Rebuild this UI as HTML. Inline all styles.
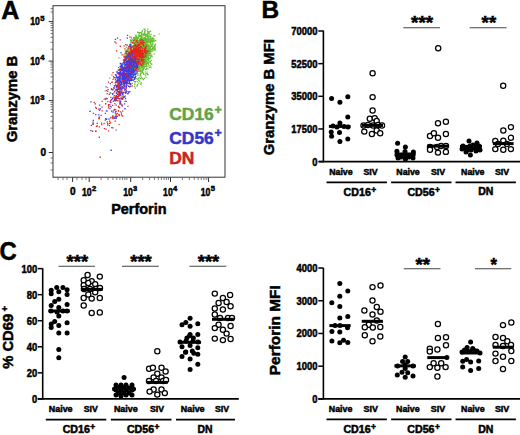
<!DOCTYPE html>
<html><head><meta charset="utf-8"><style>
html,body{margin:0;padding:0;background:#fff;}
svg{display:block;}
text{font-family:"Liberation Sans", sans-serif;font-weight:bold;stroke-width:0.5;}
</style></head><body>
<svg width="520" height="435" viewBox="0 0 520 435">
<defs><filter id="bl" x="-10%" y="-10%" width="120%" height="120%"><feGaussianBlur stdDeviation="0.4"/></filter></defs><rect width="520" height="435" fill="#fff"/>
<text x="1.2" y="18.7" font-size="25" fill="#000" stroke="#000" stroke-width="0.7">A</text><rect x="53" y="5.7" width="172" height="171.5" fill="none" stroke="#333" stroke-width="1"/><g filter="url(#bl)"><path fill="#68be36" d="M147.0 54.2h1.3v1.3h-1.3zM141.3 37.9h1.3v1.3h-1.3zM134.7 52.5h1.3v1.3h-1.3zM141.1 45.4h1.3v1.3h-1.3zM131.6 39.1h1.3v1.3h-1.3zM145.1 35.7h1.3v1.3h-1.3zM141.1 44.1h1.3v1.3h-1.3zM140.0 55.8h1.3v1.3h-1.3zM141.4 42.6h1.3v1.3h-1.3zM142.3 54.2h1.3v1.3h-1.3zM126.6 55.5h1.3v1.3h-1.3zM136.8 45.5h1.3v1.3h-1.3zM126.1 67.3h1.3v1.3h-1.3zM130.1 52.4h1.3v1.3h-1.3zM132.8 65.4h1.3v1.3h-1.3zM141.5 41.8h1.3v1.3h-1.3zM138.0 59.1h1.3v1.3h-1.3zM140.3 43.4h1.3v1.3h-1.3zM147.3 48.4h1.3v1.3h-1.3zM133.4 50.9h1.3v1.3h-1.3zM141.9 48.3h1.3v1.3h-1.3zM136.3 37.2h1.3v1.3h-1.3zM131.4 55.2h1.3v1.3h-1.3zM132.3 68.0h1.3v1.3h-1.3zM137.0 44.0h1.3v1.3h-1.3zM149.6 39.8h1.3v1.3h-1.3zM144.0 46.0h1.3v1.3h-1.3zM135.4 38.4h1.3v1.3h-1.3zM145.1 46.7h1.3v1.3h-1.3zM133.4 68.8h1.3v1.3h-1.3zM142.4 55.4h1.3v1.3h-1.3zM137.0 55.2h1.3v1.3h-1.3zM135.4 45.5h1.3v1.3h-1.3zM141.0 45.0h1.3v1.3h-1.3zM138.1 44.9h1.3v1.3h-1.3zM147.1 42.1h1.3v1.3h-1.3zM141.9 54.3h1.3v1.3h-1.3zM154.7 43.5h1.3v1.3h-1.3zM137.4 68.4h1.3v1.3h-1.3zM140.4 46.3h1.3v1.3h-1.3zM141.9 63.9h1.3v1.3h-1.3zM136.9 64.6h1.3v1.3h-1.3zM135.4 34.4h1.3v1.3h-1.3zM130.2 50.5h1.3v1.3h-1.3zM148.8 52.5h1.3v1.3h-1.3zM140.6 58.3h1.3v1.3h-1.3zM148.2 36.9h1.3v1.3h-1.3zM137.5 58.9h1.3v1.3h-1.3zM137.8 50.6h1.3v1.3h-1.3zM138.1 59.0h1.3v1.3h-1.3zM139.8 47.8h1.3v1.3h-1.3zM130.7 49.8h1.3v1.3h-1.3zM143.9 58.8h1.3v1.3h-1.3zM129.9 49.1h1.3v1.3h-1.3zM147.8 39.6h1.3v1.3h-1.3zM148.4 30.9h1.3v1.3h-1.3zM128.7 51.7h1.3v1.3h-1.3zM131.8 57.2h1.3v1.3h-1.3zM136.8 43.2h1.3v1.3h-1.3zM135.8 52.7h1.3v1.3h-1.3zM146.1 52.0h1.3v1.3h-1.3zM144.4 53.1h1.3v1.3h-1.3zM139.1 55.9h1.3v1.3h-1.3zM139.0 41.9h1.3v1.3h-1.3zM144.6 46.8h1.3v1.3h-1.3zM149.3 40.4h1.3v1.3h-1.3zM142.7 41.0h1.3v1.3h-1.3zM131.8 55.8h1.3v1.3h-1.3zM130.4 52.8h1.3v1.3h-1.3zM136.1 56.0h1.3v1.3h-1.3zM138.1 47.7h1.3v1.3h-1.3zM130.4 69.3h1.3v1.3h-1.3zM146.2 51.6h1.3v1.3h-1.3zM137.8 43.8h1.3v1.3h-1.3zM147.5 63.1h1.3v1.3h-1.3zM152.8 48.4h1.3v1.3h-1.3zM143.4 28.5h1.3v1.3h-1.3zM143.3 48.5h1.3v1.3h-1.3zM144.5 47.0h1.3v1.3h-1.3zM140.9 49.5h1.3v1.3h-1.3zM131.6 65.0h1.3v1.3h-1.3zM136.5 58.5h1.3v1.3h-1.3zM140.6 57.1h1.3v1.3h-1.3zM144.3 43.9h1.3v1.3h-1.3zM140.9 48.2h1.3v1.3h-1.3zM136.1 54.9h1.3v1.3h-1.3zM139.1 56.7h1.3v1.3h-1.3zM142.4 52.4h1.3v1.3h-1.3zM138.4 66.0h1.3v1.3h-1.3zM131.5 56.4h1.3v1.3h-1.3zM134.9 51.5h1.3v1.3h-1.3zM136.9 46.7h1.3v1.3h-1.3zM129.6 59.1h1.3v1.3h-1.3zM144.9 38.5h1.3v1.3h-1.3zM134.1 62.2h1.3v1.3h-1.3zM135.2 66.8h1.3v1.3h-1.3zM133.0 42.1h1.3v1.3h-1.3zM146.0 50.7h1.3v1.3h-1.3zM142.5 47.2h1.3v1.3h-1.3zM144.0 42.3h1.3v1.3h-1.3zM139.7 47.4h1.3v1.3h-1.3zM136.3 42.5h1.3v1.3h-1.3zM139.5 42.1h1.3v1.3h-1.3zM136.4 62.4h1.3v1.3h-1.3zM151.8 37.2h1.3v1.3h-1.3zM140.8 57.7h1.3v1.3h-1.3zM136.3 55.0h1.3v1.3h-1.3zM133.9 46.5h1.3v1.3h-1.3zM127.5 53.9h1.3v1.3h-1.3zM127.1 63.1h1.3v1.3h-1.3zM152.1 47.3h1.3v1.3h-1.3zM145.2 54.0h1.3v1.3h-1.3zM126.9 48.6h1.3v1.3h-1.3zM142.2 50.7h1.3v1.3h-1.3zM138.9 55.9h1.3v1.3h-1.3zM136.5 43.3h1.3v1.3h-1.3zM131.4 64.6h1.3v1.3h-1.3zM136.1 52.1h1.3v1.3h-1.3zM153.1 46.0h1.3v1.3h-1.3zM141.2 56.8h1.3v1.3h-1.3zM147.1 43.8h1.3v1.3h-1.3zM141.2 40.0h1.3v1.3h-1.3zM153.8 49.1h1.3v1.3h-1.3zM138.9 41.7h1.3v1.3h-1.3zM148.9 48.4h1.3v1.3h-1.3zM137.3 46.0h1.3v1.3h-1.3zM138.4 33.0h1.3v1.3h-1.3zM141.1 46.1h1.3v1.3h-1.3zM140.9 65.6h1.3v1.3h-1.3zM133.8 44.7h1.3v1.3h-1.3zM139.1 44.1h1.3v1.3h-1.3zM126.9 67.5h1.3v1.3h-1.3zM143.8 50.1h1.3v1.3h-1.3zM140.0 49.5h1.3v1.3h-1.3zM139.8 46.0h1.3v1.3h-1.3zM144.9 40.1h1.3v1.3h-1.3zM143.4 49.6h1.3v1.3h-1.3zM130.4 59.3h1.3v1.3h-1.3zM147.5 37.2h1.3v1.3h-1.3zM139.8 54.6h1.3v1.3h-1.3zM138.5 56.3h1.3v1.3h-1.3zM137.7 58.1h1.3v1.3h-1.3zM139.9 69.5h1.3v1.3h-1.3zM127.7 51.9h1.3v1.3h-1.3zM135.9 52.2h1.3v1.3h-1.3zM133.1 46.6h1.3v1.3h-1.3zM135.5 64.1h1.3v1.3h-1.3zM138.8 54.5h1.3v1.3h-1.3zM124.6 65.4h1.3v1.3h-1.3zM140.7 46.5h1.3v1.3h-1.3zM141.9 33.5h1.3v1.3h-1.3zM130.5 56.0h1.3v1.3h-1.3zM138.6 51.2h1.3v1.3h-1.3zM143.4 43.2h1.3v1.3h-1.3zM137.0 58.8h1.3v1.3h-1.3zM138.8 61.0h1.3v1.3h-1.3zM149.4 57.6h1.3v1.3h-1.3zM148.1 44.3h1.3v1.3h-1.3zM139.6 49.1h1.3v1.3h-1.3zM147.9 51.1h1.3v1.3h-1.3zM139.3 45.0h1.3v1.3h-1.3zM145.6 39.3h1.3v1.3h-1.3zM134.1 49.7h1.3v1.3h-1.3zM132.9 54.8h1.3v1.3h-1.3zM140.2 45.0h1.3v1.3h-1.3zM146.0 42.1h1.3v1.3h-1.3zM141.1 54.6h1.3v1.3h-1.3zM138.4 34.3h1.3v1.3h-1.3zM132.9 73.5h1.3v1.3h-1.3zM144.7 53.2h1.3v1.3h-1.3zM139.7 52.8h1.3v1.3h-1.3zM135.2 66.5h1.3v1.3h-1.3zM139.1 56.2h1.3v1.3h-1.3zM140.3 46.3h1.3v1.3h-1.3zM140.3 47.9h1.3v1.3h-1.3zM145.1 45.0h1.3v1.3h-1.3zM133.3 54.7h1.3v1.3h-1.3zM145.9 34.0h1.3v1.3h-1.3zM145.5 42.5h1.3v1.3h-1.3zM132.3 54.5h1.3v1.3h-1.3zM141.0 50.5h1.3v1.3h-1.3zM134.3 41.9h1.3v1.3h-1.3zM135.9 56.5h1.3v1.3h-1.3zM137.8 45.4h1.3v1.3h-1.3zM138.0 45.6h1.3v1.3h-1.3zM149.6 51.5h1.3v1.3h-1.3zM143.0 48.7h1.3v1.3h-1.3zM136.3 45.5h1.3v1.3h-1.3zM140.1 45.3h1.3v1.3h-1.3zM135.3 58.7h1.3v1.3h-1.3zM142.4 55.1h1.3v1.3h-1.3zM135.8 50.1h1.3v1.3h-1.3zM150.9 39.6h1.3v1.3h-1.3zM147.9 40.4h1.3v1.3h-1.3zM136.1 51.0h1.3v1.3h-1.3zM143.3 56.1h1.3v1.3h-1.3zM130.9 46.1h1.3v1.3h-1.3zM130.7 47.7h1.3v1.3h-1.3zM132.8 46.3h1.3v1.3h-1.3zM134.3 63.4h1.3v1.3h-1.3zM129.1 47.5h1.3v1.3h-1.3zM154.6 49.4h1.3v1.3h-1.3zM133.2 56.3h1.3v1.3h-1.3zM129.9 49.0h1.3v1.3h-1.3zM147.4 39.8h1.3v1.3h-1.3zM134.2 57.5h1.3v1.3h-1.3zM130.5 64.7h1.3v1.3h-1.3zM133.1 37.6h1.3v1.3h-1.3zM138.0 55.6h1.3v1.3h-1.3zM151.2 44.4h1.3v1.3h-1.3zM132.8 53.5h1.3v1.3h-1.3zM138.8 45.7h1.3v1.3h-1.3zM143.9 56.7h1.3v1.3h-1.3zM147.7 35.5h1.3v1.3h-1.3zM141.5 54.3h1.3v1.3h-1.3zM130.8 69.1h1.3v1.3h-1.3zM142.9 44.5h1.3v1.3h-1.3zM151.4 48.3h1.3v1.3h-1.3zM139.8 59.7h1.3v1.3h-1.3zM133.2 40.1h1.3v1.3h-1.3zM150.8 45.5h1.3v1.3h-1.3zM139.6 48.6h1.3v1.3h-1.3zM133.5 39.5h1.3v1.3h-1.3zM145.5 52.8h1.3v1.3h-1.3zM139.4 65.5h1.3v1.3h-1.3zM125.2 49.7h1.3v1.3h-1.3zM133.0 49.5h1.3v1.3h-1.3zM133.6 44.9h1.3v1.3h-1.3zM139.2 39.0h1.3v1.3h-1.3zM137.1 46.1h1.3v1.3h-1.3zM144.5 57.2h1.3v1.3h-1.3zM137.6 47.9h1.3v1.3h-1.3zM140.3 66.0h1.3v1.3h-1.3zM140.3 43.1h1.3v1.3h-1.3zM134.1 46.0h1.3v1.3h-1.3zM129.9 58.6h1.3v1.3h-1.3zM142.2 48.4h1.3v1.3h-1.3zM140.1 60.0h1.3v1.3h-1.3zM143.3 43.9h1.3v1.3h-1.3zM141.8 40.3h1.3v1.3h-1.3zM141.2 53.3h1.3v1.3h-1.3zM143.4 53.4h1.3v1.3h-1.3zM141.9 66.7h1.3v1.3h-1.3zM134.7 58.1h1.3v1.3h-1.3zM136.6 65.8h1.3v1.3h-1.3zM150.6 41.5h1.3v1.3h-1.3zM133.6 39.0h1.3v1.3h-1.3zM133.0 57.3h1.3v1.3h-1.3zM141.5 62.8h1.3v1.3h-1.3zM139.6 49.2h1.3v1.3h-1.3zM135.6 43.9h1.3v1.3h-1.3zM130.0 57.5h1.3v1.3h-1.3zM143.1 47.1h1.3v1.3h-1.3zM147.7 48.2h1.3v1.3h-1.3zM130.0 62.6h1.3v1.3h-1.3zM131.9 46.1h1.3v1.3h-1.3zM142.6 58.7h1.3v1.3h-1.3zM149.9 43.2h1.3v1.3h-1.3zM138.0 50.0h1.3v1.3h-1.3zM141.5 39.7h1.3v1.3h-1.3zM148.1 51.2h1.3v1.3h-1.3zM133.9 53.0h1.3v1.3h-1.3zM142.4 52.6h1.3v1.3h-1.3zM142.0 46.8h1.3v1.3h-1.3zM132.2 41.6h1.3v1.3h-1.3zM136.3 59.7h1.3v1.3h-1.3zM127.3 56.5h1.3v1.3h-1.3zM128.6 60.2h1.3v1.3h-1.3zM132.4 50.1h1.3v1.3h-1.3zM149.8 53.1h1.3v1.3h-1.3zM145.7 55.7h1.3v1.3h-1.3zM133.8 45.4h1.3v1.3h-1.3zM132.3 50.9h1.3v1.3h-1.3zM135.6 40.7h1.3v1.3h-1.3zM148.0 39.8h1.3v1.3h-1.3zM134.9 72.4h1.3v1.3h-1.3zM141.1 34.1h1.3v1.3h-1.3zM132.9 36.9h1.3v1.3h-1.3zM130.5 44.3h1.3v1.3h-1.3zM130.8 41.8h1.3v1.3h-1.3zM143.2 43.3h1.3v1.3h-1.3zM141.2 55.7h1.3v1.3h-1.3zM138.9 32.1h1.3v1.3h-1.3zM143.4 46.5h1.3v1.3h-1.3zM142.2 68.8h1.3v1.3h-1.3zM141.8 29.9h1.3v1.3h-1.3zM146.7 34.5h1.3v1.3h-1.3zM147.0 56.4h1.3v1.3h-1.3zM141.8 49.6h1.3v1.3h-1.3zM152.9 39.7h1.3v1.3h-1.3zM134.8 38.8h1.3v1.3h-1.3zM138.8 69.0h1.3v1.3h-1.3zM135.9 60.3h1.3v1.3h-1.3zM133.4 60.8h1.3v1.3h-1.3zM142.9 67.4h1.3v1.3h-1.3zM133.9 60.5h1.3v1.3h-1.3zM145.1 55.9h1.3v1.3h-1.3zM132.7 64.5h1.3v1.3h-1.3zM141.2 54.4h1.3v1.3h-1.3zM138.3 45.3h1.3v1.3h-1.3zM137.9 47.7h1.3v1.3h-1.3zM140.4 46.2h1.3v1.3h-1.3zM136.0 57.2h1.3v1.3h-1.3zM153.6 53.3h1.3v1.3h-1.3zM138.7 56.5h1.3v1.3h-1.3zM124.7 64.7h1.3v1.3h-1.3zM147.6 50.3h1.3v1.3h-1.3zM132.3 45.9h1.3v1.3h-1.3zM134.9 36.3h1.3v1.3h-1.3zM152.2 43.8h1.3v1.3h-1.3zM129.4 55.5h1.3v1.3h-1.3zM136.3 40.1h1.3v1.3h-1.3zM135.8 39.7h1.3v1.3h-1.3zM143.0 43.5h1.3v1.3h-1.3zM132.0 52.9h1.3v1.3h-1.3zM129.1 43.9h1.3v1.3h-1.3zM135.5 52.6h1.3v1.3h-1.3zM134.7 41.3h1.3v1.3h-1.3zM144.5 33.8h1.3v1.3h-1.3zM142.1 65.5h1.3v1.3h-1.3zM145.0 34.6h1.3v1.3h-1.3zM135.3 59.6h1.3v1.3h-1.3zM134.3 56.8h1.3v1.3h-1.3zM147.9 37.1h1.3v1.3h-1.3zM141.6 50.5h1.3v1.3h-1.3zM143.6 53.7h1.3v1.3h-1.3zM140.6 41.6h1.3v1.3h-1.3zM139.7 46.5h1.3v1.3h-1.3zM147.8 31.4h1.3v1.3h-1.3zM138.2 63.3h1.3v1.3h-1.3zM132.3 58.4h1.3v1.3h-1.3zM139.7 47.5h1.3v1.3h-1.3zM132.6 56.9h1.3v1.3h-1.3zM143.2 59.7h1.3v1.3h-1.3zM132.6 56.4h1.3v1.3h-1.3zM144.5 30.0h1.3v1.3h-1.3zM152.9 40.1h1.3v1.3h-1.3zM130.2 48.8h1.3v1.3h-1.3zM144.8 48.4h1.3v1.3h-1.3zM143.5 41.9h1.3v1.3h-1.3zM152.1 43.0h1.3v1.3h-1.3zM142.7 64.8h1.3v1.3h-1.3zM136.5 47.9h1.3v1.3h-1.3zM148.4 58.9h1.3v1.3h-1.3zM132.9 37.0h1.3v1.3h-1.3zM138.6 49.8h1.3v1.3h-1.3zM135.3 51.4h1.3v1.3h-1.3zM137.7 67.2h1.3v1.3h-1.3zM132.9 59.1h1.3v1.3h-1.3zM132.2 54.9h1.3v1.3h-1.3zM144.4 44.9h1.3v1.3h-1.3zM130.7 55.0h1.3v1.3h-1.3zM142.6 58.0h1.3v1.3h-1.3zM140.9 50.4h1.3v1.3h-1.3zM136.1 53.5h1.3v1.3h-1.3zM129.3 44.2h1.3v1.3h-1.3zM141.4 33.5h1.3v1.3h-1.3zM144.3 59.9h1.3v1.3h-1.3zM140.2 49.0h1.3v1.3h-1.3zM127.5 52.6h1.3v1.3h-1.3zM146.7 52.3h1.3v1.3h-1.3zM143.0 63.1h1.3v1.3h-1.3zM130.0 59.9h1.3v1.3h-1.3zM141.2 46.1h1.3v1.3h-1.3zM137.7 42.5h1.3v1.3h-1.3zM123.8 56.1h1.3v1.3h-1.3zM127.7 59.8h1.3v1.3h-1.3zM134.7 65.5h1.3v1.3h-1.3zM124.7 52.3h1.3v1.3h-1.3zM140.8 66.2h1.3v1.3h-1.3zM137.4 36.9h1.3v1.3h-1.3zM126.9 62.6h1.3v1.3h-1.3zM142.0 39.4h1.3v1.3h-1.3zM135.4 58.7h1.3v1.3h-1.3zM136.1 35.9h1.3v1.3h-1.3zM129.4 51.1h1.3v1.3h-1.3zM142.3 41.5h1.3v1.3h-1.3zM129.7 39.3h1.3v1.3h-1.3zM132.5 44.9h1.3v1.3h-1.3zM129.3 61.9h1.3v1.3h-1.3zM140.8 55.8h1.3v1.3h-1.3zM143.5 45.0h1.3v1.3h-1.3zM138.9 61.8h1.3v1.3h-1.3zM145.3 55.2h1.3v1.3h-1.3zM149.3 61.1h1.3v1.3h-1.3zM139.9 46.0h1.3v1.3h-1.3zM145.7 43.8h1.3v1.3h-1.3zM138.0 45.3h1.3v1.3h-1.3zM140.5 50.8h1.3v1.3h-1.3zM129.8 54.3h1.3v1.3h-1.3zM145.2 52.1h1.3v1.3h-1.3zM144.6 46.1h1.3v1.3h-1.3zM146.1 51.2h1.3v1.3h-1.3zM147.7 32.4h1.3v1.3h-1.3zM146.1 51.1h1.3v1.3h-1.3zM148.0 35.6h1.3v1.3h-1.3zM141.1 47.8h1.3v1.3h-1.3zM140.3 65.4h1.3v1.3h-1.3zM128.0 49.0h1.3v1.3h-1.3zM128.4 48.0h1.3v1.3h-1.3zM134.8 60.7h1.3v1.3h-1.3zM141.3 62.6h1.3v1.3h-1.3zM134.3 65.7h1.3v1.3h-1.3zM149.9 49.3h1.3v1.3h-1.3zM144.4 42.7h1.3v1.3h-1.3zM139.1 50.0h1.3v1.3h-1.3zM140.2 38.3h1.3v1.3h-1.3zM140.8 45.7h1.3v1.3h-1.3zM138.6 48.0h1.3v1.3h-1.3zM144.4 28.8h1.3v1.3h-1.3zM141.8 49.2h1.3v1.3h-1.3zM144.3 46.2h1.3v1.3h-1.3zM146.6 49.4h1.3v1.3h-1.3zM132.7 65.4h1.3v1.3h-1.3zM135.2 63.3h1.3v1.3h-1.3zM128.5 59.8h1.3v1.3h-1.3zM146.9 55.1h1.3v1.3h-1.3zM143.3 46.1h1.3v1.3h-1.3zM139.7 35.0h1.3v1.3h-1.3zM127.8 69.9h1.3v1.3h-1.3zM145.1 56.7h1.3v1.3h-1.3zM144.8 43.8h1.3v1.3h-1.3zM137.9 55.8h1.3v1.3h-1.3zM136.0 65.2h1.3v1.3h-1.3zM140.6 52.8h1.3v1.3h-1.3zM134.6 44.7h1.3v1.3h-1.3zM138.9 35.7h1.3v1.3h-1.3zM133.8 38.3h1.3v1.3h-1.3zM136.0 45.2h1.3v1.3h-1.3zM135.6 48.8h1.3v1.3h-1.3zM143.0 51.8h1.3v1.3h-1.3zM134.2 58.7h1.3v1.3h-1.3zM131.8 54.9h1.3v1.3h-1.3zM148.3 45.2h1.3v1.3h-1.3zM136.9 41.4h1.3v1.3h-1.3zM138.4 49.7h1.3v1.3h-1.3zM138.1 66.8h1.3v1.3h-1.3zM136.7 48.8h1.3v1.3h-1.3zM149.6 39.3h1.3v1.3h-1.3zM149.7 45.8h1.3v1.3h-1.3zM134.9 40.8h1.3v1.3h-1.3zM143.3 57.2h1.3v1.3h-1.3zM136.1 58.4h1.3v1.3h-1.3zM149.1 50.8h1.3v1.3h-1.3zM149.9 40.7h1.3v1.3h-1.3zM143.6 55.0h1.3v1.3h-1.3zM140.5 45.4h1.3v1.3h-1.3zM147.8 39.1h1.3v1.3h-1.3zM143.2 61.4h1.3v1.3h-1.3zM141.5 54.9h1.3v1.3h-1.3zM132.5 65.5h1.3v1.3h-1.3zM129.5 57.5h1.3v1.3h-1.3zM139.8 53.0h1.3v1.3h-1.3zM143.1 40.0h1.3v1.3h-1.3zM133.5 42.5h1.3v1.3h-1.3zM137.6 48.0h1.3v1.3h-1.3zM142.3 46.6h1.3v1.3h-1.3zM139.0 62.6h1.3v1.3h-1.3zM143.2 47.9h1.3v1.3h-1.3zM134.5 56.1h1.3v1.3h-1.3zM138.5 57.6h1.3v1.3h-1.3zM131.5 49.6h1.3v1.3h-1.3zM136.1 59.8h1.3v1.3h-1.3zM138.9 50.1h1.3v1.3h-1.3zM147.2 28.5h1.3v1.3h-1.3zM133.8 47.3h1.3v1.3h-1.3zM140.5 55.8h1.3v1.3h-1.3zM140.5 45.1h1.3v1.3h-1.3zM141.0 47.3h1.3v1.3h-1.3zM128.8 47.1h1.3v1.3h-1.3zM141.4 66.7h1.3v1.3h-1.3zM143.5 43.0h1.3v1.3h-1.3zM141.5 43.4h1.3v1.3h-1.3zM134.8 64.8h1.3v1.3h-1.3zM144.8 37.1h1.3v1.3h-1.3zM140.4 39.6h1.3v1.3h-1.3zM142.0 66.0h1.3v1.3h-1.3zM154.5 39.9h1.3v1.3h-1.3zM130.5 52.2h1.3v1.3h-1.3zM132.7 61.6h1.3v1.3h-1.3zM144.4 46.7h1.3v1.3h-1.3zM134.0 65.3h1.3v1.3h-1.3zM139.6 51.1h1.3v1.3h-1.3zM137.7 50.7h1.3v1.3h-1.3zM142.3 45.6h1.3v1.3h-1.3zM136.0 47.1h1.3v1.3h-1.3zM140.0 46.9h1.3v1.3h-1.3zM132.8 72.5h1.3v1.3h-1.3zM143.2 55.9h1.3v1.3h-1.3zM137.8 52.3h1.3v1.3h-1.3zM139.8 48.9h1.3v1.3h-1.3zM126.8 50.7h1.3v1.3h-1.3zM141.3 55.9h1.3v1.3h-1.3zM143.9 48.8h1.3v1.3h-1.3zM149.6 46.9h1.3v1.3h-1.3zM136.0 61.3h1.3v1.3h-1.3zM134.3 53.1h1.3v1.3h-1.3zM148.6 52.0h1.3v1.3h-1.3zM131.9 56.0h1.3v1.3h-1.3zM145.2 45.4h1.3v1.3h-1.3zM153.3 34.9h1.3v1.3h-1.3zM138.1 48.0h1.3v1.3h-1.3zM138.9 48.5h1.3v1.3h-1.3zM133.2 64.1h1.3v1.3h-1.3zM136.9 52.1h1.3v1.3h-1.3zM146.9 59.4h1.3v1.3h-1.3zM147.4 46.7h1.3v1.3h-1.3zM130.5 54.2h1.3v1.3h-1.3zM139.2 54.3h1.3v1.3h-1.3zM136.4 53.8h1.3v1.3h-1.3zM144.8 42.5h1.3v1.3h-1.3zM132.3 59.3h1.3v1.3h-1.3zM137.2 57.8h1.3v1.3h-1.3zM133.0 61.7h1.3v1.3h-1.3zM142.1 44.4h1.3v1.3h-1.3zM131.5 58.2h1.3v1.3h-1.3zM142.3 51.0h1.3v1.3h-1.3zM141.7 42.6h1.3v1.3h-1.3zM141.6 67.3h1.3v1.3h-1.3zM142.6 49.2h1.3v1.3h-1.3zM134.3 45.4h1.3v1.3h-1.3zM139.1 54.7h1.3v1.3h-1.3zM143.8 41.2h1.3v1.3h-1.3zM148.0 50.9h1.3v1.3h-1.3zM152.8 40.8h1.3v1.3h-1.3zM135.1 38.4h1.3v1.3h-1.3zM146.1 44.4h1.3v1.3h-1.3zM140.1 57.5h1.3v1.3h-1.3zM138.1 45.8h1.3v1.3h-1.3zM137.0 51.5h1.3v1.3h-1.3zM137.5 47.7h1.3v1.3h-1.3zM130.3 40.9h1.3v1.3h-1.3zM128.1 49.4h1.3v1.3h-1.3zM139.9 57.0h1.3v1.3h-1.3zM138.5 50.5h1.3v1.3h-1.3zM148.3 54.4h1.3v1.3h-1.3zM139.4 63.9h1.3v1.3h-1.3zM129.8 64.3h1.3v1.3h-1.3zM134.8 47.2h1.3v1.3h-1.3zM144.1 50.9h1.3v1.3h-1.3zM133.5 62.3h1.3v1.3h-1.3zM126.2 49.6h1.3v1.3h-1.3zM133.6 50.8h1.3v1.3h-1.3zM139.7 35.9h1.3v1.3h-1.3zM143.2 33.3h1.3v1.3h-1.3zM150.4 33.8h1.3v1.3h-1.3zM145.6 48.7h1.3v1.3h-1.3zM150.9 45.9h1.3v1.3h-1.3zM144.4 33.5h1.3v1.3h-1.3zM141.7 56.7h1.3v1.3h-1.3zM141.3 47.7h1.3v1.3h-1.3zM133.8 52.7h1.3v1.3h-1.3zM140.0 54.7h1.3v1.3h-1.3zM135.7 69.8h1.3v1.3h-1.3zM131.9 64.6h1.3v1.3h-1.3zM134.2 56.1h1.3v1.3h-1.3zM127.9 58.1h1.3v1.3h-1.3zM131.7 50.5h1.3v1.3h-1.3zM133.0 55.9h1.3v1.3h-1.3zM139.6 54.3h1.3v1.3h-1.3zM132.5 65.5h1.3v1.3h-1.3zM133.6 62.6h1.3v1.3h-1.3zM143.3 48.8h1.3v1.3h-1.3zM136.7 45.1h1.3v1.3h-1.3zM140.1 41.5h1.3v1.3h-1.3zM144.5 49.5h1.3v1.3h-1.3zM130.2 50.7h1.3v1.3h-1.3zM135.1 42.3h1.3v1.3h-1.3zM128.8 56.8h1.3v1.3h-1.3zM141.6 42.6h1.3v1.3h-1.3zM136.9 56.7h1.3v1.3h-1.3zM146.2 48.5h1.3v1.3h-1.3zM132.8 47.9h1.3v1.3h-1.3zM145.7 45.4h1.3v1.3h-1.3zM131.1 62.9h1.3v1.3h-1.3zM140.0 48.5h1.3v1.3h-1.3zM145.7 48.1h1.3v1.3h-1.3zM140.5 45.6h1.3v1.3h-1.3zM136.7 65.6h1.3v1.3h-1.3zM138.5 51.3h1.3v1.3h-1.3zM153.3 40.9h1.3v1.3h-1.3zM144.4 49.6h1.3v1.3h-1.3zM139.0 59.9h1.3v1.3h-1.3zM134.5 58.6h1.3v1.3h-1.3zM135.6 51.1h1.3v1.3h-1.3zM125.1 69.2h1.3v1.3h-1.3zM139.9 47.7h1.3v1.3h-1.3zM139.6 56.0h1.3v1.3h-1.3zM146.7 46.7h1.3v1.3h-1.3zM135.5 58.9h1.3v1.3h-1.3zM132.4 52.1h1.3v1.3h-1.3zM131.9 65.2h1.3v1.3h-1.3zM137.1 51.5h1.3v1.3h-1.3zM147.9 59.7h1.3v1.3h-1.3zM133.9 59.7h1.3v1.3h-1.3zM134.8 58.2h1.3v1.3h-1.3zM145.0 54.3h1.3v1.3h-1.3zM132.7 64.6h1.3v1.3h-1.3zM142.8 34.3h1.3v1.3h-1.3zM133.0 50.5h1.3v1.3h-1.3zM141.2 38.6h1.3v1.3h-1.3zM132.5 69.5h1.3v1.3h-1.3zM144.9 52.9h1.3v1.3h-1.3zM141.2 41.7h1.3v1.3h-1.3zM130.2 42.7h1.3v1.3h-1.3zM144.7 40.9h1.3v1.3h-1.3zM149.6 43.4h1.3v1.3h-1.3zM136.7 53.5h1.3v1.3h-1.3zM123.2 54.2h1.3v1.3h-1.3zM139.2 52.8h1.3v1.3h-1.3zM138.3 63.4h1.3v1.3h-1.3zM141.9 51.3h1.3v1.3h-1.3zM125.4 54.0h1.3v1.3h-1.3zM145.7 45.2h1.3v1.3h-1.3zM135.9 51.1h1.3v1.3h-1.3zM136.9 53.4h1.3v1.3h-1.3zM125.1 50.8h1.3v1.3h-1.3zM133.6 39.8h1.3v1.3h-1.3zM135.6 53.5h1.3v1.3h-1.3zM130.7 44.5h1.3v1.3h-1.3zM147.8 41.2h1.3v1.3h-1.3zM149.4 47.0h1.3v1.3h-1.3zM147.9 51.3h1.3v1.3h-1.3zM140.8 38.6h1.3v1.3h-1.3zM140.2 52.7h1.3v1.3h-1.3zM127.4 66.7h1.3v1.3h-1.3zM145.3 61.2h1.3v1.3h-1.3zM145.2 61.3h1.3v1.3h-1.3zM129.4 46.6h1.3v1.3h-1.3zM151.5 49.5h1.3v1.3h-1.3zM129.6 53.0h1.3v1.3h-1.3zM143.8 41.2h1.3v1.3h-1.3zM127.5 60.0h1.3v1.3h-1.3zM142.9 57.2h1.3v1.3h-1.3zM141.5 55.4h1.3v1.3h-1.3zM153.4 38.4h1.3v1.3h-1.3zM152.2 40.4h1.3v1.3h-1.3zM139.2 69.6h1.3v1.3h-1.3zM139.7 47.5h1.3v1.3h-1.3zM125.2 57.3h1.3v1.3h-1.3zM134.1 61.6h1.3v1.3h-1.3zM129.3 60.2h1.3v1.3h-1.3zM140.2 58.6h1.3v1.3h-1.3zM136.9 53.5h1.3v1.3h-1.3zM142.8 37.5h1.3v1.3h-1.3zM135.5 42.5h1.3v1.3h-1.3zM141.1 48.1h1.3v1.3h-1.3zM137.1 48.1h1.3v1.3h-1.3zM132.9 60.1h1.3v1.3h-1.3zM142.9 58.1h1.3v1.3h-1.3zM136.0 39.2h1.3v1.3h-1.3zM138.9 43.8h1.3v1.3h-1.3zM138.2 45.4h1.3v1.3h-1.3zM138.6 67.7h1.3v1.3h-1.3zM133.9 43.5h1.3v1.3h-1.3zM127.8 67.8h1.3v1.3h-1.3zM131.9 61.4h1.3v1.3h-1.3zM150.1 48.8h1.3v1.3h-1.3zM145.4 58.0h1.3v1.3h-1.3zM141.5 38.7h1.3v1.3h-1.3zM136.8 69.2h1.3v1.3h-1.3zM149.6 39.3h1.3v1.3h-1.3zM140.2 32.1h1.3v1.3h-1.3zM138.3 48.4h1.3v1.3h-1.3zM149.7 35.7h1.3v1.3h-1.3zM139.7 61.6h1.3v1.3h-1.3zM138.5 56.2h1.3v1.3h-1.3zM142.9 45.3h1.3v1.3h-1.3zM143.1 63.7h1.3v1.3h-1.3zM140.7 47.1h1.3v1.3h-1.3zM139.1 42.8h1.3v1.3h-1.3zM148.5 33.4h1.3v1.3h-1.3zM142.7 48.3h1.3v1.3h-1.3zM128.5 56.6h1.3v1.3h-1.3zM142.1 49.7h1.3v1.3h-1.3zM147.5 39.1h1.3v1.3h-1.3zM137.6 62.7h1.3v1.3h-1.3zM148.5 45.5h1.3v1.3h-1.3zM133.6 44.5h1.3v1.3h-1.3zM139.9 37.8h1.3v1.3h-1.3zM132.6 41.3h1.3v1.3h-1.3zM137.9 41.5h1.3v1.3h-1.3zM154.0 45.0h1.3v1.3h-1.3zM137.5 36.7h1.3v1.3h-1.3zM130.1 57.7h1.3v1.3h-1.3zM144.0 45.4h1.3v1.3h-1.3zM141.6 50.1h1.3v1.3h-1.3zM145.4 47.0h1.3v1.3h-1.3zM146.1 34.5h1.3v1.3h-1.3zM129.3 44.2h1.3v1.3h-1.3zM129.5 61.8h1.3v1.3h-1.3zM135.3 62.9h1.3v1.3h-1.3zM141.1 39.8h1.3v1.3h-1.3zM134.1 54.3h1.3v1.3h-1.3zM136.5 48.3h1.3v1.3h-1.3zM142.6 47.6h1.3v1.3h-1.3zM144.9 49.6h1.3v1.3h-1.3zM140.0 51.0h1.3v1.3h-1.3zM146.3 34.0h1.3v1.3h-1.3zM142.7 43.5h1.3v1.3h-1.3zM134.4 54.2h1.3v1.3h-1.3zM135.6 58.9h1.3v1.3h-1.3zM134.0 55.7h1.3v1.3h-1.3zM143.4 39.0h1.3v1.3h-1.3zM145.4 40.8h1.3v1.3h-1.3zM139.1 41.2h1.3v1.3h-1.3zM148.3 45.7h1.3v1.3h-1.3zM144.9 51.0h1.3v1.3h-1.3zM129.1 60.0h1.3v1.3h-1.3zM145.5 49.0h1.3v1.3h-1.3zM136.1 54.5h1.3v1.3h-1.3zM136.3 54.0h1.3v1.3h-1.3zM125.5 58.9h1.3v1.3h-1.3zM128.6 47.4h1.3v1.3h-1.3zM130.9 58.8h1.3v1.3h-1.3zM135.7 61.8h1.3v1.3h-1.3zM136.5 55.2h1.3v1.3h-1.3zM130.2 58.9h1.3v1.3h-1.3zM143.1 47.1h1.3v1.3h-1.3zM138.9 56.5h1.3v1.3h-1.3zM140.5 49.8h1.3v1.3h-1.3zM143.2 34.9h1.3v1.3h-1.3zM142.9 48.2h1.3v1.3h-1.3zM131.0 50.5h1.3v1.3h-1.3zM143.1 45.3h1.3v1.3h-1.3zM139.0 50.8h1.3v1.3h-1.3zM133.6 48.7h1.3v1.3h-1.3zM129.5 43.8h1.3v1.3h-1.3zM129.9 47.7h1.3v1.3h-1.3zM141.2 56.5h1.3v1.3h-1.3zM134.7 52.6h1.3v1.3h-1.3zM139.2 45.7h1.3v1.3h-1.3zM134.5 54.2h1.3v1.3h-1.3zM148.8 38.6h1.3v1.3h-1.3zM133.7 43.7h1.3v1.3h-1.3zM133.7 42.1h1.3v1.3h-1.3zM134.1 43.9h1.3v1.3h-1.3zM148.2 41.7h1.3v1.3h-1.3zM129.4 67.8h1.3v1.3h-1.3zM151.1 40.5h1.3v1.3h-1.3zM128.3 66.0h1.3v1.3h-1.3zM127.5 60.1h1.3v1.3h-1.3zM146.2 62.3h1.3v1.3h-1.3zM137.6 49.6h1.3v1.3h-1.3zM140.8 56.4h1.3v1.3h-1.3zM136.0 42.5h1.3v1.3h-1.3zM138.4 34.6h1.3v1.3h-1.3zM139.8 55.3h1.3v1.3h-1.3zM143.7 34.2h1.3v1.3h-1.3zM147.1 52.0h1.3v1.3h-1.3zM147.5 48.4h1.3v1.3h-1.3zM144.3 42.2h1.3v1.3h-1.3zM146.3 47.8h1.3v1.3h-1.3zM147.4 55.8h1.3v1.3h-1.3zM124.6 68.1h1.3v1.3h-1.3zM147.0 38.7h1.3v1.3h-1.3zM137.8 58.6h1.3v1.3h-1.3zM139.8 39.6h1.3v1.3h-1.3zM140.9 43.8h1.3v1.3h-1.3zM137.5 52.4h1.3v1.3h-1.3zM136.7 37.9h1.3v1.3h-1.3zM140.6 56.7h1.3v1.3h-1.3zM124.1 59.1h1.3v1.3h-1.3zM140.8 46.0h1.3v1.3h-1.3zM138.6 53.2h1.3v1.3h-1.3zM131.7 59.8h1.3v1.3h-1.3zM129.9 64.0h1.3v1.3h-1.3zM145.0 36.9h1.3v1.3h-1.3zM138.1 44.5h1.3v1.3h-1.3zM147.1 34.5h1.3v1.3h-1.3zM137.5 65.4h1.3v1.3h-1.3zM140.3 56.5h1.3v1.3h-1.3zM140.5 50.8h1.3v1.3h-1.3zM133.7 47.8h1.3v1.3h-1.3zM137.6 68.4h1.3v1.3h-1.3zM139.4 53.5h1.3v1.3h-1.3zM124.7 50.7h1.3v1.3h-1.3zM140.9 67.3h1.3v1.3h-1.3zM132.8 58.0h1.3v1.3h-1.3zM129.0 64.2h1.3v1.3h-1.3zM135.5 54.5h1.3v1.3h-1.3zM134.4 50.5h1.3v1.3h-1.3zM135.8 56.9h1.3v1.3h-1.3zM138.9 48.0h1.3v1.3h-1.3zM146.9 35.3h1.3v1.3h-1.3zM135.2 48.2h1.3v1.3h-1.3zM136.8 39.0h1.3v1.3h-1.3zM125.8 64.5h1.3v1.3h-1.3zM134.4 42.6h1.3v1.3h-1.3zM143.7 39.0h1.3v1.3h-1.3zM130.5 65.4h1.3v1.3h-1.3zM141.0 32.2h1.3v1.3h-1.3zM135.6 65.4h1.3v1.3h-1.3zM149.7 41.6h1.3v1.3h-1.3zM138.0 55.1h1.3v1.3h-1.3zM146.4 51.4h1.3v1.3h-1.3zM146.8 30.6h1.3v1.3h-1.3zM141.9 38.2h1.3v1.3h-1.3zM135.4 43.5h1.3v1.3h-1.3zM137.4 59.9h1.3v1.3h-1.3zM139.6 62.4h1.3v1.3h-1.3zM136.4 57.0h1.3v1.3h-1.3zM136.0 51.5h1.3v1.3h-1.3zM145.1 53.0h1.3v1.3h-1.3zM138.6 48.2h1.3v1.3h-1.3zM136.0 61.0h1.3v1.3h-1.3zM134.1 59.7h1.3v1.3h-1.3zM141.9 50.3h1.3v1.3h-1.3zM137.2 62.0h1.3v1.3h-1.3zM137.8 47.2h1.3v1.3h-1.3zM135.9 36.5h1.3v1.3h-1.3zM139.7 44.7h1.3v1.3h-1.3zM132.7 61.2h1.3v1.3h-1.3zM141.5 57.0h1.3v1.3h-1.3zM130.8 65.3h1.3v1.3h-1.3zM145.4 59.9h1.3v1.3h-1.3zM139.6 64.9h1.3v1.3h-1.3zM132.7 69.2h1.3v1.3h-1.3zM139.8 53.8h1.3v1.3h-1.3zM124.0 53.3h1.3v1.3h-1.3zM139.2 69.7h1.3v1.3h-1.3zM134.1 47.3h1.3v1.3h-1.3zM137.7 41.0h1.3v1.3h-1.3zM128.0 55.6h1.3v1.3h-1.3zM154.5 45.3h1.3v1.3h-1.3zM135.7 61.6h1.3v1.3h-1.3zM154.5 47.7h1.3v1.3h-1.3zM132.3 41.6h1.3v1.3h-1.3zM141.0 48.2h1.3v1.3h-1.3zM137.8 43.2h1.3v1.3h-1.3zM136.4 46.1h1.3v1.3h-1.3zM141.6 46.3h1.3v1.3h-1.3zM128.3 51.7h1.3v1.3h-1.3zM151.5 38.7h1.3v1.3h-1.3zM138.0 41.5h1.3v1.3h-1.3zM146.2 59.3h1.3v1.3h-1.3zM136.3 42.3h1.3v1.3h-1.3zM139.1 51.6h1.3v1.3h-1.3zM131.8 51.2h1.3v1.3h-1.3zM146.8 41.1h1.3v1.3h-1.3zM128.2 49.5h1.3v1.3h-1.3zM135.6 57.2h1.3v1.3h-1.3zM139.7 42.4h1.3v1.3h-1.3zM143.7 41.3h1.3v1.3h-1.3zM124.6 59.0h1.3v1.3h-1.3zM139.5 53.9h1.3v1.3h-1.3zM144.1 38.2h1.3v1.3h-1.3zM138.0 47.9h1.3v1.3h-1.3zM129.3 50.6h1.3v1.3h-1.3zM143.1 46.4h1.3v1.3h-1.3zM151.4 39.1h1.3v1.3h-1.3zM149.2 46.4h1.3v1.3h-1.3zM134.5 53.1h1.3v1.3h-1.3zM130.9 48.8h1.3v1.3h-1.3zM135.8 52.0h1.3v1.3h-1.3zM141.1 45.0h1.3v1.3h-1.3zM130.4 69.8h1.3v1.3h-1.3zM135.3 58.7h1.3v1.3h-1.3zM129.6 62.7h1.3v1.3h-1.3zM131.1 47.5h1.3v1.3h-1.3zM142.1 49.6h1.3v1.3h-1.3zM133.2 63.6h1.3v1.3h-1.3zM142.1 40.5h1.3v1.3h-1.3zM144.1 48.8h1.3v1.3h-1.3zM143.2 56.1h1.3v1.3h-1.3zM134.5 45.1h1.3v1.3h-1.3zM145.8 48.5h1.3v1.3h-1.3zM138.3 41.9h1.3v1.3h-1.3zM148.5 50.4h1.3v1.3h-1.3zM146.4 52.1h1.3v1.3h-1.3zM144.0 38.7h1.3v1.3h-1.3zM139.8 44.1h1.3v1.3h-1.3zM142.7 40.7h1.3v1.3h-1.3zM136.2 56.4h1.3v1.3h-1.3zM140.6 52.9h1.3v1.3h-1.3zM134.0 43.7h1.3v1.3h-1.3zM138.0 58.3h1.3v1.3h-1.3zM141.3 46.8h1.3v1.3h-1.3zM142.7 53.7h1.3v1.3h-1.3zM146.7 39.2h1.3v1.3h-1.3zM132.0 68.1h1.3v1.3h-1.3zM151.4 56.0h1.3v1.3h-1.3zM143.7 54.9h1.3v1.3h-1.3zM138.8 54.3h1.3v1.3h-1.3zM144.3 40.4h1.3v1.3h-1.3zM143.1 40.7h1.3v1.3h-1.3zM136.1 54.3h1.3v1.3h-1.3zM136.2 55.5h1.3v1.3h-1.3zM138.2 34.9h1.3v1.3h-1.3zM131.9 66.8h1.3v1.3h-1.3zM152.3 37.4h1.3v1.3h-1.3zM152.0 41.4h1.3v1.3h-1.3zM136.7 58.2h1.3v1.3h-1.3zM132.8 41.1h1.3v1.3h-1.3zM146.9 51.7h1.3v1.3h-1.3zM146.1 52.1h1.3v1.3h-1.3zM129.5 64.9h1.3v1.3h-1.3zM137.7 55.1h1.3v1.3h-1.3zM141.7 53.7h1.3v1.3h-1.3zM144.4 40.7h1.3v1.3h-1.3zM154.2 48.5h1.3v1.3h-1.3zM129.2 57.7h1.3v1.3h-1.3zM152.4 50.4h1.3v1.3h-1.3zM146.7 51.8h1.3v1.3h-1.3zM143.6 55.8h1.3v1.3h-1.3zM140.9 58.3h1.3v1.3h-1.3zM143.7 47.7h1.3v1.3h-1.3zM151.8 40.0h1.3v1.3h-1.3zM142.4 58.4h1.3v1.3h-1.3zM138.3 69.2h1.3v1.3h-1.3zM142.5 45.6h1.3v1.3h-1.3zM141.0 41.2h1.3v1.3h-1.3zM141.4 43.1h1.3v1.3h-1.3zM139.0 54.6h1.3v1.3h-1.3zM129.9 46.3h1.3v1.3h-1.3zM149.9 30.6h1.3v1.3h-1.3zM139.2 69.2h1.3v1.3h-1.3zM141.3 50.9h1.3v1.3h-1.3zM138.1 41.0h1.3v1.3h-1.3zM147.1 50.4h1.3v1.3h-1.3zM135.5 56.7h1.3v1.3h-1.3zM140.1 45.5h1.3v1.3h-1.3zM140.7 53.2h1.3v1.3h-1.3zM145.1 63.7h1.3v1.3h-1.3zM136.5 59.1h1.3v1.3h-1.3zM134.8 51.5h1.3v1.3h-1.3zM148.3 47.6h1.3v1.3h-1.3zM149.8 37.7h1.3v1.3h-1.3zM143.3 56.6h1.3v1.3h-1.3zM134.3 64.1h1.3v1.3h-1.3zM145.7 46.6h1.3v1.3h-1.3zM126.6 57.4h1.3v1.3h-1.3zM144.3 32.9h1.3v1.3h-1.3zM125.9 62.8h1.3v1.3h-1.3zM146.9 53.1h1.3v1.3h-1.3zM146.9 53.4h1.3v1.3h-1.3zM143.7 49.3h1.3v1.3h-1.3zM142.0 39.9h1.3v1.3h-1.3zM139.0 46.5h1.3v1.3h-1.3zM141.0 58.1h1.3v1.3h-1.3zM136.8 58.4h1.3v1.3h-1.3zM136.0 57.7h1.3v1.3h-1.3zM143.9 58.3h1.3v1.3h-1.3zM140.6 49.9h1.3v1.3h-1.3zM142.1 51.8h1.3v1.3h-1.3zM143.8 45.1h1.3v1.3h-1.3zM145.9 63.5h1.3v1.3h-1.3zM139.3 47.1h1.3v1.3h-1.3zM137.1 62.5h1.3v1.3h-1.3zM134.7 54.3h1.3v1.3h-1.3zM141.5 49.3h1.3v1.3h-1.3zM143.0 61.8h1.3v1.3h-1.3zM128.6 57.5h1.3v1.3h-1.3zM141.3 48.2h1.3v1.3h-1.3zM137.2 49.1h1.3v1.3h-1.3zM136.2 49.0h1.3v1.3h-1.3zM136.4 68.5h1.3v1.3h-1.3zM133.6 60.0h1.3v1.3h-1.3zM142.5 43.9h1.3v1.3h-1.3zM136.5 58.3h1.3v1.3h-1.3zM143.5 37.2h1.3v1.3h-1.3zM139.6 67.5h1.3v1.3h-1.3zM134.1 59.2h1.3v1.3h-1.3zM139.1 40.7h1.3v1.3h-1.3zM140.0 56.5h1.3v1.3h-1.3zM139.9 53.6h1.3v1.3h-1.3zM134.4 59.7h1.3v1.3h-1.3zM125.5 57.4h1.3v1.3h-1.3zM149.2 35.3h1.3v1.3h-1.3zM137.4 39.7h1.3v1.3h-1.3zM137.8 50.7h1.3v1.3h-1.3zM136.1 66.0h1.3v1.3h-1.3zM134.8 57.4h1.3v1.3h-1.3zM138.3 68.1h1.3v1.3h-1.3zM144.5 44.7h1.3v1.3h-1.3zM132.1 58.3h1.3v1.3h-1.3zM142.7 38.5h1.3v1.3h-1.3zM141.0 48.8h1.3v1.3h-1.3zM143.0 65.6h1.3v1.3h-1.3zM131.9 70.6h1.3v1.3h-1.3zM129.4 47.7h1.3v1.3h-1.3zM143.5 49.1h1.3v1.3h-1.3zM134.5 48.4h1.3v1.3h-1.3zM147.4 49.5h1.3v1.3h-1.3zM149.9 53.3h1.3v1.3h-1.3zM147.1 44.7h1.3v1.3h-1.3zM141.2 35.9h1.3v1.3h-1.3zM139.8 57.3h1.3v1.3h-1.3zM150.0 49.9h1.3v1.3h-1.3zM145.0 40.4h1.3v1.3h-1.3zM138.4 48.2h1.3v1.3h-1.3zM134.9 53.3h1.3v1.3h-1.3zM140.3 41.0h1.3v1.3h-1.3zM138.5 54.7h1.3v1.3h-1.3zM135.7 55.2h1.3v1.3h-1.3zM132.0 72.8h1.3v1.3h-1.3zM139.0 54.3h1.3v1.3h-1.3zM130.2 42.5h1.3v1.3h-1.3zM130.1 44.4h1.3v1.3h-1.3zM144.8 45.6h1.3v1.3h-1.3zM139.8 54.5h1.3v1.3h-1.3zM143.7 37.1h1.3v1.3h-1.3zM144.1 62.2h1.3v1.3h-1.3zM140.5 47.1h1.3v1.3h-1.3zM141.3 52.3h1.3v1.3h-1.3zM140.0 54.4h1.3v1.3h-1.3zM137.3 46.9h1.3v1.3h-1.3zM141.1 53.3h1.3v1.3h-1.3zM145.4 47.8h1.3v1.3h-1.3zM145.2 43.1h1.3v1.3h-1.3zM140.4 44.1h1.3v1.3h-1.3zM145.2 55.2h1.3v1.3h-1.3zM133.9 70.0h1.3v1.3h-1.3zM150.9 50.9h1.3v1.3h-1.3zM141.0 33.8h1.3v1.3h-1.3zM126.0 59.2h1.3v1.3h-1.3zM140.5 42.6h1.3v1.3h-1.3zM141.1 51.1h1.3v1.3h-1.3zM144.4 48.0h1.3v1.3h-1.3zM130.8 45.3h1.3v1.3h-1.3zM141.3 37.3h1.3v1.3h-1.3zM135.6 51.2h1.3v1.3h-1.3zM137.7 54.2h1.3v1.3h-1.3zM131.9 50.6h1.3v1.3h-1.3zM139.7 41.1h1.3v1.3h-1.3zM144.2 37.5h1.3v1.3h-1.3zM138.9 58.6h1.3v1.3h-1.3zM137.9 39.8h1.3v1.3h-1.3zM146.4 57.1h1.3v1.3h-1.3zM130.2 58.1h1.3v1.3h-1.3zM133.1 46.0h1.3v1.3h-1.3zM144.7 48.8h1.3v1.3h-1.3zM144.1 46.1h1.3v1.3h-1.3zM138.0 64.3h1.3v1.3h-1.3zM140.3 37.9h1.3v1.3h-1.3zM141.3 40.8h1.3v1.3h-1.3zM142.3 49.9h1.3v1.3h-1.3zM141.5 68.7h1.3v1.3h-1.3zM135.2 58.7h1.3v1.3h-1.3zM139.9 56.6h1.3v1.3h-1.3zM141.4 46.6h1.3v1.3h-1.3zM147.1 37.9h1.3v1.3h-1.3zM136.5 52.7h1.3v1.3h-1.3zM130.7 56.9h1.3v1.3h-1.3zM148.0 47.7h1.3v1.3h-1.3zM154.1 35.5h1.3v1.3h-1.3zM137.9 58.2h1.3v1.3h-1.3zM137.8 65.7h1.3v1.3h-1.3zM137.4 45.7h1.3v1.3h-1.3zM137.5 51.1h1.3v1.3h-1.3zM144.3 60.2h1.3v1.3h-1.3zM144.9 41.0h1.3v1.3h-1.3zM150.6 59.7h1.3v1.3h-1.3zM140.1 55.2h1.3v1.3h-1.3zM142.3 53.4h1.3v1.3h-1.3zM142.6 52.7h1.3v1.3h-1.3zM133.4 62.6h1.3v1.3h-1.3zM139.3 34.9h1.3v1.3h-1.3zM144.5 60.6h1.3v1.3h-1.3zM147.3 49.6h1.3v1.3h-1.3zM130.7 72.5h1.3v1.3h-1.3zM126.0 59.4h1.3v1.3h-1.3zM148.0 49.8h1.3v1.3h-1.3zM126.6 62.2h1.3v1.3h-1.3zM136.2 56.0h1.3v1.3h-1.3zM139.8 44.2h1.3v1.3h-1.3zM148.1 50.6h1.3v1.3h-1.3zM130.9 60.6h1.3v1.3h-1.3zM141.1 36.0h1.3v1.3h-1.3zM129.7 51.5h1.3v1.3h-1.3zM140.0 59.9h1.3v1.3h-1.3zM128.2 55.4h1.3v1.3h-1.3zM146.8 61.4h1.3v1.3h-1.3zM136.7 47.7h1.3v1.3h-1.3zM142.4 50.5h1.3v1.3h-1.3zM129.2 45.0h1.3v1.3h-1.3zM139.2 47.5h1.3v1.3h-1.3zM134.9 39.3h1.3v1.3h-1.3zM140.8 39.5h1.3v1.3h-1.3zM139.5 70.8h1.3v1.3h-1.3zM139.0 56.9h1.3v1.3h-1.3zM144.7 55.3h1.3v1.3h-1.3zM150.3 43.2h1.3v1.3h-1.3zM132.8 39.9h1.3v1.3h-1.3zM133.0 67.7h1.3v1.3h-1.3zM137.6 61.4h1.3v1.3h-1.3zM131.5 45.7h1.3v1.3h-1.3zM128.0 58.1h1.3v1.3h-1.3zM134.0 59.1h1.3v1.3h-1.3zM149.7 47.9h1.3v1.3h-1.3zM131.5 58.9h1.3v1.3h-1.3zM150.9 38.3h1.3v1.3h-1.3zM135.6 61.2h1.3v1.3h-1.3zM148.0 61.9h1.3v1.3h-1.3zM141.0 50.9h1.3v1.3h-1.3zM128.2 59.0h1.3v1.3h-1.3zM132.5 55.9h1.3v1.3h-1.3zM140.1 54.3h1.3v1.3h-1.3zM145.8 51.3h1.3v1.3h-1.3zM134.4 64.7h1.3v1.3h-1.3zM149.2 52.8h1.3v1.3h-1.3zM139.9 54.0h1.3v1.3h-1.3zM137.9 60.0h1.3v1.3h-1.3zM137.0 45.5h1.3v1.3h-1.3zM136.9 55.2h1.3v1.3h-1.3zM134.8 42.4h1.3v1.3h-1.3zM140.8 41.6h1.3v1.3h-1.3zM133.6 53.3h1.3v1.3h-1.3zM139.0 44.4h1.3v1.3h-1.3zM143.1 54.4h1.3v1.3h-1.3zM136.8 42.9h1.3v1.3h-1.3zM146.1 39.8h1.3v1.3h-1.3zM140.7 62.8h1.3v1.3h-1.3zM142.8 54.7h1.3v1.3h-1.3zM138.7 57.3h1.3v1.3h-1.3zM134.1 67.7h1.3v1.3h-1.3zM133.4 66.2h1.3v1.3h-1.3zM144.9 45.3h1.3v1.3h-1.3zM137.9 36.6h1.3v1.3h-1.3zM155.1 40.0h1.3v1.3h-1.3zM129.2 60.6h1.3v1.3h-1.3zM136.4 56.5h1.3v1.3h-1.3zM140.0 44.6h1.3v1.3h-1.3zM140.1 63.3h1.3v1.3h-1.3zM144.1 57.3h1.3v1.3h-1.3zM139.4 45.0h1.3v1.3h-1.3zM148.7 41.8h1.3v1.3h-1.3zM127.4 51.8h1.3v1.3h-1.3zM140.2 57.9h1.3v1.3h-1.3zM148.2 57.9h1.3v1.3h-1.3zM141.2 49.0h1.3v1.3h-1.3zM135.6 44.8h1.3v1.3h-1.3zM134.6 50.5h1.3v1.3h-1.3zM139.5 42.8h1.3v1.3h-1.3zM129.8 48.4h1.3v1.3h-1.3zM141.0 58.8h1.3v1.3h-1.3zM136.4 48.8h1.3v1.3h-1.3zM145.2 36.1h1.3v1.3h-1.3zM144.1 57.4h1.3v1.3h-1.3zM134.7 69.2h1.3v1.3h-1.3zM129.6 59.8h1.3v1.3h-1.3zM136.7 58.0h1.3v1.3h-1.3zM141.2 50.8h1.3v1.3h-1.3zM148.0 52.6h1.3v1.3h-1.3zM150.3 36.5h1.3v1.3h-1.3zM140.0 42.8h1.3v1.3h-1.3zM137.6 63.2h1.3v1.3h-1.3zM144.1 52.9h1.3v1.3h-1.3zM133.7 63.4h1.3v1.3h-1.3zM135.2 37.9h1.3v1.3h-1.3zM124.9 51.2h1.3v1.3h-1.3zM141.1 50.8h1.3v1.3h-1.3zM144.9 57.4h1.3v1.3h-1.3zM144.9 37.6h1.3v1.3h-1.3zM136.4 52.4h1.3v1.3h-1.3zM144.6 58.8h1.3v1.3h-1.3zM138.1 47.9h1.3v1.3h-1.3zM141.2 54.6h1.3v1.3h-1.3zM139.1 55.7h1.3v1.3h-1.3zM146.7 54.8h1.3v1.3h-1.3zM135.8 36.1h1.3v1.3h-1.3zM142.4 54.4h1.3v1.3h-1.3zM141.8 57.4h1.3v1.3h-1.3zM143.9 49.3h1.3v1.3h-1.3zM140.5 52.4h1.3v1.3h-1.3zM132.7 42.1h1.3v1.3h-1.3zM129.2 57.2h1.3v1.3h-1.3zM148.0 35.5h1.3v1.3h-1.3zM141.6 47.8h1.3v1.3h-1.3zM132.5 54.1h1.3v1.3h-1.3zM140.5 41.8h1.3v1.3h-1.3zM147.0 36.2h1.3v1.3h-1.3zM138.2 49.5h1.3v1.3h-1.3zM138.9 51.8h1.3v1.3h-1.3zM135.6 62.8h1.3v1.3h-1.3zM136.9 41.8h1.3v1.3h-1.3zM133.7 55.9h1.3v1.3h-1.3zM138.3 51.2h1.3v1.3h-1.3zM140.9 50.8h1.3v1.3h-1.3zM139.7 41.6h1.3v1.3h-1.3zM138.8 46.7h1.3v1.3h-1.3zM133.2 50.0h1.3v1.3h-1.3zM138.2 60.0h1.3v1.3h-1.3zM145.0 44.9h1.3v1.3h-1.3zM138.1 58.2h1.3v1.3h-1.3zM140.5 52.0h1.3v1.3h-1.3zM141.7 38.6h1.3v1.3h-1.3zM140.7 40.5h1.3v1.3h-1.3zM139.2 44.6h1.3v1.3h-1.3zM148.9 51.7h1.3v1.3h-1.3zM132.9 55.6h1.3v1.3h-1.3zM139.6 54.8h1.3v1.3h-1.3zM126.7 68.8h1.3v1.3h-1.3zM129.2 64.6h1.3v1.3h-1.3zM133.8 48.2h1.3v1.3h-1.3zM125.6 52.6h1.3v1.3h-1.3zM135.7 47.1h1.3v1.3h-1.3zM150.0 43.0h1.3v1.3h-1.3zM133.5 58.2h1.3v1.3h-1.3zM143.9 52.2h1.3v1.3h-1.3zM131.8 66.7h1.3v1.3h-1.3zM146.8 32.6h1.3v1.3h-1.3zM140.3 48.6h1.3v1.3h-1.3zM139.8 64.6h1.3v1.3h-1.3zM141.5 48.6h1.3v1.3h-1.3zM147.1 45.8h1.3v1.3h-1.3zM134.1 70.2h1.3v1.3h-1.3zM137.8 56.7h1.3v1.3h-1.3zM131.4 55.3h1.3v1.3h-1.3zM143.5 41.5h1.3v1.3h-1.3zM136.6 52.7h1.3v1.3h-1.3zM139.7 49.8h1.3v1.3h-1.3zM142.8 54.8h1.3v1.3h-1.3zM140.0 35.1h1.3v1.3h-1.3zM148.4 32.2h1.3v1.3h-1.3zM138.7 44.5h1.3v1.3h-1.3zM145.4 60.0h1.3v1.3h-1.3zM138.2 52.4h1.3v1.3h-1.3zM154.6 43.8h1.3v1.3h-1.3zM132.3 64.4h1.3v1.3h-1.3zM150.2 55.2h1.3v1.3h-1.3zM146.4 49.0h1.3v1.3h-1.3zM143.0 38.5h1.3v1.3h-1.3zM139.6 40.3h1.3v1.3h-1.3zM145.4 50.3h1.3v1.3h-1.3zM148.4 47.5h1.3v1.3h-1.3zM147.5 55.7h1.3v1.3h-1.3zM140.0 46.8h1.3v1.3h-1.3zM146.2 51.4h1.3v1.3h-1.3zM141.3 48.4h1.3v1.3h-1.3zM136.9 65.2h1.3v1.3h-1.3zM151.1 54.5h1.3v1.3h-1.3zM139.8 50.0h1.3v1.3h-1.3zM141.9 57.9h1.3v1.3h-1.3zM135.5 50.2h1.3v1.3h-1.3zM132.6 51.7h1.3v1.3h-1.3zM140.5 37.0h1.3v1.3h-1.3zM137.1 37.4h1.3v1.3h-1.3zM146.7 53.1h1.3v1.3h-1.3zM139.3 44.3h1.3v1.3h-1.3zM136.0 50.6h1.3v1.3h-1.3zM147.2 56.0h1.3v1.3h-1.3zM137.4 57.4h1.3v1.3h-1.3zM144.3 61.1h1.3v1.3h-1.3zM144.8 53.7h1.3v1.3h-1.3zM139.6 43.0h1.3v1.3h-1.3zM149.0 45.6h1.3v1.3h-1.3zM139.7 62.8h1.3v1.3h-1.3zM135.6 40.3h1.3v1.3h-1.3zM139.1 44.0h1.3v1.3h-1.3zM143.6 42.4h1.3v1.3h-1.3zM141.9 64.1h1.3v1.3h-1.3zM133.7 49.4h1.3v1.3h-1.3zM135.2 46.8h1.3v1.3h-1.3zM141.9 45.9h1.3v1.3h-1.3zM142.8 55.2h1.3v1.3h-1.3zM140.7 64.8h1.3v1.3h-1.3zM139.8 47.5h1.3v1.3h-1.3zM140.6 58.4h1.3v1.3h-1.3zM138.8 51.0h1.3v1.3h-1.3zM142.5 38.8h1.3v1.3h-1.3zM142.0 53.3h1.3v1.3h-1.3zM144.3 39.1h1.3v1.3h-1.3zM141.5 48.5h1.3v1.3h-1.3zM152.4 46.6h1.3v1.3h-1.3zM135.8 58.6h1.3v1.3h-1.3zM143.8 51.9h1.3v1.3h-1.3zM146.9 35.3h1.3v1.3h-1.3zM148.1 50.8h1.3v1.3h-1.3zM130.7 60.0h1.3v1.3h-1.3zM138.6 54.3h1.3v1.3h-1.3zM138.5 46.3h1.3v1.3h-1.3zM144.0 31.1h1.3v1.3h-1.3zM146.0 54.7h1.3v1.3h-1.3zM143.8 42.4h1.3v1.3h-1.3zM146.9 48.4h1.3v1.3h-1.3zM144.2 51.7h1.3v1.3h-1.3zM136.9 59.0h1.3v1.3h-1.3zM128.2 63.6h1.3v1.3h-1.3zM142.8 64.3h1.3v1.3h-1.3zM140.2 55.3h1.3v1.3h-1.3zM135.2 58.5h1.3v1.3h-1.3zM134.2 50.5h1.3v1.3h-1.3zM134.4 37.4h1.3v1.3h-1.3zM136.9 58.1h1.3v1.3h-1.3zM133.3 65.2h1.3v1.3h-1.3zM136.3 68.7h1.3v1.3h-1.3zM127.2 50.2h1.3v1.3h-1.3zM125.2 58.7h1.3v1.3h-1.3zM143.8 55.3h1.3v1.3h-1.3zM131.3 51.1h1.3v1.3h-1.3zM136.9 58.8h1.3v1.3h-1.3zM135.2 34.7h1.3v1.3h-1.3zM145.6 55.7h1.3v1.3h-1.3zM128.3 58.8h1.3v1.3h-1.3zM135.8 50.6h1.3v1.3h-1.3zM134.4 54.3h1.3v1.3h-1.3zM133.6 50.3h1.3v1.3h-1.3zM140.8 47.5h1.3v1.3h-1.3zM145.7 65.5h1.3v1.3h-1.3zM138.2 65.1h1.3v1.3h-1.3zM138.3 59.0h1.3v1.3h-1.3zM146.8 47.8h1.3v1.3h-1.3zM140.7 34.6h1.3v1.3h-1.3zM128.0 55.0h1.3v1.3h-1.3zM144.1 52.7h1.3v1.3h-1.3zM146.0 37.9h1.3v1.3h-1.3zM137.7 54.6h1.3v1.3h-1.3zM143.5 42.3h1.3v1.3h-1.3zM138.8 64.5h1.3v1.3h-1.3zM127.8 65.4h1.3v1.3h-1.3zM146.6 38.9h1.3v1.3h-1.3zM141.4 48.4h1.3v1.3h-1.3zM144.0 40.2h1.3v1.3h-1.3zM132.7 70.2h1.3v1.3h-1.3zM152.8 37.7h1.3v1.3h-1.3zM137.3 54.8h1.3v1.3h-1.3zM146.0 52.3h1.3v1.3h-1.3zM131.2 55.8h1.3v1.3h-1.3zM137.8 57.0h1.3v1.3h-1.3zM138.6 46.9h1.3v1.3h-1.3zM137.0 40.4h1.3v1.3h-1.3zM135.3 49.4h1.3v1.3h-1.3zM142.5 63.6h1.3v1.3h-1.3zM132.4 51.0h1.3v1.3h-1.3zM134.0 47.5h1.3v1.3h-1.3zM147.3 46.9h1.3v1.3h-1.3zM138.0 37.7h1.3v1.3h-1.3zM149.9 56.8h1.3v1.3h-1.3zM146.2 55.9h1.3v1.3h-1.3zM138.3 31.9h1.3v1.3h-1.3zM149.5 40.6h1.3v1.3h-1.3zM153.5 46.3h1.3v1.3h-1.3zM142.2 46.2h1.3v1.3h-1.3zM140.4 43.6h1.3v1.3h-1.3zM130.1 40.3h1.3v1.3h-1.3zM144.2 32.1h1.3v1.3h-1.3zM144.0 46.0h1.3v1.3h-1.3zM140.9 49.7h1.3v1.3h-1.3zM130.4 45.5h1.3v1.3h-1.3zM144.4 59.0h1.3v1.3h-1.3zM129.1 57.7h1.3v1.3h-1.3zM146.5 35.1h1.3v1.3h-1.3zM145.4 49.8h1.3v1.3h-1.3zM141.7 44.8h1.3v1.3h-1.3zM129.0 62.9h1.3v1.3h-1.3zM142.3 69.4h1.3v1.3h-1.3zM136.8 54.0h1.3v1.3h-1.3zM140.9 47.8h1.3v1.3h-1.3zM138.2 43.8h1.3v1.3h-1.3zM133.6 56.4h1.3v1.3h-1.3zM132.8 57.0h1.3v1.3h-1.3zM143.9 52.4h1.3v1.3h-1.3zM136.6 61.7h1.3v1.3h-1.3zM143.5 60.4h1.3v1.3h-1.3zM134.6 63.0h1.3v1.3h-1.3zM134.5 40.2h1.3v1.3h-1.3zM140.7 50.1h1.3v1.3h-1.3zM134.6 58.0h1.3v1.3h-1.3zM145.0 41.8h1.3v1.3h-1.3zM136.3 54.3h1.3v1.3h-1.3zM148.6 49.7h1.3v1.3h-1.3zM147.0 45.0h1.3v1.3h-1.3zM137.0 31.6h1.3v1.3h-1.3zM143.4 53.2h1.3v1.3h-1.3zM129.3 62.7h1.3v1.3h-1.3zM142.2 55.3h1.3v1.3h-1.3zM134.4 66.4h1.3v1.3h-1.3zM142.9 44.5h1.3v1.3h-1.3zM147.0 52.6h1.3v1.3h-1.3zM139.9 48.7h1.3v1.3h-1.3zM141.4 55.9h1.3v1.3h-1.3zM141.6 55.4h1.3v1.3h-1.3zM146.0 52.9h1.3v1.3h-1.3zM136.1 58.8h1.3v1.3h-1.3zM142.9 48.7h1.3v1.3h-1.3zM146.2 41.1h1.3v1.3h-1.3zM154.3 47.3h1.3v1.3h-1.3zM136.6 40.1h1.3v1.3h-1.3zM136.8 66.4h1.3v1.3h-1.3zM139.1 55.3h1.3v1.3h-1.3zM145.8 56.0h1.3v1.3h-1.3zM137.7 36.5h1.3v1.3h-1.3zM138.5 47.6h1.3v1.3h-1.3zM137.2 65.2h1.3v1.3h-1.3zM141.0 53.5h1.3v1.3h-1.3zM141.4 39.3h1.3v1.3h-1.3zM141.2 65.6h1.3v1.3h-1.3zM138.0 54.0h1.3v1.3h-1.3zM138.0 54.9h1.3v1.3h-1.3zM139.0 54.2h1.3v1.3h-1.3zM133.3 45.2h1.3v1.3h-1.3zM128.0 66.6h1.3v1.3h-1.3zM133.5 51.0h1.3v1.3h-1.3zM129.2 58.2h1.3v1.3h-1.3zM136.5 54.6h1.3v1.3h-1.3zM128.7 65.4h1.3v1.3h-1.3zM139.6 47.4h1.3v1.3h-1.3zM130.9 63.3h1.3v1.3h-1.3zM143.1 53.3h1.3v1.3h-1.3zM135.7 68.5h1.3v1.3h-1.3zM137.9 56.1h1.3v1.3h-1.3zM136.6 42.4h1.3v1.3h-1.3zM134.6 58.6h1.3v1.3h-1.3zM138.7 42.9h1.3v1.3h-1.3zM128.6 63.0h1.3v1.3h-1.3zM147.0 50.5h1.3v1.3h-1.3zM134.6 55.3h1.3v1.3h-1.3zM137.1 52.6h1.3v1.3h-1.3zM132.0 59.2h1.3v1.3h-1.3zM140.1 49.5h1.3v1.3h-1.3zM132.9 48.5h1.3v1.3h-1.3zM132.1 54.7h1.3v1.3h-1.3zM151.4 45.0h1.3v1.3h-1.3zM149.2 52.1h1.3v1.3h-1.3zM135.7 53.4h1.3v1.3h-1.3zM134.4 64.3h1.3v1.3h-1.3zM137.2 55.9h1.3v1.3h-1.3zM139.3 46.0h1.3v1.3h-1.3zM133.6 61.9h1.3v1.3h-1.3zM138.5 52.0h1.3v1.3h-1.3zM140.3 44.3h1.3v1.3h-1.3zM147.4 58.2h1.3v1.3h-1.3zM142.7 40.8h1.3v1.3h-1.3zM132.2 59.0h1.3v1.3h-1.3zM145.1 49.7h1.3v1.3h-1.3zM137.4 48.8h1.3v1.3h-1.3zM137.0 49.4h1.3v1.3h-1.3zM140.2 63.9h1.3v1.3h-1.3zM146.7 53.1h1.3v1.3h-1.3zM138.3 56.5h1.3v1.3h-1.3zM131.0 40.1h1.3v1.3h-1.3zM137.7 65.5h1.3v1.3h-1.3zM129.0 45.4h1.3v1.3h-1.3zM129.9 55.3h1.3v1.3h-1.3zM145.8 59.5h1.3v1.3h-1.3zM148.2 61.5h1.3v1.3h-1.3zM133.9 51.5h1.3v1.3h-1.3zM151.1 38.5h1.3v1.3h-1.3zM150.6 43.9h1.3v1.3h-1.3zM127.3 65.1h1.3v1.3h-1.3zM142.3 47.2h1.3v1.3h-1.3zM139.6 42.8h1.3v1.3h-1.3zM146.6 47.3h1.3v1.3h-1.3zM146.8 48.3h1.3v1.3h-1.3zM137.5 47.4h1.3v1.3h-1.3zM140.9 49.1h1.3v1.3h-1.3zM134.4 65.7h1.3v1.3h-1.3zM140.8 50.9h1.3v1.3h-1.3zM139.9 57.1h1.3v1.3h-1.3zM138.1 43.0h1.3v1.3h-1.3zM145.3 49.6h1.3v1.3h-1.3zM137.3 41.3h1.3v1.3h-1.3zM135.2 60.5h1.3v1.3h-1.3zM131.3 56.5h1.3v1.3h-1.3zM139.3 43.5h1.3v1.3h-1.3zM131.9 59.0h1.3v1.3h-1.3zM127.0 64.0h1.3v1.3h-1.3zM137.7 52.4h1.3v1.3h-1.3zM130.0 59.9h1.3v1.3h-1.3zM135.9 59.6h1.3v1.3h-1.3zM130.9 49.5h1.3v1.3h-1.3zM137.3 43.4h1.3v1.3h-1.3zM134.9 45.3h1.3v1.3h-1.3zM139.1 48.2h1.3v1.3h-1.3zM141.5 52.1h1.3v1.3h-1.3zM141.2 47.7h1.3v1.3h-1.3zM131.9 46.6h1.3v1.3h-1.3zM125.7 46.5h1.3v1.3h-1.3zM127.2 71.8h1.3v1.3h-1.3zM146.0 57.3h1.3v1.3h-1.3zM147.5 47.9h1.3v1.3h-1.3zM139.7 55.4h1.3v1.3h-1.3zM146.4 41.7h1.3v1.3h-1.3zM140.6 48.3h1.3v1.3h-1.3zM129.6 57.8h1.3v1.3h-1.3zM134.9 65.9h1.3v1.3h-1.3zM133.7 52.1h1.3v1.3h-1.3zM136.9 46.4h1.3v1.3h-1.3zM153.9 46.2h1.3v1.3h-1.3zM136.7 45.2h1.3v1.3h-1.3zM134.0 43.9h1.3v1.3h-1.3zM133.8 36.8h1.3v1.3h-1.3zM135.6 54.7h1.3v1.3h-1.3zM130.8 51.7h1.3v1.3h-1.3zM140.6 47.6h1.3v1.3h-1.3zM128.9 64.9h1.3v1.3h-1.3zM145.0 51.5h1.3v1.3h-1.3zM139.4 55.3h1.3v1.3h-1.3zM140.7 55.8h1.3v1.3h-1.3zM132.9 55.6h1.3v1.3h-1.3zM132.1 56.1h1.3v1.3h-1.3zM142.6 47.1h1.3v1.3h-1.3zM135.4 56.2h1.3v1.3h-1.3zM140.8 56.3h1.3v1.3h-1.3zM152.3 48.0h1.3v1.3h-1.3zM146.6 44.0h1.3v1.3h-1.3zM145.0 51.9h1.3v1.3h-1.3zM148.2 51.9h1.3v1.3h-1.3zM141.5 61.2h1.3v1.3h-1.3z"/><path fill="#68be36" d="M143.4 62.6h1.2v1.2h-1.2zM131.0 37.9h1.2v1.2h-1.2zM130.1 70.0h1.2v1.2h-1.2zM126.8 66.1h1.2v1.2h-1.2zM134.0 60.2h1.2v1.2h-1.2zM130.9 36.5h1.2v1.2h-1.2zM141.5 42.0h1.2v1.2h-1.2zM137.7 48.1h1.2v1.2h-1.2zM140.7 39.5h1.2v1.2h-1.2zM145.7 65.0h1.2v1.2h-1.2zM142.2 62.9h1.2v1.2h-1.2zM141.3 35.3h1.2v1.2h-1.2zM158.5 33.4h1.2v1.2h-1.2zM137.1 60.9h1.2v1.2h-1.2zM134.7 67.9h1.2v1.2h-1.2zM149.6 48.4h1.2v1.2h-1.2zM134.5 52.3h1.2v1.2h-1.2zM125.9 62.8h1.2v1.2h-1.2zM139.6 62.9h1.2v1.2h-1.2zM128.3 62.9h1.2v1.2h-1.2zM134.6 73.5h1.2v1.2h-1.2zM123.4 55.4h1.2v1.2h-1.2zM151.4 45.3h1.2v1.2h-1.2zM134.4 55.7h1.2v1.2h-1.2zM129.9 54.6h1.2v1.2h-1.2zM153.2 47.8h1.2v1.2h-1.2zM144.9 43.7h1.2v1.2h-1.2zM142.2 55.6h1.2v1.2h-1.2zM141.5 31.0h1.2v1.2h-1.2zM131.7 55.1h1.2v1.2h-1.2zM131.9 74.8h1.2v1.2h-1.2zM136.0 38.1h1.2v1.2h-1.2zM147.8 45.7h1.2v1.2h-1.2zM149.7 55.1h1.2v1.2h-1.2zM144.7 71.4h1.2v1.2h-1.2zM138.6 63.8h1.2v1.2h-1.2zM134.5 81.5h1.2v1.2h-1.2zM132.9 54.9h1.2v1.2h-1.2zM132.0 71.9h1.2v1.2h-1.2zM148.8 40.6h1.2v1.2h-1.2zM129.1 59.3h1.2v1.2h-1.2zM128.0 70.5h1.2v1.2h-1.2zM124.2 78.0h1.2v1.2h-1.2zM143.0 42.0h1.2v1.2h-1.2zM131.4 57.4h1.2v1.2h-1.2zM145.7 49.5h1.2v1.2h-1.2zM140.3 35.5h1.2v1.2h-1.2zM125.4 70.6h1.2v1.2h-1.2zM128.7 74.0h1.2v1.2h-1.2zM127.7 60.4h1.2v1.2h-1.2z"/><path fill="#68be36" d="M143.4 66.7h1.3v1.3h-1.3zM136.5 66.0h1.3v1.3h-1.3zM137.5 58.9h1.3v1.3h-1.3zM127.3 77.1h1.3v1.3h-1.3zM141.8 60.7h1.3v1.3h-1.3zM133.7 56.2h1.3v1.3h-1.3zM133.8 72.9h1.3v1.3h-1.3zM143.5 59.4h1.3v1.3h-1.3zM133.7 65.9h1.3v1.3h-1.3zM137.2 63.7h1.3v1.3h-1.3zM149.8 61.1h1.3v1.3h-1.3zM134.0 63.2h1.3v1.3h-1.3zM141.1 61.6h1.3v1.3h-1.3zM139.9 64.6h1.3v1.3h-1.3zM132.6 61.4h1.3v1.3h-1.3zM136.6 72.0h1.3v1.3h-1.3zM140.4 65.0h1.3v1.3h-1.3zM131.5 59.4h1.3v1.3h-1.3zM133.2 73.2h1.3v1.3h-1.3zM138.5 64.5h1.3v1.3h-1.3zM142.8 48.3h1.3v1.3h-1.3zM131.0 65.6h1.3v1.3h-1.3zM144.5 50.4h1.3v1.3h-1.3zM135.7 65.9h1.3v1.3h-1.3zM137.6 64.7h1.3v1.3h-1.3zM138.6 54.2h1.3v1.3h-1.3zM135.3 68.8h1.3v1.3h-1.3zM142.3 61.4h1.3v1.3h-1.3zM144.4 58.3h1.3v1.3h-1.3zM140.9 61.1h1.3v1.3h-1.3zM143.9 58.9h1.3v1.3h-1.3zM132.4 60.6h1.3v1.3h-1.3zM134.5 68.9h1.3v1.3h-1.3zM140.3 83.6h1.3v1.3h-1.3zM148.3 55.1h1.3v1.3h-1.3zM147.8 63.3h1.3v1.3h-1.3zM140.5 82.3h1.3v1.3h-1.3zM134.2 83.6h1.3v1.3h-1.3zM141.8 65.7h1.3v1.3h-1.3zM144.3 61.4h1.3v1.3h-1.3zM133.8 70.9h1.3v1.3h-1.3zM137.3 73.3h1.3v1.3h-1.3zM130.5 66.5h1.3v1.3h-1.3zM136.2 56.0h1.3v1.3h-1.3zM134.1 69.1h1.3v1.3h-1.3zM139.7 73.3h1.3v1.3h-1.3zM130.2 69.7h1.3v1.3h-1.3zM132.2 70.1h1.3v1.3h-1.3zM139.0 80.7h1.3v1.3h-1.3zM135.3 53.9h1.3v1.3h-1.3zM137.1 78.6h1.3v1.3h-1.3zM142.1 69.7h1.3v1.3h-1.3zM140.2 69.9h1.3v1.3h-1.3zM138.8 66.5h1.3v1.3h-1.3zM146.1 62.6h1.3v1.3h-1.3zM137.4 58.3h1.3v1.3h-1.3zM137.3 58.8h1.3v1.3h-1.3zM140.3 59.2h1.3v1.3h-1.3zM139.1 67.8h1.3v1.3h-1.3zM133.0 79.2h1.3v1.3h-1.3zM140.1 77.7h1.3v1.3h-1.3zM135.6 52.9h1.3v1.3h-1.3zM133.8 85.7h1.3v1.3h-1.3zM132.9 69.5h1.3v1.3h-1.3zM134.8 74.4h1.3v1.3h-1.3zM147.3 66.0h1.3v1.3h-1.3zM133.8 61.5h1.3v1.3h-1.3zM146.4 73.1h1.3v1.3h-1.3zM133.9 80.9h1.3v1.3h-1.3zM143.5 56.3h1.3v1.3h-1.3zM134.2 66.5h1.3v1.3h-1.3zM141.9 65.5h1.3v1.3h-1.3zM144.5 65.7h1.3v1.3h-1.3zM145.7 66.3h1.3v1.3h-1.3zM143.7 66.2h1.3v1.3h-1.3zM146.4 71.5h1.3v1.3h-1.3zM145.8 56.3h1.3v1.3h-1.3zM137.2 74.7h1.3v1.3h-1.3zM135.4 63.2h1.3v1.3h-1.3zM142.7 65.6h1.3v1.3h-1.3zM144.2 50.4h1.3v1.3h-1.3zM142.9 68.7h1.3v1.3h-1.3zM142.7 56.4h1.3v1.3h-1.3zM133.9 70.5h1.3v1.3h-1.3zM139.1 67.3h1.3v1.3h-1.3zM141.4 61.0h1.3v1.3h-1.3zM145.5 48.9h1.3v1.3h-1.3zM145.5 63.3h1.3v1.3h-1.3zM138.7 56.7h1.3v1.3h-1.3zM128.4 77.8h1.3v1.3h-1.3zM143.0 63.6h1.3v1.3h-1.3zM143.9 64.1h1.3v1.3h-1.3zM139.1 53.5h1.3v1.3h-1.3zM140.5 59.0h1.3v1.3h-1.3zM133.2 61.4h1.3v1.3h-1.3zM135.4 64.3h1.3v1.3h-1.3zM137.4 66.1h1.3v1.3h-1.3zM140.9 46.7h1.3v1.3h-1.3zM138.2 62.5h1.3v1.3h-1.3zM148.7 53.8h1.3v1.3h-1.3zM130.3 77.4h1.3v1.3h-1.3zM137.1 62.4h1.3v1.3h-1.3zM140.9 62.0h1.3v1.3h-1.3zM134.8 74.6h1.3v1.3h-1.3zM140.2 61.6h1.3v1.3h-1.3zM141.4 65.2h1.3v1.3h-1.3zM145.3 68.9h1.3v1.3h-1.3zM138.0 77.4h1.3v1.3h-1.3zM139.7 70.8h1.3v1.3h-1.3zM144.7 59.5h1.3v1.3h-1.3zM144.8 61.1h1.3v1.3h-1.3zM139.6 60.8h1.3v1.3h-1.3zM146.0 61.0h1.3v1.3h-1.3zM143.0 58.7h1.3v1.3h-1.3zM130.6 60.3h1.3v1.3h-1.3zM136.0 72.5h1.3v1.3h-1.3zM147.7 59.0h1.3v1.3h-1.3zM134.3 62.8h1.3v1.3h-1.3zM145.3 63.1h1.3v1.3h-1.3zM138.0 58.2h1.3v1.3h-1.3zM131.9 73.7h1.3v1.3h-1.3zM141.0 76.6h1.3v1.3h-1.3zM150.4 66.5h1.3v1.3h-1.3zM148.6 53.2h1.3v1.3h-1.3zM140.4 72.7h1.3v1.3h-1.3zM133.7 59.8h1.3v1.3h-1.3zM132.1 75.6h1.3v1.3h-1.3zM140.8 54.4h1.3v1.3h-1.3zM135.7 77.9h1.3v1.3h-1.3zM135.0 58.8h1.3v1.3h-1.3zM140.9 48.3h1.3v1.3h-1.3zM145.4 57.8h1.3v1.3h-1.3zM136.5 72.0h1.3v1.3h-1.3zM137.5 65.2h1.3v1.3h-1.3zM141.5 59.5h1.3v1.3h-1.3zM134.7 81.0h1.3v1.3h-1.3zM134.8 75.4h1.3v1.3h-1.3zM139.2 63.7h1.3v1.3h-1.3zM141.6 57.0h1.3v1.3h-1.3zM145.5 73.0h1.3v1.3h-1.3zM140.5 59.4h1.3v1.3h-1.3zM137.2 65.2h1.3v1.3h-1.3zM134.7 63.7h1.3v1.3h-1.3zM149.9 52.7h1.3v1.3h-1.3zM135.8 65.4h1.3v1.3h-1.3zM136.4 85.4h1.3v1.3h-1.3zM139.0 77.3h1.3v1.3h-1.3zM147.6 64.4h1.3v1.3h-1.3zM145.3 76.5h1.3v1.3h-1.3zM142.8 78.9h1.3v1.3h-1.3zM144.1 57.5h1.3v1.3h-1.3zM143.7 77.8h1.3v1.3h-1.3zM133.3 56.4h1.3v1.3h-1.3zM140.0 74.5h1.3v1.3h-1.3zM141.0 65.3h1.3v1.3h-1.3zM142.2 71.8h1.3v1.3h-1.3zM130.2 68.5h1.3v1.3h-1.3zM129.1 68.5h1.3v1.3h-1.3zM134.7 72.9h1.3v1.3h-1.3zM130.8 56.7h1.3v1.3h-1.3zM141.5 70.6h1.3v1.3h-1.3zM144.4 63.1h1.3v1.3h-1.3zM140.6 47.5h1.3v1.3h-1.3zM142.6 72.7h1.3v1.3h-1.3zM145.4 52.4h1.3v1.3h-1.3zM132.8 66.7h1.3v1.3h-1.3zM142.7 60.9h1.3v1.3h-1.3zM133.8 74.1h1.3v1.3h-1.3zM139.4 75.1h1.3v1.3h-1.3zM144.9 68.9h1.3v1.3h-1.3zM144.8 54.5h1.3v1.3h-1.3zM147.8 57.0h1.3v1.3h-1.3zM141.4 51.9h1.3v1.3h-1.3zM150.2 63.0h1.3v1.3h-1.3zM139.4 59.1h1.3v1.3h-1.3zM135.5 67.8h1.3v1.3h-1.3zM140.4 57.0h1.3v1.3h-1.3zM127.7 76.5h1.3v1.3h-1.3zM136.7 64.3h1.3v1.3h-1.3zM140.9 51.7h1.3v1.3h-1.3zM132.1 76.2h1.3v1.3h-1.3zM141.9 77.9h1.3v1.3h-1.3zM144.8 74.5h1.3v1.3h-1.3zM151.1 63.6h1.3v1.3h-1.3zM143.5 67.5h1.3v1.3h-1.3zM131.6 82.7h1.3v1.3h-1.3zM143.2 73.6h1.3v1.3h-1.3zM142.6 67.5h1.3v1.3h-1.3zM131.5 69.5h1.3v1.3h-1.3zM145.8 68.1h1.3v1.3h-1.3zM147.2 68.2h1.3v1.3h-1.3zM137.2 67.6h1.3v1.3h-1.3zM137.6 67.9h1.3v1.3h-1.3zM136.7 70.9h1.3v1.3h-1.3zM132.5 70.7h1.3v1.3h-1.3zM148.3 53.4h1.3v1.3h-1.3zM136.0 66.9h1.3v1.3h-1.3zM138.2 79.8h1.3v1.3h-1.3zM147.2 74.1h1.3v1.3h-1.3zM136.5 80.9h1.3v1.3h-1.3zM140.7 53.9h1.3v1.3h-1.3zM138.5 55.3h1.3v1.3h-1.3zM147.6 57.9h1.3v1.3h-1.3zM149.0 66.8h1.3v1.3h-1.3zM129.9 58.7h1.3v1.3h-1.3zM149.4 64.9h1.3v1.3h-1.3zM141.8 71.6h1.3v1.3h-1.3zM138.1 70.7h1.3v1.3h-1.3zM136.3 66.8h1.3v1.3h-1.3zM138.0 82.5h1.3v1.3h-1.3zM136.6 60.8h1.3v1.3h-1.3zM136.8 84.1h1.3v1.3h-1.3zM141.9 70.7h1.3v1.3h-1.3zM141.2 54.9h1.3v1.3h-1.3zM142.7 68.6h1.3v1.3h-1.3zM129.3 64.6h1.3v1.3h-1.3zM142.7 60.7h1.3v1.3h-1.3zM140.3 71.4h1.3v1.3h-1.3zM136.3 68.3h1.3v1.3h-1.3zM134.8 56.6h1.3v1.3h-1.3z"/><path fill="#e3281c" d="M141.5 53.2h1.3v1.3h-1.3zM134.2 52.8h1.3v1.3h-1.3zM129.7 51.3h1.3v1.3h-1.3zM126.5 50.8h1.3v1.3h-1.3zM127.0 57.1h1.3v1.3h-1.3zM128.8 68.5h1.3v1.3h-1.3zM132.2 55.0h1.3v1.3h-1.3zM139.3 47.0h1.3v1.3h-1.3zM134.1 63.0h1.3v1.3h-1.3zM129.8 63.6h1.3v1.3h-1.3zM134.1 61.7h1.3v1.3h-1.3zM132.1 55.8h1.3v1.3h-1.3zM138.4 54.0h1.3v1.3h-1.3zM141.2 55.4h1.3v1.3h-1.3zM133.8 63.5h1.3v1.3h-1.3zM141.0 42.7h1.3v1.3h-1.3zM137.7 57.8h1.3v1.3h-1.3zM139.1 54.2h1.3v1.3h-1.3zM140.1 46.3h1.3v1.3h-1.3zM132.4 46.7h1.3v1.3h-1.3zM132.1 61.3h1.3v1.3h-1.3zM137.0 41.8h1.3v1.3h-1.3zM137.3 58.9h1.3v1.3h-1.3zM128.1 56.3h1.3v1.3h-1.3zM132.5 71.0h1.3v1.3h-1.3zM133.3 64.0h1.3v1.3h-1.3zM132.8 49.3h1.3v1.3h-1.3zM127.5 47.5h1.3v1.3h-1.3zM130.5 53.8h1.3v1.3h-1.3zM137.1 53.7h1.3v1.3h-1.3zM138.8 54.9h1.3v1.3h-1.3zM127.0 56.9h1.3v1.3h-1.3zM135.8 66.1h1.3v1.3h-1.3zM130.5 62.0h1.3v1.3h-1.3zM135.9 52.1h1.3v1.3h-1.3zM136.0 47.0h1.3v1.3h-1.3zM127.3 65.7h1.3v1.3h-1.3zM127.0 50.8h1.3v1.3h-1.3zM135.9 54.0h1.3v1.3h-1.3zM137.0 51.8h1.3v1.3h-1.3zM125.0 59.2h1.3v1.3h-1.3zM132.5 55.5h1.3v1.3h-1.3zM139.1 43.3h1.3v1.3h-1.3zM137.0 52.2h1.3v1.3h-1.3zM133.0 69.4h1.3v1.3h-1.3zM127.5 55.6h1.3v1.3h-1.3zM142.1 54.5h1.3v1.3h-1.3zM133.7 55.4h1.3v1.3h-1.3zM131.4 59.0h1.3v1.3h-1.3zM139.3 47.1h1.3v1.3h-1.3zM139.2 53.2h1.3v1.3h-1.3zM138.2 51.4h1.3v1.3h-1.3zM127.0 64.5h1.3v1.3h-1.3zM139.3 51.0h1.3v1.3h-1.3zM131.7 49.6h1.3v1.3h-1.3zM142.5 56.0h1.3v1.3h-1.3zM141.3 57.5h1.3v1.3h-1.3zM141.7 50.4h1.3v1.3h-1.3zM130.3 58.8h1.3v1.3h-1.3zM138.1 62.3h1.3v1.3h-1.3zM134.8 44.0h1.3v1.3h-1.3zM131.7 64.8h1.3v1.3h-1.3zM140.7 46.1h1.3v1.3h-1.3zM139.5 51.5h1.3v1.3h-1.3zM136.6 50.7h1.3v1.3h-1.3zM139.8 53.0h1.3v1.3h-1.3zM142.3 59.2h1.3v1.3h-1.3zM130.2 62.1h1.3v1.3h-1.3zM137.2 63.4h1.3v1.3h-1.3zM135.6 45.8h1.3v1.3h-1.3zM133.6 53.7h1.3v1.3h-1.3zM127.3 63.5h1.3v1.3h-1.3zM138.8 53.8h1.3v1.3h-1.3zM132.9 60.5h1.3v1.3h-1.3zM144.0 51.8h1.3v1.3h-1.3zM132.9 51.0h1.3v1.3h-1.3zM130.5 66.7h1.3v1.3h-1.3zM131.8 56.3h1.3v1.3h-1.3zM130.6 59.1h1.3v1.3h-1.3zM138.8 55.3h1.3v1.3h-1.3zM140.8 64.7h1.3v1.3h-1.3zM138.8 44.3h1.3v1.3h-1.3zM142.9 55.8h1.3v1.3h-1.3zM129.7 60.5h1.3v1.3h-1.3zM129.0 57.6h1.3v1.3h-1.3zM136.7 49.5h1.3v1.3h-1.3zM136.0 54.5h1.3v1.3h-1.3zM141.3 59.5h1.3v1.3h-1.3zM131.1 54.6h1.3v1.3h-1.3zM128.0 63.7h1.3v1.3h-1.3zM136.7 54.1h1.3v1.3h-1.3zM134.5 52.2h1.3v1.3h-1.3zM138.8 52.8h1.3v1.3h-1.3zM133.3 64.5h1.3v1.3h-1.3zM135.6 51.5h1.3v1.3h-1.3zM139.2 47.2h1.3v1.3h-1.3zM137.1 62.3h1.3v1.3h-1.3zM136.1 40.0h1.3v1.3h-1.3zM139.1 57.3h1.3v1.3h-1.3zM141.8 52.6h1.3v1.3h-1.3zM131.9 42.1h1.3v1.3h-1.3zM130.6 46.9h1.3v1.3h-1.3zM127.7 59.8h1.3v1.3h-1.3zM129.8 48.3h1.3v1.3h-1.3zM129.2 51.4h1.3v1.3h-1.3zM139.6 39.6h1.3v1.3h-1.3zM130.3 52.9h1.3v1.3h-1.3zM139.3 61.8h1.3v1.3h-1.3zM131.2 51.0h1.3v1.3h-1.3zM133.1 58.4h1.3v1.3h-1.3zM140.6 42.1h1.3v1.3h-1.3zM141.4 53.9h1.3v1.3h-1.3zM127.7 60.9h1.3v1.3h-1.3zM142.7 43.5h1.3v1.3h-1.3zM127.0 68.0h1.3v1.3h-1.3zM132.4 57.7h1.3v1.3h-1.3zM140.4 51.7h1.3v1.3h-1.3zM135.5 52.5h1.3v1.3h-1.3zM135.7 64.4h1.3v1.3h-1.3zM125.1 62.0h1.3v1.3h-1.3zM142.5 44.1h1.3v1.3h-1.3zM143.9 51.6h1.3v1.3h-1.3zM137.3 67.0h1.3v1.3h-1.3zM138.2 55.3h1.3v1.3h-1.3zM140.9 50.4h1.3v1.3h-1.3zM134.2 57.8h1.3v1.3h-1.3zM140.6 55.9h1.3v1.3h-1.3zM144.8 54.9h1.3v1.3h-1.3zM142.4 60.0h1.3v1.3h-1.3zM138.8 52.7h1.3v1.3h-1.3zM123.6 62.6h1.3v1.3h-1.3zM134.8 53.9h1.3v1.3h-1.3zM139.8 49.6h1.3v1.3h-1.3zM136.5 44.5h1.3v1.3h-1.3zM134.5 51.4h1.3v1.3h-1.3zM123.9 60.0h1.3v1.3h-1.3zM131.1 53.9h1.3v1.3h-1.3zM129.5 57.1h1.3v1.3h-1.3zM129.8 52.2h1.3v1.3h-1.3zM134.9 56.5h1.3v1.3h-1.3zM135.2 67.9h1.3v1.3h-1.3zM134.6 62.9h1.3v1.3h-1.3zM130.2 56.9h1.3v1.3h-1.3zM127.9 65.4h1.3v1.3h-1.3zM136.7 64.7h1.3v1.3h-1.3zM131.4 49.7h1.3v1.3h-1.3zM139.9 41.8h1.3v1.3h-1.3zM135.7 67.0h1.3v1.3h-1.3zM132.8 48.4h1.3v1.3h-1.3zM130.7 63.3h1.3v1.3h-1.3zM135.3 61.3h1.3v1.3h-1.3zM130.8 50.8h1.3v1.3h-1.3zM130.4 62.8h1.3v1.3h-1.3zM136.5 44.4h1.3v1.3h-1.3zM134.2 49.6h1.3v1.3h-1.3zM134.0 50.9h1.3v1.3h-1.3zM132.5 50.4h1.3v1.3h-1.3zM141.2 64.6h1.3v1.3h-1.3zM132.5 46.0h1.3v1.3h-1.3zM138.2 46.3h1.3v1.3h-1.3zM133.5 42.7h1.3v1.3h-1.3zM132.8 55.2h1.3v1.3h-1.3zM127.5 58.2h1.3v1.3h-1.3zM141.4 41.0h1.3v1.3h-1.3zM126.6 54.4h1.3v1.3h-1.3zM143.7 49.3h1.3v1.3h-1.3zM128.4 53.8h1.3v1.3h-1.3zM137.0 51.1h1.3v1.3h-1.3zM133.1 47.9h1.3v1.3h-1.3zM135.9 62.8h1.3v1.3h-1.3zM141.7 47.6h1.3v1.3h-1.3zM135.3 50.6h1.3v1.3h-1.3zM140.9 39.2h1.3v1.3h-1.3zM137.8 54.2h1.3v1.3h-1.3zM138.0 58.7h1.3v1.3h-1.3zM140.4 59.1h1.3v1.3h-1.3zM138.1 43.6h1.3v1.3h-1.3zM138.6 50.4h1.3v1.3h-1.3zM133.2 52.7h1.3v1.3h-1.3zM144.2 49.9h1.3v1.3h-1.3zM142.0 43.7h1.3v1.3h-1.3zM141.1 56.2h1.3v1.3h-1.3zM143.2 59.0h1.3v1.3h-1.3zM145.2 50.3h1.3v1.3h-1.3zM144.6 47.0h1.3v1.3h-1.3zM136.3 45.3h1.3v1.3h-1.3zM134.8 45.1h1.3v1.3h-1.3zM129.6 66.0h1.3v1.3h-1.3zM126.6 62.2h1.3v1.3h-1.3zM131.7 58.8h1.3v1.3h-1.3zM131.6 51.8h1.3v1.3h-1.3zM133.0 59.0h1.3v1.3h-1.3zM138.3 54.7h1.3v1.3h-1.3zM139.2 49.7h1.3v1.3h-1.3zM140.1 52.9h1.3v1.3h-1.3zM136.4 55.4h1.3v1.3h-1.3zM133.7 62.1h1.3v1.3h-1.3zM136.0 46.3h1.3v1.3h-1.3zM137.7 44.1h1.3v1.3h-1.3zM146.6 50.3h1.3v1.3h-1.3zM134.7 52.4h1.3v1.3h-1.3zM135.4 50.8h1.3v1.3h-1.3zM137.3 63.7h1.3v1.3h-1.3zM133.3 70.9h1.3v1.3h-1.3zM137.2 62.5h1.3v1.3h-1.3zM142.1 62.3h1.3v1.3h-1.3zM135.1 55.8h1.3v1.3h-1.3zM135.8 57.9h1.3v1.3h-1.3zM136.2 61.4h1.3v1.3h-1.3zM139.0 44.6h1.3v1.3h-1.3zM136.0 47.4h1.3v1.3h-1.3zM128.7 60.7h1.3v1.3h-1.3zM143.8 49.0h1.3v1.3h-1.3zM137.1 63.7h1.3v1.3h-1.3zM133.4 62.0h1.3v1.3h-1.3zM128.7 45.7h1.3v1.3h-1.3zM136.2 49.8h1.3v1.3h-1.3zM133.6 67.3h1.3v1.3h-1.3zM138.0 53.6h1.3v1.3h-1.3zM131.5 55.7h1.3v1.3h-1.3zM130.1 64.4h1.3v1.3h-1.3zM130.0 62.0h1.3v1.3h-1.3zM140.3 53.7h1.3v1.3h-1.3zM138.0 52.5h1.3v1.3h-1.3zM138.7 59.0h1.3v1.3h-1.3zM137.1 45.4h1.3v1.3h-1.3zM129.6 56.4h1.3v1.3h-1.3zM132.4 56.4h1.3v1.3h-1.3zM134.3 66.7h1.3v1.3h-1.3zM126.8 53.4h1.3v1.3h-1.3zM133.2 51.9h1.3v1.3h-1.3zM138.7 53.9h1.3v1.3h-1.3zM139.8 62.9h1.3v1.3h-1.3zM132.3 52.5h1.3v1.3h-1.3zM133.0 61.2h1.3v1.3h-1.3zM140.2 54.8h1.3v1.3h-1.3zM129.0 51.4h1.3v1.3h-1.3zM143.5 61.3h1.3v1.3h-1.3zM136.3 60.9h1.3v1.3h-1.3zM135.7 58.8h1.3v1.3h-1.3zM132.0 55.0h1.3v1.3h-1.3zM137.7 46.8h1.3v1.3h-1.3zM129.7 61.0h1.3v1.3h-1.3zM134.5 57.7h1.3v1.3h-1.3zM131.9 52.7h1.3v1.3h-1.3zM142.5 63.2h1.3v1.3h-1.3zM140.2 60.0h1.3v1.3h-1.3zM135.0 59.4h1.3v1.3h-1.3zM124.0 56.2h1.3v1.3h-1.3zM136.9 61.3h1.3v1.3h-1.3zM143.7 48.2h1.3v1.3h-1.3zM131.4 59.0h1.3v1.3h-1.3zM132.1 64.6h1.3v1.3h-1.3zM138.3 50.0h1.3v1.3h-1.3zM133.9 62.0h1.3v1.3h-1.3zM137.1 55.9h1.3v1.3h-1.3zM134.9 57.4h1.3v1.3h-1.3zM128.5 59.3h1.3v1.3h-1.3zM130.9 52.5h1.3v1.3h-1.3zM145.3 46.5h1.3v1.3h-1.3zM140.0 42.5h1.3v1.3h-1.3zM135.5 58.0h1.3v1.3h-1.3zM144.7 51.5h1.3v1.3h-1.3zM131.0 62.2h1.3v1.3h-1.3zM127.1 69.9h1.3v1.3h-1.3zM141.1 49.9h1.3v1.3h-1.3zM130.3 57.0h1.3v1.3h-1.3zM143.3 56.6h1.3v1.3h-1.3zM126.6 62.8h1.3v1.3h-1.3zM133.8 54.0h1.3v1.3h-1.3zM136.0 47.7h1.3v1.3h-1.3zM135.2 54.9h1.3v1.3h-1.3zM141.9 56.4h1.3v1.3h-1.3zM123.0 61.5h1.3v1.3h-1.3zM128.8 65.8h1.3v1.3h-1.3zM137.8 55.5h1.3v1.3h-1.3zM136.7 53.2h1.3v1.3h-1.3zM126.2 67.3h1.3v1.3h-1.3zM131.0 49.6h1.3v1.3h-1.3zM131.5 58.1h1.3v1.3h-1.3zM132.8 49.9h1.3v1.3h-1.3zM127.9 67.1h1.3v1.3h-1.3zM137.8 59.1h1.3v1.3h-1.3zM132.0 59.3h1.3v1.3h-1.3zM131.2 58.2h1.3v1.3h-1.3zM133.4 49.3h1.3v1.3h-1.3zM128.4 51.7h1.3v1.3h-1.3zM132.1 52.2h1.3v1.3h-1.3zM143.0 53.9h1.3v1.3h-1.3zM123.7 61.5h1.3v1.3h-1.3zM147.6 50.7h1.3v1.3h-1.3zM125.8 51.1h1.3v1.3h-1.3zM134.1 68.9h1.3v1.3h-1.3zM140.3 42.0h1.3v1.3h-1.3zM135.7 67.7h1.3v1.3h-1.3zM127.5 64.1h1.3v1.3h-1.3zM130.1 58.8h1.3v1.3h-1.3zM132.5 49.4h1.3v1.3h-1.3zM140.4 56.4h1.3v1.3h-1.3zM144.7 49.9h1.3v1.3h-1.3zM126.2 54.7h1.3v1.3h-1.3zM136.7 54.4h1.3v1.3h-1.3zM134.3 52.4h1.3v1.3h-1.3zM132.0 49.9h1.3v1.3h-1.3zM145.7 52.7h1.3v1.3h-1.3zM135.8 54.4h1.3v1.3h-1.3zM139.7 51.6h1.3v1.3h-1.3zM137.9 51.4h1.3v1.3h-1.3zM141.2 60.5h1.3v1.3h-1.3zM136.2 66.4h1.3v1.3h-1.3zM134.4 62.6h1.3v1.3h-1.3zM125.1 59.3h1.3v1.3h-1.3zM127.4 61.0h1.3v1.3h-1.3zM136.8 44.2h1.3v1.3h-1.3zM128.4 58.6h1.3v1.3h-1.3zM134.9 55.5h1.3v1.3h-1.3zM133.8 49.8h1.3v1.3h-1.3zM130.8 64.1h1.3v1.3h-1.3zM141.2 50.4h1.3v1.3h-1.3zM129.5 61.7h1.3v1.3h-1.3zM133.5 51.7h1.3v1.3h-1.3zM131.2 66.1h1.3v1.3h-1.3zM135.2 58.6h1.3v1.3h-1.3zM135.6 48.1h1.3v1.3h-1.3zM127.9 62.2h1.3v1.3h-1.3zM138.0 49.8h1.3v1.3h-1.3zM136.1 48.9h1.3v1.3h-1.3zM135.4 48.9h1.3v1.3h-1.3zM132.9 60.0h1.3v1.3h-1.3zM133.6 55.7h1.3v1.3h-1.3zM139.5 56.8h1.3v1.3h-1.3zM125.1 56.8h1.3v1.3h-1.3zM144.8 55.9h1.3v1.3h-1.3zM133.3 45.1h1.3v1.3h-1.3zM141.5 54.1h1.3v1.3h-1.3zM146.2 52.2h1.3v1.3h-1.3zM133.6 49.5h1.3v1.3h-1.3zM124.5 58.7h1.3v1.3h-1.3zM129.2 64.0h1.3v1.3h-1.3zM143.8 49.4h1.3v1.3h-1.3zM142.8 52.8h1.3v1.3h-1.3zM130.1 56.6h1.3v1.3h-1.3zM143.5 42.0h1.3v1.3h-1.3zM137.3 59.4h1.3v1.3h-1.3zM139.7 63.9h1.3v1.3h-1.3zM128.4 63.9h1.3v1.3h-1.3zM133.6 56.2h1.3v1.3h-1.3zM134.8 66.3h1.3v1.3h-1.3zM137.5 50.7h1.3v1.3h-1.3zM135.0 50.0h1.3v1.3h-1.3zM135.8 46.9h1.3v1.3h-1.3zM130.9 62.8h1.3v1.3h-1.3zM136.1 57.4h1.3v1.3h-1.3zM145.0 53.5h1.3v1.3h-1.3zM123.7 61.9h1.3v1.3h-1.3zM142.0 55.7h1.3v1.3h-1.3zM138.3 47.3h1.3v1.3h-1.3zM133.3 56.3h1.3v1.3h-1.3zM140.4 41.5h1.3v1.3h-1.3zM131.1 50.2h1.3v1.3h-1.3zM137.9 47.9h1.3v1.3h-1.3zM133.3 56.3h1.3v1.3h-1.3zM140.5 51.7h1.3v1.3h-1.3zM126.8 57.8h1.3v1.3h-1.3zM125.9 69.7h1.3v1.3h-1.3zM137.2 54.1h1.3v1.3h-1.3zM133.7 67.0h1.3v1.3h-1.3zM138.8 61.3h1.3v1.3h-1.3zM135.0 56.9h1.3v1.3h-1.3zM130.2 58.9h1.3v1.3h-1.3zM138.3 55.8h1.3v1.3h-1.3zM134.9 48.2h1.3v1.3h-1.3zM133.5 64.9h1.3v1.3h-1.3zM137.7 44.5h1.3v1.3h-1.3zM132.3 57.1h1.3v1.3h-1.3zM141.0 54.3h1.3v1.3h-1.3zM134.6 62.6h1.3v1.3h-1.3zM143.1 45.5h1.3v1.3h-1.3zM126.8 57.6h1.3v1.3h-1.3zM141.9 57.2h1.3v1.3h-1.3zM144.8 51.8h1.3v1.3h-1.3zM134.9 57.6h1.3v1.3h-1.3zM135.6 61.8h1.3v1.3h-1.3zM131.8 54.6h1.3v1.3h-1.3zM137.1 58.7h1.3v1.3h-1.3zM142.2 49.8h1.3v1.3h-1.3zM137.7 63.5h1.3v1.3h-1.3zM128.4 58.7h1.3v1.3h-1.3zM135.8 48.2h1.3v1.3h-1.3zM133.9 53.6h1.3v1.3h-1.3zM127.9 52.6h1.3v1.3h-1.3zM144.4 50.4h1.3v1.3h-1.3zM140.8 58.8h1.3v1.3h-1.3zM144.2 50.6h1.3v1.3h-1.3zM135.6 41.3h1.3v1.3h-1.3zM138.2 48.3h1.3v1.3h-1.3zM137.5 48.4h1.3v1.3h-1.3zM138.2 55.4h1.3v1.3h-1.3zM138.1 53.3h1.3v1.3h-1.3zM135.1 45.8h1.3v1.3h-1.3zM136.6 67.0h1.3v1.3h-1.3zM135.4 51.0h1.3v1.3h-1.3zM127.6 56.5h1.3v1.3h-1.3zM127.8 53.1h1.3v1.3h-1.3zM138.0 54.0h1.3v1.3h-1.3zM138.5 61.4h1.3v1.3h-1.3zM139.5 49.4h1.3v1.3h-1.3zM130.8 58.8h1.3v1.3h-1.3zM124.4 57.7h1.3v1.3h-1.3zM139.2 56.0h1.3v1.3h-1.3zM132.5 66.5h1.3v1.3h-1.3zM135.5 56.8h1.3v1.3h-1.3zM142.2 51.3h1.3v1.3h-1.3zM136.8 61.3h1.3v1.3h-1.3zM142.5 40.0h1.3v1.3h-1.3zM140.5 59.9h1.3v1.3h-1.3zM134.7 50.4h1.3v1.3h-1.3zM137.8 54.0h1.3v1.3h-1.3zM132.0 52.0h1.3v1.3h-1.3zM132.4 62.7h1.3v1.3h-1.3zM130.1 49.8h1.3v1.3h-1.3zM128.7 66.1h1.3v1.3h-1.3zM139.8 48.8h1.3v1.3h-1.3zM141.9 55.3h1.3v1.3h-1.3zM134.6 50.2h1.3v1.3h-1.3zM131.1 61.4h1.3v1.3h-1.3zM135.2 51.7h1.3v1.3h-1.3zM132.3 55.6h1.3v1.3h-1.3zM127.6 58.5h1.3v1.3h-1.3zM140.8 64.3h1.3v1.3h-1.3zM145.2 49.8h1.3v1.3h-1.3zM135.4 53.9h1.3v1.3h-1.3zM136.5 48.2h1.3v1.3h-1.3zM139.9 46.8h1.3v1.3h-1.3zM134.7 47.6h1.3v1.3h-1.3zM142.4 42.0h1.3v1.3h-1.3zM134.5 48.6h1.3v1.3h-1.3zM136.4 61.4h1.3v1.3h-1.3zM135.7 69.5h1.3v1.3h-1.3zM137.9 61.2h1.3v1.3h-1.3zM133.2 59.7h1.3v1.3h-1.3zM139.9 56.1h1.3v1.3h-1.3zM135.2 62.3h1.3v1.3h-1.3zM139.9 54.3h1.3v1.3h-1.3zM132.9 61.1h1.3v1.3h-1.3zM131.5 59.6h1.3v1.3h-1.3zM144.3 49.4h1.3v1.3h-1.3zM131.8 61.5h1.3v1.3h-1.3zM131.1 53.6h1.3v1.3h-1.3zM129.6 55.7h1.3v1.3h-1.3zM133.2 49.0h1.3v1.3h-1.3zM140.1 52.0h1.3v1.3h-1.3zM125.9 56.4h1.3v1.3h-1.3zM130.7 51.3h1.3v1.3h-1.3zM139.5 47.2h1.3v1.3h-1.3zM135.9 55.4h1.3v1.3h-1.3zM137.8 49.5h1.3v1.3h-1.3zM138.8 51.7h1.3v1.3h-1.3zM138.6 61.0h1.3v1.3h-1.3zM145.5 45.5h1.3v1.3h-1.3zM138.8 55.5h1.3v1.3h-1.3zM128.3 61.2h1.3v1.3h-1.3zM130.0 60.4h1.3v1.3h-1.3zM134.5 47.4h1.3v1.3h-1.3zM126.7 56.8h1.3v1.3h-1.3zM125.8 56.9h1.3v1.3h-1.3zM137.5 48.3h1.3v1.3h-1.3zM144.3 51.0h1.3v1.3h-1.3zM138.3 52.4h1.3v1.3h-1.3zM133.9 53.3h1.3v1.3h-1.3zM129.1 71.3h1.3v1.3h-1.3zM128.7 58.3h1.3v1.3h-1.3zM133.3 59.3h1.3v1.3h-1.3zM133.2 48.2h1.3v1.3h-1.3zM135.9 66.4h1.3v1.3h-1.3zM140.6 52.6h1.3v1.3h-1.3zM128.4 54.4h1.3v1.3h-1.3zM145.0 47.9h1.3v1.3h-1.3zM135.2 60.3h1.3v1.3h-1.3zM141.7 47.4h1.3v1.3h-1.3z"/><path fill="#3a3aee" d="M127.2 68.5h1.3v1.3h-1.3zM130.0 63.4h1.3v1.3h-1.3zM118.3 77.3h1.3v1.3h-1.3zM132.5 75.5h1.3v1.3h-1.3zM128.9 54.1h1.3v1.3h-1.3zM124.2 67.2h1.3v1.3h-1.3zM115.9 75.8h1.3v1.3h-1.3zM128.6 59.4h1.3v1.3h-1.3zM127.2 68.9h1.3v1.3h-1.3zM123.8 85.8h1.3v1.3h-1.3zM130.0 63.6h1.3v1.3h-1.3zM132.1 69.7h1.3v1.3h-1.3zM126.9 67.6h1.3v1.3h-1.3zM116.7 86.2h1.3v1.3h-1.3zM126.3 80.9h1.3v1.3h-1.3zM130.1 61.0h1.3v1.3h-1.3zM121.6 68.6h1.3v1.3h-1.3zM134.1 66.4h1.3v1.3h-1.3zM132.7 64.0h1.3v1.3h-1.3zM137.1 65.3h1.3v1.3h-1.3zM130.8 79.7h1.3v1.3h-1.3zM119.1 73.4h1.3v1.3h-1.3zM131.1 68.4h1.3v1.3h-1.3zM124.3 68.7h1.3v1.3h-1.3zM127.1 66.7h1.3v1.3h-1.3zM125.3 68.0h1.3v1.3h-1.3zM135.1 69.6h1.3v1.3h-1.3zM122.3 78.2h1.3v1.3h-1.3zM119.6 89.3h1.3v1.3h-1.3zM126.2 56.3h1.3v1.3h-1.3zM121.5 74.8h1.3v1.3h-1.3zM121.7 73.9h1.3v1.3h-1.3zM120.0 74.1h1.3v1.3h-1.3zM130.6 72.3h1.3v1.3h-1.3zM120.4 63.0h1.3v1.3h-1.3zM133.1 62.0h1.3v1.3h-1.3zM125.8 61.2h1.3v1.3h-1.3zM126.8 79.0h1.3v1.3h-1.3zM127.5 55.6h1.3v1.3h-1.3zM128.6 70.9h1.3v1.3h-1.3zM126.2 76.3h1.3v1.3h-1.3zM129.6 79.2h1.3v1.3h-1.3zM121.9 87.5h1.3v1.3h-1.3zM123.9 77.1h1.3v1.3h-1.3zM133.8 60.3h1.3v1.3h-1.3zM127.1 68.9h1.3v1.3h-1.3zM125.6 69.4h1.3v1.3h-1.3zM132.2 73.7h1.3v1.3h-1.3zM120.3 76.8h1.3v1.3h-1.3zM130.0 55.2h1.3v1.3h-1.3zM126.0 70.3h1.3v1.3h-1.3zM130.6 68.2h1.3v1.3h-1.3zM122.3 70.0h1.3v1.3h-1.3zM123.2 81.0h1.3v1.3h-1.3zM127.6 74.2h1.3v1.3h-1.3zM125.1 78.0h1.3v1.3h-1.3zM128.9 74.7h1.3v1.3h-1.3zM130.0 57.4h1.3v1.3h-1.3zM128.8 70.6h1.3v1.3h-1.3zM126.4 71.2h1.3v1.3h-1.3zM119.4 91.7h1.3v1.3h-1.3zM120.6 81.4h1.3v1.3h-1.3zM129.6 69.7h1.3v1.3h-1.3zM122.4 76.0h1.3v1.3h-1.3zM120.4 73.6h1.3v1.3h-1.3zM131.9 76.9h1.3v1.3h-1.3zM123.7 64.3h1.3v1.3h-1.3zM131.5 65.7h1.3v1.3h-1.3zM120.1 69.2h1.3v1.3h-1.3zM124.3 72.7h1.3v1.3h-1.3zM116.8 80.8h1.3v1.3h-1.3zM123.6 58.7h1.3v1.3h-1.3zM128.4 66.5h1.3v1.3h-1.3zM122.8 59.4h1.3v1.3h-1.3zM131.2 73.8h1.3v1.3h-1.3zM119.2 72.2h1.3v1.3h-1.3zM116.4 89.1h1.3v1.3h-1.3zM135.3 66.2h1.3v1.3h-1.3zM129.6 73.7h1.3v1.3h-1.3zM131.4 64.9h1.3v1.3h-1.3zM126.0 81.4h1.3v1.3h-1.3zM122.9 81.9h1.3v1.3h-1.3zM132.8 67.4h1.3v1.3h-1.3zM130.1 75.6h1.3v1.3h-1.3zM134.7 60.8h1.3v1.3h-1.3zM126.9 73.6h1.3v1.3h-1.3zM126.1 72.6h1.3v1.3h-1.3zM132.8 67.9h1.3v1.3h-1.3zM129.0 73.7h1.3v1.3h-1.3zM127.3 70.7h1.3v1.3h-1.3zM124.3 81.9h1.3v1.3h-1.3zM126.7 74.1h1.3v1.3h-1.3zM132.3 64.9h1.3v1.3h-1.3zM126.0 65.5h1.3v1.3h-1.3zM119.0 86.3h1.3v1.3h-1.3zM126.6 73.1h1.3v1.3h-1.3zM131.4 61.2h1.3v1.3h-1.3zM128.7 59.4h1.3v1.3h-1.3zM125.9 83.6h1.3v1.3h-1.3zM115.6 80.2h1.3v1.3h-1.3zM125.4 78.1h1.3v1.3h-1.3zM129.4 63.0h1.3v1.3h-1.3zM128.6 64.7h1.3v1.3h-1.3zM116.0 85.4h1.3v1.3h-1.3zM119.6 87.2h1.3v1.3h-1.3zM126.8 81.5h1.3v1.3h-1.3zM125.8 67.5h1.3v1.3h-1.3zM125.3 70.7h1.3v1.3h-1.3zM119.5 85.0h1.3v1.3h-1.3zM127.5 64.4h1.3v1.3h-1.3zM123.9 75.2h1.3v1.3h-1.3zM122.2 70.0h1.3v1.3h-1.3zM127.1 67.6h1.3v1.3h-1.3zM128.3 71.9h1.3v1.3h-1.3zM130.4 69.4h1.3v1.3h-1.3zM124.4 81.6h1.3v1.3h-1.3zM125.7 77.2h1.3v1.3h-1.3zM128.2 69.7h1.3v1.3h-1.3zM120.5 63.2h1.3v1.3h-1.3zM122.4 77.8h1.3v1.3h-1.3zM123.9 81.0h1.3v1.3h-1.3zM128.2 68.8h1.3v1.3h-1.3zM135.1 75.9h1.3v1.3h-1.3zM125.5 72.7h1.3v1.3h-1.3zM136.6 65.4h1.3v1.3h-1.3zM118.2 79.8h1.3v1.3h-1.3zM134.1 63.2h1.3v1.3h-1.3zM126.9 65.5h1.3v1.3h-1.3zM121.5 65.4h1.3v1.3h-1.3zM128.0 85.6h1.3v1.3h-1.3zM120.6 84.0h1.3v1.3h-1.3zM128.6 68.2h1.3v1.3h-1.3zM119.3 81.9h1.3v1.3h-1.3zM125.3 67.5h1.3v1.3h-1.3zM129.9 58.7h1.3v1.3h-1.3zM130.9 57.4h1.3v1.3h-1.3zM130.9 63.2h1.3v1.3h-1.3zM119.8 70.7h1.3v1.3h-1.3zM127.3 68.4h1.3v1.3h-1.3zM124.0 69.4h1.3v1.3h-1.3zM118.1 80.1h1.3v1.3h-1.3zM128.5 75.7h1.3v1.3h-1.3zM119.4 74.8h1.3v1.3h-1.3zM117.6 79.0h1.3v1.3h-1.3zM118.2 87.2h1.3v1.3h-1.3zM121.3 78.8h1.3v1.3h-1.3zM134.8 58.6h1.3v1.3h-1.3zM129.7 61.0h1.3v1.3h-1.3zM122.5 70.0h1.3v1.3h-1.3zM125.8 77.4h1.3v1.3h-1.3zM131.8 53.9h1.3v1.3h-1.3zM118.6 86.3h1.3v1.3h-1.3zM121.8 67.3h1.3v1.3h-1.3zM125.6 78.4h1.3v1.3h-1.3zM127.2 73.1h1.3v1.3h-1.3zM125.2 72.8h1.3v1.3h-1.3zM133.2 62.8h1.3v1.3h-1.3zM128.2 71.9h1.3v1.3h-1.3zM124.8 73.7h1.3v1.3h-1.3zM127.4 70.0h1.3v1.3h-1.3zM135.5 72.7h1.3v1.3h-1.3zM123.0 81.3h1.3v1.3h-1.3zM130.4 62.3h1.3v1.3h-1.3zM122.0 72.1h1.3v1.3h-1.3zM122.7 71.7h1.3v1.3h-1.3zM131.2 64.7h1.3v1.3h-1.3zM129.4 77.2h1.3v1.3h-1.3zM118.8 80.5h1.3v1.3h-1.3zM129.1 66.8h1.3v1.3h-1.3zM118.9 81.7h1.3v1.3h-1.3zM122.2 74.0h1.3v1.3h-1.3zM125.8 71.0h1.3v1.3h-1.3zM126.8 68.6h1.3v1.3h-1.3zM124.9 69.2h1.3v1.3h-1.3zM128.2 70.1h1.3v1.3h-1.3zM129.2 67.4h1.3v1.3h-1.3zM124.0 76.3h1.3v1.3h-1.3zM128.6 61.3h1.3v1.3h-1.3zM132.2 74.8h1.3v1.3h-1.3zM130.4 68.4h1.3v1.3h-1.3zM119.1 79.3h1.3v1.3h-1.3zM135.1 73.7h1.3v1.3h-1.3zM128.3 68.5h1.3v1.3h-1.3zM126.1 82.8h1.3v1.3h-1.3zM124.1 70.7h1.3v1.3h-1.3zM123.0 73.0h1.3v1.3h-1.3zM123.5 69.4h1.3v1.3h-1.3zM118.9 81.8h1.3v1.3h-1.3zM131.2 71.6h1.3v1.3h-1.3zM119.2 77.1h1.3v1.3h-1.3zM130.9 72.2h1.3v1.3h-1.3zM130.4 78.6h1.3v1.3h-1.3zM128.8 81.9h1.3v1.3h-1.3zM120.7 64.6h1.3v1.3h-1.3zM126.2 68.2h1.3v1.3h-1.3zM121.9 73.5h1.3v1.3h-1.3zM122.8 71.9h1.3v1.3h-1.3zM130.2 73.5h1.3v1.3h-1.3zM134.3 62.9h1.3v1.3h-1.3zM130.0 66.2h1.3v1.3h-1.3zM120.3 73.1h1.3v1.3h-1.3zM126.8 63.7h1.3v1.3h-1.3zM120.4 69.4h1.3v1.3h-1.3zM132.4 71.3h1.3v1.3h-1.3zM128.8 75.2h1.3v1.3h-1.3zM125.6 74.6h1.3v1.3h-1.3zM128.6 70.6h1.3v1.3h-1.3zM134.2 70.6h1.3v1.3h-1.3zM130.2 65.8h1.3v1.3h-1.3zM119.7 84.1h1.3v1.3h-1.3zM128.3 78.9h1.3v1.3h-1.3zM128.7 70.9h1.3v1.3h-1.3zM117.9 87.3h1.3v1.3h-1.3zM126.7 63.3h1.3v1.3h-1.3zM122.4 84.0h1.3v1.3h-1.3zM123.7 78.1h1.3v1.3h-1.3zM122.6 68.4h1.3v1.3h-1.3zM130.9 75.4h1.3v1.3h-1.3zM123.9 74.9h1.3v1.3h-1.3zM125.2 78.3h1.3v1.3h-1.3zM123.6 67.1h1.3v1.3h-1.3zM132.9 74.3h1.3v1.3h-1.3zM124.5 88.6h1.3v1.3h-1.3zM122.2 62.8h1.3v1.3h-1.3zM118.1 86.3h1.3v1.3h-1.3zM127.3 60.0h1.3v1.3h-1.3zM126.1 72.8h1.3v1.3h-1.3zM133.4 76.7h1.3v1.3h-1.3zM121.6 68.8h1.3v1.3h-1.3zM129.1 71.4h1.3v1.3h-1.3zM122.9 82.6h1.3v1.3h-1.3zM118.2 76.2h1.3v1.3h-1.3zM126.0 82.1h1.3v1.3h-1.3zM118.2 72.0h1.3v1.3h-1.3zM126.5 66.2h1.3v1.3h-1.3zM122.8 69.4h1.3v1.3h-1.3zM118.7 82.2h1.3v1.3h-1.3zM131.5 72.8h1.3v1.3h-1.3zM130.8 74.4h1.3v1.3h-1.3zM116.4 71.0h1.3v1.3h-1.3zM130.8 71.7h1.3v1.3h-1.3zM132.0 69.5h1.3v1.3h-1.3zM121.5 80.6h1.3v1.3h-1.3zM127.1 73.2h1.3v1.3h-1.3zM131.5 69.4h1.3v1.3h-1.3zM119.9 74.8h1.3v1.3h-1.3zM123.4 76.5h1.3v1.3h-1.3zM120.3 75.4h1.3v1.3h-1.3zM132.4 66.7h1.3v1.3h-1.3zM132.0 65.4h1.3v1.3h-1.3zM125.5 67.5h1.3v1.3h-1.3zM125.5 76.9h1.3v1.3h-1.3zM120.7 89.4h1.3v1.3h-1.3zM125.0 66.4h1.3v1.3h-1.3zM123.4 72.4h1.3v1.3h-1.3zM135.1 61.1h1.3v1.3h-1.3zM123.9 71.3h1.3v1.3h-1.3zM128.7 68.1h1.3v1.3h-1.3zM123.4 72.4h1.3v1.3h-1.3zM115.1 84.3h1.3v1.3h-1.3zM116.6 76.7h1.3v1.3h-1.3zM130.1 83.8h1.3v1.3h-1.3zM128.7 73.6h1.3v1.3h-1.3zM129.4 80.0h1.3v1.3h-1.3zM129.4 72.9h1.3v1.3h-1.3zM131.0 63.8h1.3v1.3h-1.3zM128.0 54.5h1.3v1.3h-1.3zM126.7 76.4h1.3v1.3h-1.3zM127.3 74.3h1.3v1.3h-1.3zM131.4 53.3h1.3v1.3h-1.3zM124.4 69.6h1.3v1.3h-1.3zM115.2 77.1h1.3v1.3h-1.3zM133.0 70.7h1.3v1.3h-1.3zM130.8 74.3h1.3v1.3h-1.3zM120.7 84.2h1.3v1.3h-1.3zM128.3 75.2h1.3v1.3h-1.3zM128.1 73.2h1.3v1.3h-1.3zM125.8 58.2h1.3v1.3h-1.3zM126.9 74.4h1.3v1.3h-1.3zM125.1 79.2h1.3v1.3h-1.3zM115.8 86.7h1.3v1.3h-1.3zM117.3 72.4h1.3v1.3h-1.3zM133.1 63.2h1.3v1.3h-1.3zM127.4 64.5h1.3v1.3h-1.3zM116.4 71.9h1.3v1.3h-1.3zM127.8 64.5h1.3v1.3h-1.3zM115.8 89.0h1.3v1.3h-1.3zM120.4 66.1h1.3v1.3h-1.3zM114.8 74.3h1.3v1.3h-1.3zM123.6 77.2h1.3v1.3h-1.3zM125.3 68.7h1.3v1.3h-1.3zM133.7 61.5h1.3v1.3h-1.3zM123.9 61.2h1.3v1.3h-1.3zM123.8 81.9h1.3v1.3h-1.3zM124.8 67.8h1.3v1.3h-1.3zM120.6 73.6h1.3v1.3h-1.3zM125.5 77.9h1.3v1.3h-1.3zM132.3 61.3h1.3v1.3h-1.3zM128.5 65.4h1.3v1.3h-1.3zM131.1 70.0h1.3v1.3h-1.3zM126.6 82.5h1.3v1.3h-1.3zM131.6 69.3h1.3v1.3h-1.3zM124.1 68.1h1.3v1.3h-1.3zM124.2 76.9h1.3v1.3h-1.3zM121.2 77.6h1.3v1.3h-1.3zM117.7 80.2h1.3v1.3h-1.3zM121.8 74.7h1.3v1.3h-1.3zM129.4 61.7h1.3v1.3h-1.3zM128.5 75.1h1.3v1.3h-1.3zM124.9 73.9h1.3v1.3h-1.3zM133.0 64.5h1.3v1.3h-1.3zM119.2 73.0h1.3v1.3h-1.3zM125.7 79.3h1.3v1.3h-1.3zM118.8 87.0h1.3v1.3h-1.3zM119.0 71.4h1.3v1.3h-1.3zM128.1 62.3h1.3v1.3h-1.3zM116.4 85.0h1.3v1.3h-1.3zM132.3 71.5h1.3v1.3h-1.3zM127.1 70.9h1.3v1.3h-1.3zM131.4 77.2h1.3v1.3h-1.3zM122.9 59.5h1.3v1.3h-1.3zM127.9 73.7h1.3v1.3h-1.3zM126.7 75.4h1.3v1.3h-1.3zM123.8 66.0h1.3v1.3h-1.3zM130.1 62.1h1.3v1.3h-1.3zM130.0 64.2h1.3v1.3h-1.3zM130.7 75.8h1.3v1.3h-1.3zM133.2 72.1h1.3v1.3h-1.3zM136.4 71.0h1.3v1.3h-1.3zM123.4 79.9h1.3v1.3h-1.3zM118.6 78.0h1.3v1.3h-1.3zM120.0 69.1h1.3v1.3h-1.3zM130.5 75.8h1.3v1.3h-1.3zM125.0 67.6h1.3v1.3h-1.3zM127.6 76.3h1.3v1.3h-1.3zM129.4 59.1h1.3v1.3h-1.3zM127.9 72.7h1.3v1.3h-1.3zM126.3 75.2h1.3v1.3h-1.3zM131.7 72.7h1.3v1.3h-1.3zM123.9 78.3h1.3v1.3h-1.3zM123.6 69.0h1.3v1.3h-1.3zM124.3 75.9h1.3v1.3h-1.3zM118.9 84.9h1.3v1.3h-1.3zM119.8 82.1h1.3v1.3h-1.3zM121.3 78.2h1.3v1.3h-1.3zM132.7 68.9h1.3v1.3h-1.3zM124.7 64.7h1.3v1.3h-1.3zM121.3 68.4h1.3v1.3h-1.3zM130.2 69.3h1.3v1.3h-1.3zM124.5 76.1h1.3v1.3h-1.3zM130.9 67.1h1.3v1.3h-1.3zM120.7 76.8h1.3v1.3h-1.3zM118.7 87.1h1.3v1.3h-1.3zM123.4 78.3h1.3v1.3h-1.3zM121.4 66.3h1.3v1.3h-1.3zM121.5 79.2h1.3v1.3h-1.3zM119.5 86.7h1.3v1.3h-1.3zM125.2 78.0h1.3v1.3h-1.3zM130.2 68.5h1.3v1.3h-1.3zM125.5 75.8h1.3v1.3h-1.3zM130.2 73.0h1.3v1.3h-1.3zM118.5 88.6h1.3v1.3h-1.3zM123.3 79.9h1.3v1.3h-1.3zM129.4 64.6h1.3v1.3h-1.3zM122.8 71.0h1.3v1.3h-1.3zM127.2 70.9h1.3v1.3h-1.3zM124.7 82.8h1.3v1.3h-1.3zM115.2 74.1h1.3v1.3h-1.3zM126.7 75.6h1.3v1.3h-1.3zM127.1 69.6h1.3v1.3h-1.3zM127.7 74.7h1.3v1.3h-1.3zM119.5 65.7h1.3v1.3h-1.3zM123.3 79.6h1.3v1.3h-1.3zM128.3 75.2h1.3v1.3h-1.3zM128.9 65.0h1.3v1.3h-1.3zM131.0 79.1h1.3v1.3h-1.3zM122.1 80.4h1.3v1.3h-1.3zM134.1 56.8h1.3v1.3h-1.3zM127.1 68.1h1.3v1.3h-1.3zM125.4 70.1h1.3v1.3h-1.3zM136.7 66.0h1.3v1.3h-1.3zM123.1 68.8h1.3v1.3h-1.3zM123.2 69.0h1.3v1.3h-1.3zM127.5 64.6h1.3v1.3h-1.3zM127.3 68.8h1.3v1.3h-1.3zM119.7 63.0h1.3v1.3h-1.3zM127.2 70.5h1.3v1.3h-1.3zM120.4 68.5h1.3v1.3h-1.3zM127.0 60.5h1.3v1.3h-1.3zM124.7 68.4h1.3v1.3h-1.3zM122.9 74.2h1.3v1.3h-1.3zM117.7 86.1h1.3v1.3h-1.3zM124.9 60.2h1.3v1.3h-1.3zM118.6 69.4h1.3v1.3h-1.3zM123.2 61.7h1.3v1.3h-1.3zM121.1 82.8h1.3v1.3h-1.3zM121.8 66.5h1.3v1.3h-1.3zM127.3 74.7h1.3v1.3h-1.3zM122.3 71.8h1.3v1.3h-1.3zM131.4 70.9h1.3v1.3h-1.3zM125.4 89.6h1.3v1.3h-1.3zM130.0 64.6h1.3v1.3h-1.3zM132.3 68.7h1.3v1.3h-1.3zM119.7 73.4h1.3v1.3h-1.3zM127.4 76.2h1.3v1.3h-1.3zM121.1 76.8h1.3v1.3h-1.3zM123.8 84.7h1.3v1.3h-1.3zM121.3 81.9h1.3v1.3h-1.3zM128.6 81.2h1.3v1.3h-1.3zM119.3 77.5h1.3v1.3h-1.3zM120.8 68.6h1.3v1.3h-1.3zM126.8 78.2h1.3v1.3h-1.3zM129.3 73.7h1.3v1.3h-1.3zM121.3 78.7h1.3v1.3h-1.3zM128.6 75.3h1.3v1.3h-1.3zM134.1 65.1h1.3v1.3h-1.3zM123.0 70.9h1.3v1.3h-1.3zM124.3 76.5h1.3v1.3h-1.3zM116.9 84.9h1.3v1.3h-1.3zM121.3 88.4h1.3v1.3h-1.3zM122.5 69.6h1.3v1.3h-1.3zM129.0 64.8h1.3v1.3h-1.3zM127.9 75.0h1.3v1.3h-1.3zM122.3 68.4h1.3v1.3h-1.3zM117.6 76.6h1.3v1.3h-1.3zM127.1 67.4h1.3v1.3h-1.3zM125.6 64.0h1.3v1.3h-1.3zM126.4 84.8h1.3v1.3h-1.3zM122.3 63.5h1.3v1.3h-1.3zM126.0 62.7h1.3v1.3h-1.3zM132.4 60.6h1.3v1.3h-1.3zM122.7 77.8h1.3v1.3h-1.3zM126.4 66.6h1.3v1.3h-1.3zM127.9 66.8h1.3v1.3h-1.3zM130.1 85.6h1.3v1.3h-1.3zM124.3 64.4h1.3v1.3h-1.3zM125.5 80.7h1.3v1.3h-1.3zM133.4 58.2h1.3v1.3h-1.3zM131.6 79.3h1.3v1.3h-1.3zM129.2 80.0h1.3v1.3h-1.3zM127.3 66.8h1.3v1.3h-1.3zM121.4 77.2h1.3v1.3h-1.3zM131.2 75.1h1.3v1.3h-1.3zM121.9 72.1h1.3v1.3h-1.3zM134.1 62.8h1.3v1.3h-1.3zM131.1 74.0h1.3v1.3h-1.3zM133.8 73.9h1.3v1.3h-1.3zM122.3 72.6h1.3v1.3h-1.3zM124.8 76.8h1.3v1.3h-1.3zM123.8 70.7h1.3v1.3h-1.3zM118.7 75.4h1.3v1.3h-1.3zM130.6 79.9h1.3v1.3h-1.3zM121.0 73.1h1.3v1.3h-1.3zM120.3 77.5h1.3v1.3h-1.3zM121.7 72.7h1.3v1.3h-1.3zM125.8 61.6h1.3v1.3h-1.3zM130.7 77.4h1.3v1.3h-1.3zM130.6 75.1h1.3v1.3h-1.3zM128.2 75.8h1.3v1.3h-1.3zM128.6 52.8h1.3v1.3h-1.3zM122.7 66.8h1.3v1.3h-1.3zM122.6 72.3h1.3v1.3h-1.3zM121.0 70.1h1.3v1.3h-1.3zM121.2 92.3h1.3v1.3h-1.3zM131.2 74.0h1.3v1.3h-1.3zM126.5 71.4h1.3v1.3h-1.3zM117.1 78.4h1.3v1.3h-1.3zM121.1 70.1h1.3v1.3h-1.3zM135.8 63.1h1.3v1.3h-1.3zM132.2 70.2h1.3v1.3h-1.3zM123.0 72.9h1.3v1.3h-1.3zM126.2 60.6h1.3v1.3h-1.3zM130.3 70.8h1.3v1.3h-1.3zM113.9 85.4h1.3v1.3h-1.3zM121.7 78.7h1.3v1.3h-1.3zM122.5 71.4h1.3v1.3h-1.3zM118.8 78.0h1.3v1.3h-1.3zM123.7 82.7h1.3v1.3h-1.3zM119.3 76.0h1.3v1.3h-1.3zM118.4 82.2h1.3v1.3h-1.3zM121.1 87.5h1.3v1.3h-1.3zM121.2 67.6h1.3v1.3h-1.3zM122.1 77.3h1.3v1.3h-1.3zM124.9 65.0h1.3v1.3h-1.3zM120.0 74.5h1.3v1.3h-1.3zM119.5 80.6h1.3v1.3h-1.3zM127.7 70.4h1.3v1.3h-1.3zM116.5 85.0h1.3v1.3h-1.3zM127.9 66.5h1.3v1.3h-1.3zM129.0 63.4h1.3v1.3h-1.3zM127.7 68.4h1.3v1.3h-1.3zM128.7 68.9h1.3v1.3h-1.3zM126.8 62.6h1.3v1.3h-1.3zM121.9 73.9h1.3v1.3h-1.3zM127.4 73.8h1.3v1.3h-1.3zM117.6 69.4h1.3v1.3h-1.3zM121.0 78.3h1.3v1.3h-1.3zM121.8 74.9h1.3v1.3h-1.3zM128.1 77.6h1.3v1.3h-1.3zM133.3 69.9h1.3v1.3h-1.3zM115.9 85.7h1.3v1.3h-1.3zM125.6 85.7h1.3v1.3h-1.3zM125.3 65.9h1.3v1.3h-1.3zM124.9 78.2h1.3v1.3h-1.3zM136.2 63.8h1.3v1.3h-1.3zM127.2 80.0h1.3v1.3h-1.3zM131.6 77.1h1.3v1.3h-1.3zM120.2 65.4h1.3v1.3h-1.3zM127.2 79.6h1.3v1.3h-1.3zM127.1 79.0h1.3v1.3h-1.3zM126.7 78.8h1.3v1.3h-1.3zM123.4 78.1h1.3v1.3h-1.3zM126.3 66.4h1.3v1.3h-1.3zM119.9 74.1h1.3v1.3h-1.3zM124.1 79.9h1.3v1.3h-1.3zM129.6 71.5h1.3v1.3h-1.3zM133.4 64.3h1.3v1.3h-1.3zM128.3 69.9h1.3v1.3h-1.3zM130.1 76.7h1.3v1.3h-1.3zM119.8 78.3h1.3v1.3h-1.3zM120.6 67.8h1.3v1.3h-1.3zM118.1 73.5h1.3v1.3h-1.3zM124.4 89.1h1.3v1.3h-1.3zM118.8 76.5h1.3v1.3h-1.3zM123.2 87.1h1.3v1.3h-1.3zM124.3 76.4h1.3v1.3h-1.3zM125.1 56.3h1.3v1.3h-1.3zM119.1 92.2h1.3v1.3h-1.3zM130.6 61.1h1.3v1.3h-1.3zM134.8 62.3h1.3v1.3h-1.3zM123.5 68.7h1.3v1.3h-1.3zM130.9 73.4h1.3v1.3h-1.3zM127.2 68.4h1.3v1.3h-1.3zM126.8 69.4h1.3v1.3h-1.3zM127.4 65.2h1.3v1.3h-1.3zM132.6 58.9h1.3v1.3h-1.3zM118.9 68.4h1.3v1.3h-1.3zM118.0 91.6h1.3v1.3h-1.3zM132.4 79.7h1.3v1.3h-1.3zM119.2 77.9h1.3v1.3h-1.3zM119.7 62.7h1.3v1.3h-1.3zM120.4 70.2h1.3v1.3h-1.3zM124.9 74.3h1.3v1.3h-1.3zM120.7 74.0h1.3v1.3h-1.3zM126.7 73.1h1.3v1.3h-1.3zM132.3 75.2h1.3v1.3h-1.3zM124.5 63.2h1.3v1.3h-1.3zM119.2 77.6h1.3v1.3h-1.3zM130.0 73.5h1.3v1.3h-1.3zM131.0 59.6h1.3v1.3h-1.3zM118.8 77.0h1.3v1.3h-1.3zM122.0 75.5h1.3v1.3h-1.3zM128.5 56.0h1.3v1.3h-1.3zM126.8 74.7h1.3v1.3h-1.3zM113.7 87.4h1.3v1.3h-1.3zM116.6 89.7h1.3v1.3h-1.3zM127.7 74.9h1.3v1.3h-1.3zM120.2 72.1h1.3v1.3h-1.3zM130.2 74.7h1.3v1.3h-1.3zM118.7 76.6h1.3v1.3h-1.3zM130.9 62.5h1.3v1.3h-1.3zM125.9 74.1h1.3v1.3h-1.3zM128.0 61.3h1.3v1.3h-1.3zM125.8 86.4h1.3v1.3h-1.3zM135.7 65.0h1.3v1.3h-1.3zM124.9 73.5h1.3v1.3h-1.3zM124.0 73.7h1.3v1.3h-1.3zM131.0 76.1h1.3v1.3h-1.3zM134.3 71.2h1.3v1.3h-1.3zM125.8 67.4h1.3v1.3h-1.3zM133.9 78.7h1.3v1.3h-1.3zM127.9 80.0h1.3v1.3h-1.3zM124.8 82.3h1.3v1.3h-1.3zM122.6 75.4h1.3v1.3h-1.3zM119.6 79.5h1.3v1.3h-1.3zM131.9 73.7h1.3v1.3h-1.3zM123.1 68.1h1.3v1.3h-1.3zM134.7 77.2h1.3v1.3h-1.3zM136.7 67.1h1.3v1.3h-1.3zM127.7 61.1h1.3v1.3h-1.3zM137.6 60.6h1.3v1.3h-1.3zM124.9 76.0h1.3v1.3h-1.3zM121.4 80.4h1.3v1.3h-1.3zM125.2 58.8h1.3v1.3h-1.3zM131.0 62.8h1.3v1.3h-1.3zM124.3 68.6h1.3v1.3h-1.3zM127.5 65.8h1.3v1.3h-1.3zM118.2 72.1h1.3v1.3h-1.3zM124.1 72.0h1.3v1.3h-1.3zM128.9 65.4h1.3v1.3h-1.3zM123.1 72.8h1.3v1.3h-1.3zM120.5 77.3h1.3v1.3h-1.3zM121.6 64.5h1.3v1.3h-1.3zM121.8 86.6h1.3v1.3h-1.3zM131.5 60.7h1.3v1.3h-1.3zM133.8 77.9h1.3v1.3h-1.3zM124.0 69.3h1.3v1.3h-1.3zM130.2 73.1h1.3v1.3h-1.3zM127.5 77.8h1.3v1.3h-1.3zM124.8 76.4h1.3v1.3h-1.3z"/><path fill="#3a3aee" d="M126.5 80.5h1.3v1.3h-1.3zM117.8 96.0h1.3v1.3h-1.3zM122.6 92.0h1.3v1.3h-1.3zM115.8 95.3h1.3v1.3h-1.3zM119.4 103.0h1.3v1.3h-1.3zM125.9 74.7h1.3v1.3h-1.3zM124.3 85.9h1.3v1.3h-1.3zM119.4 100.3h1.3v1.3h-1.3zM127.4 78.5h1.3v1.3h-1.3zM116.6 90.9h1.3v1.3h-1.3zM122.7 97.0h1.3v1.3h-1.3zM118.9 95.3h1.3v1.3h-1.3zM119.4 87.8h1.3v1.3h-1.3zM119.3 98.3h1.3v1.3h-1.3zM116.5 96.0h1.3v1.3h-1.3zM125.4 81.2h1.3v1.3h-1.3zM118.4 82.7h1.3v1.3h-1.3zM125.8 84.5h1.3v1.3h-1.3zM129.0 83.1h1.3v1.3h-1.3zM113.5 99.9h1.3v1.3h-1.3zM117.0 93.7h1.3v1.3h-1.3zM124.1 82.5h1.3v1.3h-1.3zM116.4 96.4h1.3v1.3h-1.3zM115.8 99.8h1.3v1.3h-1.3zM123.9 103.2h1.3v1.3h-1.3zM120.8 82.6h1.3v1.3h-1.3zM122.7 92.0h1.3v1.3h-1.3zM124.8 91.3h1.3v1.3h-1.3zM129.2 90.9h1.3v1.3h-1.3zM117.7 83.0h1.3v1.3h-1.3zM115.7 97.8h1.3v1.3h-1.3zM123.3 74.5h1.3v1.3h-1.3zM117.1 80.4h1.3v1.3h-1.3zM117.4 84.1h1.3v1.3h-1.3zM119.0 93.8h1.3v1.3h-1.3zM115.5 98.8h1.3v1.3h-1.3zM127.8 76.5h1.3v1.3h-1.3zM118.9 79.7h1.3v1.3h-1.3zM117.4 89.0h1.3v1.3h-1.3zM124.9 98.0h1.3v1.3h-1.3zM119.5 80.5h1.3v1.3h-1.3zM120.1 101.0h1.3v1.3h-1.3zM119.6 87.4h1.3v1.3h-1.3zM116.0 86.2h1.3v1.3h-1.3zM115.7 95.2h1.3v1.3h-1.3zM123.2 79.1h1.3v1.3h-1.3zM115.1 97.4h1.3v1.3h-1.3zM124.3 80.8h1.3v1.3h-1.3zM117.7 93.7h1.3v1.3h-1.3zM121.0 83.0h1.3v1.3h-1.3zM117.2 90.9h1.3v1.3h-1.3zM123.1 91.9h1.3v1.3h-1.3zM120.4 84.2h1.3v1.3h-1.3zM115.5 95.0h1.3v1.3h-1.3zM119.6 92.8h1.3v1.3h-1.3zM125.9 75.2h1.3v1.3h-1.3zM122.7 95.5h1.3v1.3h-1.3zM120.8 98.1h1.3v1.3h-1.3zM118.9 87.1h1.3v1.3h-1.3zM125.7 87.0h1.3v1.3h-1.3zM114.8 82.1h1.3v1.3h-1.3zM115.5 104.5h1.3v1.3h-1.3zM114.1 90.7h1.3v1.3h-1.3zM123.8 83.9h1.3v1.3h-1.3zM124.2 79.8h1.3v1.3h-1.3zM121.9 74.4h1.3v1.3h-1.3zM121.7 93.8h1.3v1.3h-1.3zM115.4 84.9h1.3v1.3h-1.3zM120.5 97.2h1.3v1.3h-1.3zM117.7 87.9h1.3v1.3h-1.3zM118.9 92.1h1.3v1.3h-1.3zM121.4 92.1h1.3v1.3h-1.3zM118.8 83.4h1.3v1.3h-1.3zM127.0 92.9h1.3v1.3h-1.3zM115.8 88.4h1.3v1.3h-1.3zM114.7 100.3h1.3v1.3h-1.3zM112.0 93.3h1.3v1.3h-1.3zM115.9 92.2h1.3v1.3h-1.3zM124.9 79.5h1.3v1.3h-1.3zM121.9 98.1h1.3v1.3h-1.3zM112.1 89.3h1.3v1.3h-1.3zM125.5 91.7h1.3v1.3h-1.3zM118.0 88.6h1.3v1.3h-1.3zM118.1 88.6h1.3v1.3h-1.3zM122.6 85.2h1.3v1.3h-1.3zM122.4 93.5h1.3v1.3h-1.3zM125.6 75.8h1.3v1.3h-1.3zM126.5 79.7h1.3v1.3h-1.3zM120.0 91.3h1.3v1.3h-1.3zM125.4 77.5h1.3v1.3h-1.3zM116.7 79.8h1.3v1.3h-1.3zM115.6 81.3h1.3v1.3h-1.3zM126.3 73.3h1.3v1.3h-1.3zM120.0 81.4h1.3v1.3h-1.3zM116.1 89.0h1.3v1.3h-1.3zM118.8 98.0h1.3v1.3h-1.3zM118.4 92.2h1.3v1.3h-1.3zM125.1 92.6h1.3v1.3h-1.3zM129.9 83.1h1.3v1.3h-1.3zM117.6 91.0h1.3v1.3h-1.3zM123.8 88.3h1.3v1.3h-1.3zM119.5 102.1h1.3v1.3h-1.3zM121.5 92.5h1.3v1.3h-1.3zM120.2 86.5h1.3v1.3h-1.3zM117.6 95.8h1.3v1.3h-1.3zM116.6 78.3h1.3v1.3h-1.3zM120.3 87.9h1.3v1.3h-1.3zM120.7 91.4h1.3v1.3h-1.3zM121.5 85.9h1.3v1.3h-1.3zM122.5 78.0h1.3v1.3h-1.3zM123.0 75.4h1.3v1.3h-1.3zM114.0 98.9h1.3v1.3h-1.3zM119.7 94.1h1.3v1.3h-1.3zM125.1 91.8h1.3v1.3h-1.3zM118.8 90.6h1.3v1.3h-1.3zM121.5 93.2h1.3v1.3h-1.3zM126.2 90.8h1.3v1.3h-1.3zM117.5 94.0h1.3v1.3h-1.3zM116.1 92.9h1.3v1.3h-1.3zM115.7 92.4h1.3v1.3h-1.3z"/><path fill="#e3281c" d="M134.7 87.4h1.2v1.2h-1.2zM111.2 81.8h1.2v1.2h-1.2zM116.6 81.8h1.2v1.2h-1.2zM130.0 53.6h1.2v1.2h-1.2zM117.8 86.4h1.2v1.2h-1.2zM128.2 76.7h1.2v1.2h-1.2zM118.2 69.4h1.2v1.2h-1.2zM123.2 91.6h1.2v1.2h-1.2zM111.8 81.4h1.2v1.2h-1.2zM125.6 88.1h1.2v1.2h-1.2zM127.8 91.2h1.2v1.2h-1.2zM126.3 73.7h1.2v1.2h-1.2zM118.5 87.0h1.2v1.2h-1.2zM117.7 95.9h1.2v1.2h-1.2zM112.5 78.7h1.2v1.2h-1.2zM108.1 106.2h1.2v1.2h-1.2zM121.7 80.0h1.2v1.2h-1.2zM117.2 84.3h1.2v1.2h-1.2zM119.3 103.6h1.2v1.2h-1.2zM115.7 74.9h1.2v1.2h-1.2zM120.2 91.5h1.2v1.2h-1.2zM109.9 99.9h1.2v1.2h-1.2zM122.1 81.0h1.2v1.2h-1.2zM122.0 73.0h1.2v1.2h-1.2zM125.5 78.8h1.2v1.2h-1.2zM123.7 58.9h1.2v1.2h-1.2zM113.8 85.1h1.2v1.2h-1.2zM126.8 79.1h1.2v1.2h-1.2zM126.2 63.0h1.2v1.2h-1.2zM125.2 74.9h1.2v1.2h-1.2zM128.1 62.8h1.2v1.2h-1.2zM124.5 89.8h1.2v1.2h-1.2zM116.0 85.4h1.2v1.2h-1.2zM115.4 110.6h1.2v1.2h-1.2zM126.8 68.7h1.2v1.2h-1.2zM122.8 71.0h1.2v1.2h-1.2zM128.9 76.8h1.2v1.2h-1.2zM110.7 88.2h1.2v1.2h-1.2zM119.5 89.0h1.2v1.2h-1.2zM112.4 72.0h1.2v1.2h-1.2zM130.4 66.6h1.2v1.2h-1.2zM113.1 87.0h1.2v1.2h-1.2zM120.0 95.0h1.2v1.2h-1.2zM124.2 80.6h1.2v1.2h-1.2zM110.6 106.3h1.2v1.2h-1.2zM118.8 85.8h1.2v1.2h-1.2zM118.3 94.6h1.2v1.2h-1.2zM118.1 66.9h1.2v1.2h-1.2zM120.0 67.3h1.2v1.2h-1.2zM110.2 96.7h1.2v1.2h-1.2zM126.4 76.1h1.2v1.2h-1.2zM120.4 69.8h1.2v1.2h-1.2zM127.3 105.7h1.2v1.2h-1.2zM116.0 100.0h1.2v1.2h-1.2zM137.6 69.6h1.2v1.2h-1.2zM119.5 101.5h1.2v1.2h-1.2zM117.6 87.9h1.2v1.2h-1.2zM111.3 89.1h1.2v1.2h-1.2zM114.1 97.3h1.2v1.2h-1.2zM114.1 77.0h1.2v1.2h-1.2zM124.4 65.6h1.2v1.2h-1.2zM118.0 73.2h1.2v1.2h-1.2zM121.4 104.1h1.2v1.2h-1.2zM111.3 74.4h1.2v1.2h-1.2zM112.9 76.1h1.2v1.2h-1.2zM126.6 81.2h1.2v1.2h-1.2zM118.2 85.2h1.2v1.2h-1.2zM118.9 88.2h1.2v1.2h-1.2zM118.9 98.0h1.2v1.2h-1.2zM107.3 90.9h1.2v1.2h-1.2zM131.8 85.2h1.2v1.2h-1.2zM123.7 71.2h1.2v1.2h-1.2zM113.8 95.0h1.2v1.2h-1.2zM130.4 69.2h1.2v1.2h-1.2zM117.7 98.0h1.2v1.2h-1.2zM127.2 65.6h1.2v1.2h-1.2zM117.5 83.0h1.2v1.2h-1.2zM117.9 110.2h1.2v1.2h-1.2zM127.3 78.3h1.2v1.2h-1.2zM125.4 68.3h1.2v1.2h-1.2zM121.1 92.0h1.2v1.2h-1.2zM103.6 98.5h1.2v1.2h-1.2zM115.0 89.4h1.2v1.2h-1.2zM116.9 97.8h1.2v1.2h-1.2zM119.7 74.7h1.2v1.2h-1.2zM114.9 97.7h1.2v1.2h-1.2zM123.0 87.0h1.2v1.2h-1.2zM123.4 56.2h1.2v1.2h-1.2zM123.7 71.5h1.2v1.2h-1.2zM119.1 82.7h1.2v1.2h-1.2zM130.0 72.6h1.2v1.2h-1.2zM114.2 103.1h1.2v1.2h-1.2zM130.6 74.9h1.2v1.2h-1.2zM119.3 76.2h1.2v1.2h-1.2zM124.8 55.4h1.2v1.2h-1.2zM122.8 71.1h1.2v1.2h-1.2zM125.0 90.2h1.2v1.2h-1.2zM122.0 97.5h1.2v1.2h-1.2zM115.5 81.5h1.2v1.2h-1.2zM122.1 86.2h1.2v1.2h-1.2zM130.4 77.8h1.2v1.2h-1.2zM110.3 102.1h1.2v1.2h-1.2zM109.4 92.4h1.2v1.2h-1.2zM126.7 57.8h1.2v1.2h-1.2zM117.0 88.5h1.2v1.2h-1.2zM122.1 98.9h1.2v1.2h-1.2zM117.4 82.0h1.2v1.2h-1.2zM121.5 90.3h1.2v1.2h-1.2zM126.9 82.8h1.2v1.2h-1.2zM123.3 67.3h1.2v1.2h-1.2zM113.5 97.7h1.2v1.2h-1.2zM117.5 82.5h1.2v1.2h-1.2zM114.8 79.0h1.2v1.2h-1.2zM122.2 86.6h1.2v1.2h-1.2zM121.1 98.3h1.2v1.2h-1.2zM115.8 95.9h1.2v1.2h-1.2zM117.8 73.5h1.2v1.2h-1.2zM129.2 86.1h1.2v1.2h-1.2zM118.4 80.7h1.2v1.2h-1.2zM119.1 94.0h1.2v1.2h-1.2zM124.4 80.4h1.2v1.2h-1.2zM107.9 81.5h1.2v1.2h-1.2zM114.8 96.3h1.2v1.2h-1.2zM124.0 84.6h1.2v1.2h-1.2zM121.5 95.6h1.2v1.2h-1.2zM129.9 65.8h1.2v1.2h-1.2zM121.1 74.5h1.2v1.2h-1.2zM118.5 100.2h1.2v1.2h-1.2zM127.8 82.7h1.2v1.2h-1.2zM112.6 88.5h1.2v1.2h-1.2zM116.9 100.1h1.2v1.2h-1.2zM118.7 115.1h1.2v1.2h-1.2zM117.8 92.0h1.2v1.2h-1.2zM127.4 93.1h1.2v1.2h-1.2zM117.9 105.5h1.2v1.2h-1.2zM128.2 83.1h1.2v1.2h-1.2zM117.3 73.0h1.2v1.2h-1.2zM120.8 91.8h1.2v1.2h-1.2zM117.7 83.9h1.2v1.2h-1.2zM113.3 77.4h1.2v1.2h-1.2z"/><path fill="#3a3aee" d="M118.5 114.3h1.2v1.2h-1.2zM123.5 96.0h1.2v1.2h-1.2zM104.8 112.8h1.2v1.2h-1.2zM120.4 103.2h1.2v1.2h-1.2zM121.6 105.5h1.2v1.2h-1.2zM115.2 115.7h1.2v1.2h-1.2zM103.5 123.0h1.2v1.2h-1.2zM115.3 116.3h1.2v1.2h-1.2zM112.5 110.4h1.2v1.2h-1.2zM112.2 93.7h1.2v1.2h-1.2zM110.1 92.6h1.2v1.2h-1.2zM110.9 88.4h1.2v1.2h-1.2zM113.7 117.3h1.2v1.2h-1.2zM105.6 86.3h1.2v1.2h-1.2zM124.6 95.5h1.2v1.2h-1.2zM105.6 97.8h1.2v1.2h-1.2zM114.5 115.7h1.2v1.2h-1.2zM115.6 129.4h1.2v1.2h-1.2zM109.7 83.0h1.2v1.2h-1.2zM115.6 117.6h1.2v1.2h-1.2zM116.7 112.7h1.2v1.2h-1.2zM109.3 108.0h1.2v1.2h-1.2zM118.1 106.5h1.2v1.2h-1.2zM115.2 97.4h1.2v1.2h-1.2zM128.2 91.7h1.2v1.2h-1.2zM106.6 93.1h1.2v1.2h-1.2zM110.9 110.6h1.2v1.2h-1.2zM124.4 100.7h1.2v1.2h-1.2zM120.9 112.6h1.2v1.2h-1.2zM113.0 117.3h1.2v1.2h-1.2z"/><path fill="#e3281c" d="M119.9 111.2h1.2v1.2h-1.2zM121.4 104.9h1.2v1.2h-1.2zM115.3 115.7h1.2v1.2h-1.2zM117.8 110.2h1.2v1.2h-1.2zM111.6 116.4h1.2v1.2h-1.2zM117.7 94.2h1.2v1.2h-1.2zM112.6 100.7h1.2v1.2h-1.2zM118.1 113.9h1.2v1.2h-1.2zM107.2 101.1h1.2v1.2h-1.2zM119.1 94.9h1.2v1.2h-1.2zM118.5 123.9h1.2v1.2h-1.2zM106.0 90.0h1.2v1.2h-1.2zM118.5 92.1h1.2v1.2h-1.2zM115.0 108.9h1.2v1.2h-1.2zM113.2 96.5h1.2v1.2h-1.2zM115.6 115.2h1.2v1.2h-1.2zM106.7 98.1h1.2v1.2h-1.2zM115.5 89.6h1.2v1.2h-1.2zM129.1 86.3h1.2v1.2h-1.2zM119.0 107.1h1.2v1.2h-1.2zM112.4 115.6h1.2v1.2h-1.2zM101.0 122.6h1.2v1.2h-1.2zM117.9 105.9h1.2v1.2h-1.2zM124.1 96.8h1.2v1.2h-1.2zM113.4 92.3h1.2v1.2h-1.2zM109.2 104.1h1.2v1.2h-1.2zM101.6 100.8h1.2v1.2h-1.2zM121.3 115.4h1.2v1.2h-1.2zM109.5 101.2h1.2v1.2h-1.2zM117.5 97.3h1.2v1.2h-1.2z"/><path fill="#3a3aee" d="M112.5 111.5h1.3v1.3h-1.3zM105.0 118.1h1.3v1.3h-1.3zM105.4 128.4h1.3v1.3h-1.3zM106.0 118.6h1.3v1.3h-1.3zM90.3 129.9h1.3v1.3h-1.3zM111.5 117.1h1.3v1.3h-1.3zM90.8 124.7h1.3v1.3h-1.3zM95.1 130.7h1.3v1.3h-1.3zM111.2 127.0h1.3v1.3h-1.3zM92.7 119.7h1.3v1.3h-1.3zM96.6 125.3h1.3v1.3h-1.3zM108.8 125.0h1.3v1.3h-1.3z"/><path fill="#e3281c" d="M101.1 123.9h1.3v1.3h-1.3zM103.7 128.0h1.3v1.3h-1.3zM95.2 130.4h1.3v1.3h-1.3zM106.6 121.2h1.3v1.3h-1.3zM107.9 130.3h1.3v1.3h-1.3zM114.5 120.5h1.3v1.3h-1.3zM108.9 122.8h1.3v1.3h-1.3zM112.3 127.2h1.3v1.3h-1.3zM98.7 126.2h1.3v1.3h-1.3zM98.7 136.6h1.3v1.3h-1.3zM95.8 125.8h1.3v1.3h-1.3zM109.9 122.2h1.3v1.3h-1.3z"/><path fill="#3a3aee" d="M125.5 100.8h1.3v1.3h-1.3zM107.4 88.9h1.3v1.3h-1.3zM92.5 123.1h1.3v1.3h-1.3zM108.3 118.4h1.3v1.3h-1.3zM95.1 114.0h1.3v1.3h-1.3zM105.0 98.6h1.3v1.3h-1.3zM115.5 117.3h1.3v1.3h-1.3zM94.6 103.2h1.3v1.3h-1.3zM114.3 117.8h1.3v1.3h-1.3zM89.4 110.6h1.3v1.3h-1.3zM90.3 101.2h1.3v1.3h-1.3zM115.3 110.9h1.3v1.3h-1.3zM99.0 104.4h1.3v1.3h-1.3zM124.3 108.1h1.3v1.3h-1.3zM111.8 98.1h1.3v1.3h-1.3zM105.0 103.1h1.3v1.3h-1.3zM111.9 97.4h1.3v1.3h-1.3zM96.6 122.7h1.3v1.3h-1.3zM109.7 105.8h1.3v1.3h-1.3zM98.2 108.4h1.3v1.3h-1.3zM106.4 110.5h1.3v1.3h-1.3zM105.8 110.3h1.3v1.3h-1.3zM99.7 108.3h1.3v1.3h-1.3zM116.6 115.7h1.3v1.3h-1.3zM110.8 99.1h1.3v1.3h-1.3zM98.1 114.3h1.3v1.3h-1.3zM92.5 121.4h1.3v1.3h-1.3zM109.9 101.4h1.3v1.3h-1.3zM114.7 112.5h1.3v1.3h-1.3zM98.6 116.6h1.3v1.3h-1.3z"/><path fill="#e3281c" d="M107.9 104.0h1.3v1.3h-1.3zM109.7 117.2h1.3v1.3h-1.3zM95.0 106.7h1.3v1.3h-1.3zM113.8 108.7h1.3v1.3h-1.3zM109.0 120.6h1.3v1.3h-1.3zM91.9 130.6h1.3v1.3h-1.3zM122.0 110.4h1.3v1.3h-1.3zM120.8 114.2h1.3v1.3h-1.3zM107.8 107.3h1.3v1.3h-1.3zM113.4 109.7h1.3v1.3h-1.3zM92.4 123.7h1.3v1.3h-1.3zM101.5 106.5h1.3v1.3h-1.3zM95.7 107.8h1.3v1.3h-1.3zM112.4 118.0h1.3v1.3h-1.3zM112.2 115.6h1.3v1.3h-1.3zM98.9 109.6h1.3v1.3h-1.3zM93.7 101.7h1.3v1.3h-1.3zM98.2 117.7h1.3v1.3h-1.3zM104.6 119.5h1.3v1.3h-1.3zM107.1 124.4h1.3v1.3h-1.3zM112.1 104.7h1.3v1.3h-1.3zM92.8 112.7h1.3v1.3h-1.3zM107.9 104.7h1.3v1.3h-1.3zM108.6 93.7h1.3v1.3h-1.3zM101.5 110.3h1.3v1.3h-1.3zM100.5 114.7h1.3v1.3h-1.3zM115.5 113.6h1.3v1.3h-1.3zM122.1 115.3h1.3v1.3h-1.3zM107.0 122.9h1.3v1.3h-1.3zM98.6 118.2h1.3v1.3h-1.3z"/><path fill="#68be36" d="M120.7 76.6h1.2v1.2h-1.2zM124.6 65.9h1.2v1.2h-1.2zM124.7 90.0h1.2v1.2h-1.2zM131.7 74.8h1.2v1.2h-1.2zM110.0 92.6h1.2v1.2h-1.2zM120.5 78.6h1.2v1.2h-1.2zM125.1 84.7h1.2v1.2h-1.2zM116.8 82.7h1.2v1.2h-1.2zM109.1 77.6h1.2v1.2h-1.2zM134.5 81.1h1.2v1.2h-1.2zM122.5 96.1h1.2v1.2h-1.2zM118.4 57.2h1.2v1.2h-1.2zM104.6 90.3h1.2v1.2h-1.2zM107.1 87.1h1.2v1.2h-1.2z"/><path fill="#e3281c" d="M133.3 39.6h1.3v1.3h-1.3zM126.9 34.7h1.3v1.3h-1.3zM129.3 36.5h1.3v1.3h-1.3zM115.9 50.3h1.3v1.3h-1.3zM115.4 42.4h1.3v1.3h-1.3zM119.7 45.6h1.3v1.3h-1.3zM123.4 45.3h1.3v1.3h-1.3zM130.4 46.6h1.3v1.3h-1.3zM130.2 48.1h1.3v1.3h-1.3zM127.9 46.3h1.3v1.3h-1.3zM121.5 54.3h1.3v1.3h-1.3zM124.3 48.3h1.3v1.3h-1.3zM125.1 44.0h1.3v1.3h-1.3zM114.2 41.3h1.3v1.3h-1.3zM134.5 46.3h1.3v1.3h-1.3zM119.6 39.3h1.3v1.3h-1.3z"/><path fill="#3a3aee" d="M120.4 52.2h1.3v1.3h-1.3zM129.7 44.3h1.3v1.3h-1.3zM129.7 45.8h1.3v1.3h-1.3zM114.8 38.7h1.3v1.3h-1.3zM125.7 52.7h1.3v1.3h-1.3zM126.7 37.4h1.3v1.3h-1.3zM126.5 44.4h1.3v1.3h-1.3zM116.9 37.5h1.3v1.3h-1.3zM131.5 51.3h1.3v1.3h-1.3zM127.6 55.4h1.3v1.3h-1.3z"/><path fill="#4545d8" d="M110.5 149.5h1.4v1.4h-1.4z"/><path fill="#d03a30" d="M99.5 156.5h1.4v1.4h-1.4z"/></g><line x1="48.7" y1="21.6" x2="53" y2="21.6" stroke="#333" stroke-width="1"/><text x="30.3" y="25.400000000000002" font-size="10.6" fill="#000" stroke="#000" textLength="9.6" lengthAdjust="spacingAndGlyphs">10</text><text x="40.2" y="20.800000000000004" font-size="7.6" fill="#000" stroke="#000">5</text><line x1="48.7" y1="61.1" x2="53" y2="61.1" stroke="#333" stroke-width="1"/><text x="30.3" y="64.9" font-size="10.6" fill="#000" stroke="#000" textLength="9.6" lengthAdjust="spacingAndGlyphs">10</text><text x="40.2" y="60.300000000000004" font-size="7.6" fill="#000" stroke="#000">4</text><line x1="48.7" y1="100.6" x2="53" y2="100.6" stroke="#333" stroke-width="1"/><text x="30.3" y="104.39999999999999" font-size="10.6" fill="#000" stroke="#000" textLength="9.6" lengthAdjust="spacingAndGlyphs">10</text><text x="40.2" y="99.8" font-size="7.6" fill="#000" stroke="#000">3</text><line x1="48.7" y1="152.5" x2="53" y2="152.5" stroke="#333" stroke-width="1"/><text x="46" y="156.1" font-size="10.6" fill="#000" stroke="#000" text-anchor="end" textLength="5.6" lengthAdjust="spacingAndGlyphs">0</text><line x1="50.5" y1="49.20931517127274" x2="53" y2="49.20931517127274" stroke="#555" stroke-width="0.8"/><line x1="50.5" y1="42.253710438573336" x2="53" y2="42.253710438573336" stroke="#555" stroke-width="0.8"/><line x1="50.5" y1="37.31863034254549" x2="53" y2="37.31863034254549" stroke="#555" stroke-width="0.8"/><line x1="50.5" y1="33.490684828727254" x2="53" y2="33.490684828727254" stroke="#555" stroke-width="0.8"/><line x1="50.5" y1="30.363025609846076" x2="53" y2="30.363025609846076" stroke="#555" stroke-width="0.8"/><line x1="50.5" y1="27.718627419436856" x2="53" y2="27.718627419436856" stroke="#555" stroke-width="0.8"/><line x1="50.5" y1="25.42794551381823" x2="53" y2="25.42794551381823" stroke="#555" stroke-width="0.8"/><line x1="50.5" y1="23.40742087714667" x2="53" y2="23.40742087714667" stroke="#555" stroke-width="0.8"/><line x1="50.5" y1="88.70931517127273" x2="53" y2="88.70931517127273" stroke="#555" stroke-width="0.8"/><line x1="50.5" y1="81.75371043857334" x2="53" y2="81.75371043857334" stroke="#555" stroke-width="0.8"/><line x1="50.5" y1="76.81863034254548" x2="53" y2="76.81863034254548" stroke="#555" stroke-width="0.8"/><line x1="50.5" y1="72.99068482872725" x2="53" y2="72.99068482872725" stroke="#555" stroke-width="0.8"/><line x1="50.5" y1="69.86302560984606" x2="53" y2="69.86302560984606" stroke="#555" stroke-width="0.8"/><line x1="50.5" y1="67.21862741943684" x2="53" y2="67.21862741943684" stroke="#555" stroke-width="0.8"/><line x1="50.5" y1="64.92794551381823" x2="53" y2="64.92794551381823" stroke="#555" stroke-width="0.8"/><line x1="50.5" y1="62.90742087714666" x2="53" y2="62.90742087714666" stroke="#555" stroke-width="0.8"/><line x1="50.5" y1="128.20931517127275" x2="53" y2="128.20931517127275" stroke="#555" stroke-width="0.8"/><line x1="50.5" y1="121.25371043857334" x2="53" y2="121.25371043857334" stroke="#555" stroke-width="0.8"/><line x1="50.5" y1="116.31863034254548" x2="53" y2="116.31863034254548" stroke="#555" stroke-width="0.8"/><line x1="50.5" y1="112.49068482872725" x2="53" y2="112.49068482872725" stroke="#555" stroke-width="0.8"/><line x1="50.5" y1="109.36302560984606" x2="53" y2="109.36302560984606" stroke="#555" stroke-width="0.8"/><line x1="50.5" y1="106.71862741943684" x2="53" y2="106.71862741943684" stroke="#555" stroke-width="0.8"/><line x1="50.5" y1="104.42794551381823" x2="53" y2="104.42794551381823" stroke="#555" stroke-width="0.8"/><line x1="50.5" y1="102.40742087714666" x2="53" y2="102.40742087714666" stroke="#555" stroke-width="0.8"/><line x1="50.5" y1="8.7" x2="53" y2="8.7" stroke="#555" stroke-width="0.8"/><line x1="50.5" y1="12" x2="53" y2="12" stroke="#555" stroke-width="0.8"/><line x1="50.5" y1="158" x2="53" y2="158" stroke="#555" stroke-width="0.8"/><line x1="50.5" y1="163" x2="53" y2="163" stroke="#555" stroke-width="0.8"/><line x1="50.5" y1="170" x2="53" y2="170" stroke="#555" stroke-width="0.8"/><line x1="72.6" y1="177.2" x2="72.6" y2="182" stroke="#333" stroke-width="1"/><line x1="89.2" y1="177.2" x2="89.2" y2="182" stroke="#333" stroke-width="1"/><line x1="130.7" y1="177.2" x2="130.7" y2="182" stroke="#333" stroke-width="1"/><line x1="170.5" y1="177.2" x2="170.5" y2="182" stroke="#333" stroke-width="1"/><line x1="208.5" y1="177.2" x2="208.5" y2="182" stroke="#333" stroke-width="1"/><text x="72.8" y="195.4" font-size="10.6" fill="#000" stroke="#000" text-anchor="middle" textLength="5.6" lengthAdjust="spacingAndGlyphs">0</text><text x="82.0" y="195.6" font-size="10.6" fill="#000" stroke="#000" textLength="9.6" lengthAdjust="spacingAndGlyphs">10</text><text x="91.9" y="191.0" font-size="7.6" fill="#000" stroke="#000">2</text><text x="123.2" y="195.6" font-size="10.6" fill="#000" stroke="#000" textLength="9.6" lengthAdjust="spacingAndGlyphs">10</text><text x="133.1" y="191.0" font-size="7.6" fill="#000" stroke="#000">3</text><text x="163.1" y="195.6" font-size="10.6" fill="#000" stroke="#000" textLength="9.6" lengthAdjust="spacingAndGlyphs">10</text><text x="173.0" y="191.0" font-size="7.6" fill="#000" stroke="#000">4</text><text x="200.8" y="195.6" font-size="10.6" fill="#000" stroke="#000" textLength="9.6" lengthAdjust="spacingAndGlyphs">10</text><text x="210.70000000000002" y="191.0" font-size="7.6" fill="#000" stroke="#000">5</text><line x1="101.09068482872726" y1="177.2" x2="101.09068482872726" y2="180" stroke="#555" stroke-width="0.8"/><line x1="108.04628956142668" y1="177.2" x2="108.04628956142668" y2="180" stroke="#555" stroke-width="0.8"/><line x1="112.98136965745452" y1="177.2" x2="112.98136965745452" y2="180" stroke="#555" stroke-width="0.8"/><line x1="116.80931517127274" y1="177.2" x2="116.80931517127274" y2="180" stroke="#555" stroke-width="0.8"/><line x1="119.93697439015392" y1="177.2" x2="119.93697439015392" y2="180" stroke="#555" stroke-width="0.8"/><line x1="122.58137258056314" y1="177.2" x2="122.58137258056314" y2="180" stroke="#555" stroke-width="0.8"/><line x1="124.87205448618178" y1="177.2" x2="124.87205448618178" y2="180" stroke="#555" stroke-width="0.8"/><line x1="126.89257912285333" y1="177.2" x2="126.89257912285333" y2="180" stroke="#555" stroke-width="0.8"/><line x1="142.59068482872723" y1="177.2" x2="142.59068482872723" y2="180" stroke="#555" stroke-width="0.8"/><line x1="149.54628956142665" y1="177.2" x2="149.54628956142665" y2="180" stroke="#555" stroke-width="0.8"/><line x1="154.4813696574545" y1="177.2" x2="154.4813696574545" y2="180" stroke="#555" stroke-width="0.8"/><line x1="158.30931517127274" y1="177.2" x2="158.30931517127274" y2="180" stroke="#555" stroke-width="0.8"/><line x1="161.43697439015392" y1="177.2" x2="161.43697439015392" y2="180" stroke="#555" stroke-width="0.8"/><line x1="164.08137258056314" y1="177.2" x2="164.08137258056314" y2="180" stroke="#555" stroke-width="0.8"/><line x1="166.37205448618175" y1="177.2" x2="166.37205448618175" y2="180" stroke="#555" stroke-width="0.8"/><line x1="168.3925791228533" y1="177.2" x2="168.3925791228533" y2="180" stroke="#555" stroke-width="0.8"/><line x1="182.39068482872725" y1="177.2" x2="182.39068482872725" y2="180" stroke="#555" stroke-width="0.8"/><line x1="189.34628956142666" y1="177.2" x2="189.34628956142666" y2="180" stroke="#555" stroke-width="0.8"/><line x1="194.28136965745452" y1="177.2" x2="194.28136965745452" y2="180" stroke="#555" stroke-width="0.8"/><line x1="198.10931517127275" y1="177.2" x2="198.10931517127275" y2="180" stroke="#555" stroke-width="0.8"/><line x1="201.23697439015393" y1="177.2" x2="201.23697439015393" y2="180" stroke="#555" stroke-width="0.8"/><line x1="203.88137258056315" y1="177.2" x2="203.88137258056315" y2="180" stroke="#555" stroke-width="0.8"/><line x1="206.17205448618176" y1="177.2" x2="206.17205448618176" y2="180" stroke="#555" stroke-width="0.8"/><line x1="208.19257912285332" y1="177.2" x2="208.19257912285332" y2="180" stroke="#555" stroke-width="0.8"/><line x1="58" y1="177.2" x2="58" y2="180" stroke="#555" stroke-width="0.8"/><line x1="63" y1="177.2" x2="63" y2="180" stroke="#555" stroke-width="0.8"/><line x1="67" y1="177.2" x2="67" y2="180" stroke="#555" stroke-width="0.8"/><line x1="77" y1="177.2" x2="77" y2="180" stroke="#555" stroke-width="0.8"/><line x1="82" y1="177.2" x2="82" y2="180" stroke="#555" stroke-width="0.8"/><line x1="86" y1="177.2" x2="86" y2="180" stroke="#555" stroke-width="0.8"/><text x="138.9" y="214.3" font-size="14.6" fill="#000" stroke="#000" text-anchor="middle" textLength="55.4" lengthAdjust="spacingAndGlyphs">Perforin</text><text stroke="#000" transform="translate(17.3,99) rotate(-90)" font-size="14.8" text-anchor="middle" textLength="86.7" lengthAdjust="spacingAndGlyphs">Granzyme B</text><text x="169.3" y="120.1" font-size="17.4" fill="#62a343" stroke="#62a343">CD16<tspan dx="0.8" dy="-6.3" font-size="12.5">+</tspan></text><text x="169.3" y="143.5" font-size="17.4" fill="#3535c9" stroke="#3535c9">CD56<tspan dx="0.8" dy="-6.3" font-size="12.5">+</tspan></text><text x="169.3" y="164.4" font-size="17.4" fill="#c9261c" stroke="#c9261c">DN</text><text x="261.6" y="18.3" font-size="24.4" fill="#000" stroke="#000" stroke-width="0.7">B</text><line x1="323.4" y1="30.6" x2="323.4" y2="162.35" stroke="#000" stroke-width="1.6"/><line x1="319" y1="161.6" x2="520" y2="161.6" stroke="#000" stroke-width="1.6"/><line x1="318.3" y1="161.6" x2="323.4" y2="161.6" stroke="#000" stroke-width="1.5"/><text x="317.5" y="165.5" font-size="10.6" fill="#000" stroke="#000" text-anchor="end" textLength="5.23" lengthAdjust="spacingAndGlyphs">0</text><line x1="318.3" y1="128.95" x2="323.4" y2="128.95" stroke="#000" stroke-width="1.5"/><text x="317.5" y="132.85" font-size="10.6" fill="#000" stroke="#000" text-anchor="end" textLength="26.13" lengthAdjust="spacingAndGlyphs">17500</text><line x1="318.3" y1="96.3" x2="323.4" y2="96.3" stroke="#000" stroke-width="1.5"/><text x="317.5" y="100.2" font-size="10.6" fill="#000" stroke="#000" text-anchor="end" textLength="26.13" lengthAdjust="spacingAndGlyphs">35000</text><line x1="318.3" y1="63.650000000000006" x2="323.4" y2="63.650000000000006" stroke="#000" stroke-width="1.5"/><text x="317.5" y="67.55000000000001" font-size="10.6" fill="#000" stroke="#000" text-anchor="end" textLength="26.13" lengthAdjust="spacingAndGlyphs">52500</text><line x1="318.3" y1="31.0" x2="323.4" y2="31.0" stroke="#000" stroke-width="1.5"/><text x="317.5" y="34.9" font-size="10.6" fill="#000" stroke="#000" text-anchor="end" textLength="26.13" lengthAdjust="spacingAndGlyphs">70000</text><text stroke="#000" transform="translate(273.6,97.2) rotate(-90)" font-size="15" text-anchor="middle" textLength="116" lengthAdjust="spacingAndGlyphs">Granzyme B MFI</text><text x="340.9" y="174.6" font-size="9" fill="#000" stroke="#000" text-anchor="middle" textLength="23.4" lengthAdjust="spacingAndGlyphs">Naive</text><text x="408.0" y="174.6" font-size="9" fill="#000" stroke="#000" text-anchor="middle" textLength="23.4" lengthAdjust="spacingAndGlyphs">Naive</text><text x="472.8" y="174.6" font-size="9" fill="#000" stroke="#000" text-anchor="middle" textLength="23.4" lengthAdjust="spacingAndGlyphs">Naive</text><text x="370.6" y="174.6" font-size="9" fill="#000" stroke="#000" text-anchor="middle" textLength="14.2" lengthAdjust="spacingAndGlyphs">SIV</text><text x="438.0" y="174.6" font-size="9" fill="#000" stroke="#000" text-anchor="middle" textLength="14.2" lengthAdjust="spacingAndGlyphs">SIV</text><text x="502.1" y="174.6" font-size="9" fill="#000" stroke="#000" text-anchor="middle" textLength="14.2" lengthAdjust="spacingAndGlyphs">SIV</text><line x1="326.5" y1="182.4" x2="386.9" y2="182.4" stroke="#000" stroke-width="1.6"/><line x1="391.1" y1="182.4" x2="451.5" y2="182.4" stroke="#000" stroke-width="1.6"/><line x1="455.5" y1="182.4" x2="515.9" y2="182.4" stroke="#000" stroke-width="1.6"/><text x="343.6" y="195.5" font-size="10.2" fill="#000" stroke="#000" textLength="27.2" lengthAdjust="spacingAndGlyphs">CD16</text><text x="371.20000000000005" y="193.3" font-size="8.6" fill="#000" stroke="#000" textLength="4.9" lengthAdjust="spacingAndGlyphs">+</text><text x="407.4" y="195.5" font-size="10.2" fill="#000" stroke="#000" textLength="27.2" lengthAdjust="spacingAndGlyphs">CD56</text><text x="435.0" y="193.3" font-size="8.6" fill="#000" stroke="#000" textLength="4.9" lengthAdjust="spacingAndGlyphs">+</text><text x="478.2" y="195.2" font-size="10.2" fill="#000" stroke="#000" textLength="15.2" lengthAdjust="spacingAndGlyphs">DN</text><line x1="403.3" y1="27.7" x2="440" y2="27.7" stroke="#444" stroke-width="1.1"/><line x1="469.7" y1="27.7" x2="506.6" y2="27.7" stroke="#444" stroke-width="1.1"/><text x="422.1" y="28.6" font-size="18" fill="#000" stroke="#000" text-anchor="middle" textLength="22" lengthAdjust="spacingAndGlyphs">***</text><text x="488.9" y="28.6" font-size="18" fill="#000" stroke="#000" text-anchor="middle" textLength="14.6" lengthAdjust="spacingAndGlyphs">**</text><circle cx="331.6" cy="98.5" r="2.5"/><circle cx="339.9" cy="102.2" r="2.5"/><circle cx="347.8" cy="96.7" r="2.5"/><circle cx="347.8" cy="117" r="2.5"/><circle cx="339.9" cy="122.9" r="2.5"/><circle cx="333" cy="126" r="2.5"/><circle cx="337" cy="127" r="2.5"/><circle cx="344" cy="126.5" r="2.5"/><circle cx="348" cy="127" r="2.5"/><circle cx="331.2" cy="131.9" r="2.5"/><circle cx="339.5" cy="132.6" r="2.5"/><circle cx="331.6" cy="136.3" r="2.5"/><circle cx="347.8" cy="139.1" r="2.5"/><circle cx="339.9" cy="141.6" r="2.5"/><line x1="328.9" y1="126.4" x2="350.5" y2="126.4" stroke="#000" stroke-width="3.0"/><circle cx="372.6" cy="97.1" r="2.6" fill="#fff" stroke="#000" stroke-width="1.25"/><circle cx="372.6" cy="73.2" r="2.6" fill="#fff" stroke="#000" stroke-width="1.25"/><circle cx="372.6" cy="110.5" r="2.6" fill="#fff" stroke="#000" stroke-width="1.25"/><circle cx="369.8" cy="118.8" r="2.6" fill="#fff" stroke="#000" stroke-width="1.25"/><circle cx="374.7" cy="118.1" r="2.6" fill="#fff" stroke="#000" stroke-width="1.25"/><circle cx="376.7" cy="120.9" r="2.6" fill="#fff" stroke="#000" stroke-width="1.25"/><circle cx="363.5" cy="125.5" r="2.6" fill="#fff" stroke="#000" stroke-width="1.25"/><circle cx="368" cy="125" r="2.6" fill="#fff" stroke="#000" stroke-width="1.25"/><circle cx="373" cy="125.5" r="2.6" fill="#fff" stroke="#000" stroke-width="1.25"/><circle cx="378" cy="125" r="2.6" fill="#fff" stroke="#000" stroke-width="1.25"/><circle cx="382" cy="125.5" r="2.6" fill="#fff" stroke="#000" stroke-width="1.25"/><circle cx="364.3" cy="131.6" r="2.6" fill="#fff" stroke="#000" stroke-width="1.25"/><circle cx="371.9" cy="134" r="2.6" fill="#fff" stroke="#000" stroke-width="1.25"/><circle cx="376.7" cy="130.5" r="2.6" fill="#fff" stroke="#000" stroke-width="1.25"/><circle cx="380.2" cy="133.3" r="2.6" fill="#fff" stroke="#000" stroke-width="1.25"/><line x1="362" y1="125.4" x2="383" y2="125.4" stroke="#000" stroke-width="3.0"/><circle cx="397.6" cy="143.3" r="2.5"/><circle cx="405.4" cy="147.1" r="2.5"/><circle cx="396.9" cy="151.2" r="2.5"/><circle cx="413.4" cy="151.9" r="2.5"/><circle cx="397" cy="155" r="2.5"/><circle cx="401" cy="157" r="2.5"/><circle cx="405" cy="154" r="2.5"/><circle cx="409" cy="157" r="2.5"/><circle cx="413" cy="155" r="2.5"/><circle cx="398" cy="158" r="2.5"/><circle cx="405" cy="158" r="2.5"/><circle cx="413" cy="158" r="2.5"/><circle cx="405.4" cy="159.3" r="2.5"/><circle cx="405" cy="151.5" r="2.5"/><line x1="394.8" y1="154" x2="415.5" y2="154" stroke="#000" stroke-width="3.0"/><circle cx="438.2" cy="48.3" r="2.6" fill="#fff" stroke="#000" stroke-width="1.25"/><circle cx="438" cy="123.2" r="2.6" fill="#fff" stroke="#000" stroke-width="1.25"/><circle cx="445.9" cy="121.8" r="2.6" fill="#fff" stroke="#000" stroke-width="1.25"/><circle cx="430" cy="136" r="2.6" fill="#fff" stroke="#000" stroke-width="1.25"/><circle cx="433.9" cy="133.3" r="2.6" fill="#fff" stroke="#000" stroke-width="1.25"/><circle cx="438" cy="137.8" r="2.6" fill="#fff" stroke="#000" stroke-width="1.25"/><circle cx="445.9" cy="134" r="2.6" fill="#fff" stroke="#000" stroke-width="1.25"/><circle cx="430" cy="147" r="2.6" fill="#fff" stroke="#000" stroke-width="1.25"/><circle cx="437" cy="147" r="2.6" fill="#fff" stroke="#000" stroke-width="1.25"/><circle cx="441" cy="146" r="2.6" fill="#fff" stroke="#000" stroke-width="1.25"/><circle cx="446" cy="146" r="2.6" fill="#fff" stroke="#000" stroke-width="1.25"/><circle cx="430" cy="149.8" r="2.6" fill="#fff" stroke="#000" stroke-width="1.25"/><circle cx="438" cy="152.6" r="2.6" fill="#fff" stroke="#000" stroke-width="1.25"/><circle cx="445.9" cy="151.9" r="2.6" fill="#fff" stroke="#000" stroke-width="1.25"/><line x1="427.2" y1="146.1" x2="448" y2="146.1" stroke="#000" stroke-width="3.0"/><circle cx="469" cy="141" r="2.5"/><circle cx="477" cy="143" r="2.5"/><circle cx="463" cy="146" r="2.5"/><circle cx="470" cy="146" r="2.5"/><circle cx="479" cy="146" r="2.5"/><circle cx="462" cy="149" r="2.5"/><circle cx="468" cy="150" r="2.5"/><circle cx="474" cy="148" r="2.5"/><circle cx="480" cy="150" r="2.5"/><circle cx="466" cy="152" r="2.5"/><circle cx="476" cy="151" r="2.5"/><circle cx="470.4" cy="154.9" r="2.5"/><circle cx="473" cy="145" r="2.5"/><circle cx="465" cy="148" r="2.5"/><circle cx="471" cy="150" r="2.5"/><circle cx="477" cy="148" r="2.5"/><line x1="460" y1="146.4" x2="482" y2="146.4" stroke="#000" stroke-width="3.0"/><circle cx="503.2" cy="85.7" r="2.6" fill="#fff" stroke="#000" stroke-width="1.25"/><circle cx="503.3" cy="130.5" r="2.6" fill="#fff" stroke="#000" stroke-width="1.25"/><circle cx="510.9" cy="127.1" r="2.6" fill="#fff" stroke="#000" stroke-width="1.25"/><circle cx="510.9" cy="137.8" r="2.6" fill="#fff" stroke="#000" stroke-width="1.25"/><circle cx="495.3" cy="140.9" r="2.6" fill="#fff" stroke="#000" stroke-width="1.25"/><circle cx="503.3" cy="140.6" r="2.6" fill="#fff" stroke="#000" stroke-width="1.25"/><circle cx="498" cy="144" r="2.6" fill="#fff" stroke="#000" stroke-width="1.25"/><circle cx="507" cy="144" r="2.6" fill="#fff" stroke="#000" stroke-width="1.25"/><circle cx="495.3" cy="149.1" r="2.6" fill="#fff" stroke="#000" stroke-width="1.25"/><circle cx="503.3" cy="149.8" r="2.6" fill="#fff" stroke="#000" stroke-width="1.25"/><circle cx="510.9" cy="149.1" r="2.6" fill="#fff" stroke="#000" stroke-width="1.25"/><line x1="492.9" y1="143.6" x2="513.6" y2="143.6" stroke="#000" stroke-width="3.0"/><text x="-0.6" y="259.8" font-size="25.5" fill="#000" stroke="#000" textLength="17.2" lengthAdjust="spacingAndGlyphs" stroke-width="0.9">C</text><line x1="42.7" y1="268.3" x2="42.7" y2="399.65" stroke="#000" stroke-width="1.6"/><line x1="37.8" y1="398.9" x2="238.8" y2="398.9" stroke="#000" stroke-width="1.6"/><line x1="37.8" y1="398.9" x2="42.7" y2="398.9" stroke="#000" stroke-width="1.5"/><text x="37.2" y="402.79999999999995" font-size="10.6" fill="#000" stroke="#000" text-anchor="end" textLength="5.23" lengthAdjust="spacingAndGlyphs">0</text><line x1="37.8" y1="372.84" x2="42.7" y2="372.84" stroke="#000" stroke-width="1.5"/><text x="37.2" y="376.73999999999995" font-size="10.6" fill="#000" stroke="#000" text-anchor="end" textLength="10.45" lengthAdjust="spacingAndGlyphs">20</text><line x1="37.8" y1="346.78" x2="42.7" y2="346.78" stroke="#000" stroke-width="1.5"/><text x="37.2" y="350.67999999999995" font-size="10.6" fill="#000" stroke="#000" text-anchor="end" textLength="10.45" lengthAdjust="spacingAndGlyphs">40</text><line x1="37.8" y1="320.71999999999997" x2="42.7" y2="320.71999999999997" stroke="#000" stroke-width="1.5"/><text x="37.2" y="324.61999999999995" font-size="10.6" fill="#000" stroke="#000" text-anchor="end" textLength="10.45" lengthAdjust="spacingAndGlyphs">60</text><line x1="37.8" y1="294.65999999999997" x2="42.7" y2="294.65999999999997" stroke="#000" stroke-width="1.5"/><text x="37.2" y="298.55999999999995" font-size="10.6" fill="#000" stroke="#000" text-anchor="end" textLength="10.45" lengthAdjust="spacingAndGlyphs">80</text><line x1="37.8" y1="268.6" x2="42.7" y2="268.6" stroke="#000" stroke-width="1.5"/><text x="37.2" y="272.5" font-size="10.6" fill="#000" stroke="#000" text-anchor="end" textLength="15.68" lengthAdjust="spacingAndGlyphs">100</text><g transform="translate(12.6,368.8) rotate(-90)"><text stroke="#000" x="0" y="0" font-size="15" textLength="55" lengthAdjust="spacingAndGlyphs">% CD69</text><text stroke="#000" x="57.2" y="-4.4" font-size="9.4" textLength="5.6" lengthAdjust="spacingAndGlyphs">+</text></g><text x="60.7" y="411.7" font-size="9" fill="#000" stroke="#000" text-anchor="middle" textLength="23.8" lengthAdjust="spacingAndGlyphs">Naive</text><text x="125.8" y="411.7" font-size="9" fill="#000" stroke="#000" text-anchor="middle" textLength="23.8" lengthAdjust="spacingAndGlyphs">Naive</text><text x="192.7" y="411.7" font-size="9" fill="#000" stroke="#000" text-anchor="middle" textLength="23.8" lengthAdjust="spacingAndGlyphs">Naive</text><text x="90.7" y="411.7" font-size="9" fill="#000" stroke="#000" text-anchor="middle" textLength="14" lengthAdjust="spacingAndGlyphs">SIV</text><text x="157" y="411.7" font-size="9" fill="#000" stroke="#000" text-anchor="middle" textLength="14" lengthAdjust="spacingAndGlyphs">SIV</text><text x="222" y="411.7" font-size="9" fill="#000" stroke="#000" text-anchor="middle" textLength="14" lengthAdjust="spacingAndGlyphs">SIV</text><line x1="45.8" y1="419.6" x2="106.3" y2="419.6" stroke="#000" stroke-width="1.6"/><line x1="110.8" y1="419.6" x2="171.5" y2="419.6" stroke="#000" stroke-width="1.6"/><line x1="176" y1="419.6" x2="235" y2="419.6" stroke="#000" stroke-width="1.6"/><text x="62.7" y="432.6" font-size="10.2" fill="#000" stroke="#000" textLength="27.2" lengthAdjust="spacingAndGlyphs">CD16</text><text x="90.30000000000001" y="430.40000000000003" font-size="8.6" fill="#000" stroke="#000" textLength="4.9" lengthAdjust="spacingAndGlyphs">+</text><text x="126.9" y="432.6" font-size="10.2" fill="#000" stroke="#000" textLength="27.2" lengthAdjust="spacingAndGlyphs">CD56</text><text x="154.5" y="430.40000000000003" font-size="8.6" fill="#000" stroke="#000" textLength="4.9" lengthAdjust="spacingAndGlyphs">+</text><text x="197.6" y="432.6" font-size="10.2" fill="#000" stroke="#000" textLength="15.0" lengthAdjust="spacingAndGlyphs">DN</text><line x1="58.5" y1="266.2" x2="95" y2="266.2" stroke="#444" stroke-width="1.1"/><text x="77.35" y="268" font-size="18" fill="#000" stroke="#000" text-anchor="middle" textLength="21.5" lengthAdjust="spacingAndGlyphs">***</text><line x1="122" y1="266.2" x2="158.75" y2="266.2" stroke="#444" stroke-width="1.1"/><text x="140.975" y="268" font-size="18" fill="#000" stroke="#000" text-anchor="middle" textLength="21.5" lengthAdjust="spacingAndGlyphs">***</text><line x1="189.5" y1="266.2" x2="226.25" y2="266.2" stroke="#444" stroke-width="1.1"/><text x="208.475" y="268" font-size="18" fill="#000" stroke="#000" text-anchor="middle" textLength="21.5" lengthAdjust="spacingAndGlyphs">***</text><circle cx="51.2" cy="290.3" r="2.5"/><circle cx="56.7" cy="287.6" r="2.5"/><circle cx="62.9" cy="287.6" r="2.5"/><circle cx="67.1" cy="289.7" r="2.5"/><circle cx="51.2" cy="293.8" r="2.5"/><circle cx="58.8" cy="291.7" r="2.5"/><circle cx="67.1" cy="294.5" r="2.5"/><circle cx="54.7" cy="301.4" r="2.5"/><circle cx="58.8" cy="299.3" r="2.5"/><circle cx="51.2" cy="305.5" r="2.5"/><circle cx="67.1" cy="304.6" r="2.5"/><circle cx="58.8" cy="307.6" r="2.5"/><circle cx="51" cy="311" r="2.5"/><circle cx="57" cy="312" r="2.5"/><circle cx="63" cy="311" r="2.5"/><circle cx="67" cy="311" r="2.5"/><circle cx="58.8" cy="315.9" r="2.5"/><circle cx="54.7" cy="321.4" r="2.5"/><circle cx="51.2" cy="324.1" r="2.5"/><circle cx="67.1" cy="322.8" r="2.5"/><circle cx="58.8" cy="325.5" r="2.5"/><circle cx="51.2" cy="327.6" r="2.5"/><circle cx="58.8" cy="333.1" r="2.5"/><circle cx="67.1" cy="333.1" r="2.5"/><circle cx="58.8" cy="349.4" r="2.5"/><circle cx="58.8" cy="357.7" r="2.5"/><line x1="48.4" y1="311" x2="69.8" y2="311" stroke="#000" stroke-width="3.0"/><circle cx="87.6" cy="274.9" r="2.6" fill="#fff" stroke="#000" stroke-width="1.25"/><circle cx="99.8" cy="276.6" r="2.6" fill="#fff" stroke="#000" stroke-width="1.25"/><circle cx="83.7" cy="280.2" r="2.6" fill="#fff" stroke="#000" stroke-width="1.25"/><circle cx="91.7" cy="281.1" r="2.6" fill="#fff" stroke="#000" stroke-width="1.25"/><circle cx="83.7" cy="285.3" r="2.6" fill="#fff" stroke="#000" stroke-width="1.25"/><circle cx="95.2" cy="284.1" r="2.6" fill="#fff" stroke="#000" stroke-width="1.25"/><circle cx="88.3" cy="283" r="2.6" fill="#fff" stroke="#000" stroke-width="1.25"/><circle cx="84" cy="289" r="2.6" fill="#fff" stroke="#000" stroke-width="1.25"/><circle cx="90" cy="289" r="2.6" fill="#fff" stroke="#000" stroke-width="1.25"/><circle cx="96" cy="289" r="2.6" fill="#fff" stroke="#000" stroke-width="1.25"/><circle cx="100" cy="288" r="2.6" fill="#fff" stroke="#000" stroke-width="1.25"/><circle cx="88.3" cy="294.5" r="2.6" fill="#fff" stroke="#000" stroke-width="1.25"/><circle cx="95.2" cy="292.2" r="2.6" fill="#fff" stroke="#000" stroke-width="1.25"/><circle cx="83.7" cy="297.9" r="2.6" fill="#fff" stroke="#000" stroke-width="1.25"/><circle cx="91.7" cy="298.6" r="2.6" fill="#fff" stroke="#000" stroke-width="1.25"/><circle cx="99.8" cy="297.9" r="2.6" fill="#fff" stroke="#000" stroke-width="1.25"/><circle cx="83.7" cy="305.5" r="2.6" fill="#fff" stroke="#000" stroke-width="1.25"/><circle cx="91.7" cy="312.9" r="2.6" fill="#fff" stroke="#000" stroke-width="1.25"/><circle cx="99.8" cy="312.4" r="2.6" fill="#fff" stroke="#000" stroke-width="1.25"/><line x1="80.9" y1="289.4" x2="102.5" y2="289.4" stroke="#000" stroke-width="3.0"/><circle cx="124.1" cy="377.4" r="2.5"/><circle cx="116" cy="385" r="2.5"/><circle cx="121" cy="385" r="2.5"/><circle cx="126" cy="385" r="2.5"/><circle cx="132" cy="385" r="2.5"/><circle cx="116" cy="390" r="2.5"/><circle cx="121" cy="391" r="2.5"/><circle cx="126" cy="390" r="2.5"/><circle cx="132" cy="390" r="2.5"/><circle cx="116" cy="395" r="2.5"/><circle cx="121" cy="396" r="2.5"/><circle cx="126" cy="395" r="2.5"/><circle cx="132" cy="395" r="2.5"/><circle cx="118.5" cy="387.5" r="2.5"/><circle cx="123.5" cy="387.5" r="2.5"/><circle cx="129" cy="388" r="2.5"/><circle cx="118.5" cy="393" r="2.5"/><circle cx="123.5" cy="393" r="2.5"/><circle cx="129" cy="393" r="2.5"/><circle cx="133.5" cy="389" r="2.5"/><circle cx="114.5" cy="389" r="2.5"/><line x1="114" y1="389" x2="134.2" y2="389" stroke="#000" stroke-width="3.0"/><circle cx="157.3" cy="351.2" r="2.6" fill="#fff" stroke="#000" stroke-width="1.25"/><circle cx="149.1" cy="368.7" r="2.6" fill="#fff" stroke="#000" stroke-width="1.25"/><circle cx="152.9" cy="367.7" r="2.6" fill="#fff" stroke="#000" stroke-width="1.25"/><circle cx="161.5" cy="367.7" r="2.6" fill="#fff" stroke="#000" stroke-width="1.25"/><circle cx="165.6" cy="371.4" r="2.6" fill="#fff" stroke="#000" stroke-width="1.25"/><circle cx="157.3" cy="373.7" r="2.6" fill="#fff" stroke="#000" stroke-width="1.25"/><circle cx="153.6" cy="377.4" r="2.6" fill="#fff" stroke="#000" stroke-width="1.25"/><circle cx="161.5" cy="377.4" r="2.6" fill="#fff" stroke="#000" stroke-width="1.25"/><circle cx="149" cy="381" r="2.6" fill="#fff" stroke="#000" stroke-width="1.25"/><circle cx="156" cy="381" r="2.6" fill="#fff" stroke="#000" stroke-width="1.25"/><circle cx="163" cy="381" r="2.6" fill="#fff" stroke="#000" stroke-width="1.25"/><circle cx="166" cy="380" r="2.6" fill="#fff" stroke="#000" stroke-width="1.25"/><circle cx="153.6" cy="389.4" r="2.6" fill="#fff" stroke="#000" stroke-width="1.25"/><circle cx="161.5" cy="389.4" r="2.6" fill="#fff" stroke="#000" stroke-width="1.25"/><circle cx="149.6" cy="391.6" r="2.6" fill="#fff" stroke="#000" stroke-width="1.25"/><circle cx="157.3" cy="394.6" r="2.6" fill="#fff" stroke="#000" stroke-width="1.25"/><circle cx="164.8" cy="393.1" r="2.6" fill="#fff" stroke="#000" stroke-width="1.25"/><line x1="146.9" y1="382.4" x2="167.8" y2="382.4" stroke="#000" stroke-width="3.0"/><circle cx="189.7" cy="335.7" r="2.5"/><circle cx="193.8" cy="353.3" r="2.5"/><circle cx="185.5" cy="352.2" r="2.5"/><circle cx="190.1" cy="318.3" r="2.5"/><circle cx="182" cy="324.8" r="2.5"/><circle cx="185.8" cy="322.6" r="2.5"/><circle cx="190.1" cy="326.3" r="2.5"/><circle cx="197.8" cy="323.7" r="2.5"/><circle cx="190.1" cy="334.6" r="2.5"/><circle cx="197.8" cy="334.6" r="2.5"/><circle cx="186.9" cy="337.9" r="2.5"/><circle cx="193.4" cy="337.9" r="2.5"/><circle cx="180" cy="342" r="2.5"/><circle cx="186" cy="341" r="2.5"/><circle cx="193" cy="341" r="2.5"/><circle cx="198" cy="342" r="2.5"/><circle cx="182" cy="346.7" r="2.5"/><circle cx="190.1" cy="345.6" r="2.5"/><circle cx="197.8" cy="347.8" r="2.5"/><circle cx="185.8" cy="352.1" r="2.5"/><circle cx="192.3" cy="351" r="2.5"/><circle cx="197.8" cy="354.3" r="2.5"/><circle cx="182" cy="356.5" r="2.5"/><circle cx="190.1" cy="359.1" r="2.5"/><circle cx="197.8" cy="364.2" r="2.5"/><circle cx="190.1" cy="369.6" r="2.5"/><line x1="179.2" y1="342.3" x2="201.1" y2="342.3" stroke="#000" stroke-width="3.0"/><circle cx="214.8" cy="293.6" r="2.6" fill="#fff" stroke="#000" stroke-width="1.25"/><circle cx="230.1" cy="294.9" r="2.6" fill="#fff" stroke="#000" stroke-width="1.25"/><circle cx="222.9" cy="297.9" r="2.6" fill="#fff" stroke="#000" stroke-width="1.25"/><circle cx="218.6" cy="303" r="2.6" fill="#fff" stroke="#000" stroke-width="1.25"/><circle cx="226.6" cy="301.9" r="2.6" fill="#fff" stroke="#000" stroke-width="1.25"/><circle cx="214.8" cy="308.4" r="2.6" fill="#fff" stroke="#000" stroke-width="1.25"/><circle cx="222.9" cy="309.5" r="2.6" fill="#fff" stroke="#000" stroke-width="1.25"/><circle cx="230.6" cy="306.2" r="2.6" fill="#fff" stroke="#000" stroke-width="1.25"/><circle cx="214.8" cy="314.5" r="2.6" fill="#fff" stroke="#000" stroke-width="1.25"/><circle cx="220" cy="318" r="2.6" fill="#fff" stroke="#000" stroke-width="1.25"/><circle cx="228" cy="318" r="2.6" fill="#fff" stroke="#000" stroke-width="1.25"/><circle cx="232" cy="318" r="2.6" fill="#fff" stroke="#000" stroke-width="1.25"/><circle cx="218.6" cy="324.8" r="2.6" fill="#fff" stroke="#000" stroke-width="1.25"/><circle cx="230.6" cy="325.9" r="2.6" fill="#fff" stroke="#000" stroke-width="1.25"/><circle cx="214.8" cy="328.1" r="2.6" fill="#fff" stroke="#000" stroke-width="1.25"/><circle cx="222.9" cy="329.8" r="2.6" fill="#fff" stroke="#000" stroke-width="1.25"/><circle cx="226.6" cy="333.6" r="2.6" fill="#fff" stroke="#000" stroke-width="1.25"/><circle cx="214.8" cy="338.6" r="2.6" fill="#fff" stroke="#000" stroke-width="1.25"/><circle cx="222.9" cy="340.1" r="2.6" fill="#fff" stroke="#000" stroke-width="1.25"/><circle cx="230.6" cy="339" r="2.6" fill="#fff" stroke="#000" stroke-width="1.25"/><line x1="212" y1="319.3" x2="233.9" y2="319.3" stroke="#000" stroke-width="3.0"/><line x1="323.4" y1="267.8" x2="323.4" y2="399.65" stroke="#000" stroke-width="1.6"/><line x1="318.3" y1="398.9" x2="520" y2="398.9" stroke="#000" stroke-width="1.6"/><line x1="318.3" y1="398.9" x2="323.4" y2="398.9" stroke="#000" stroke-width="1.5"/><text x="317.5" y="402.79999999999995" font-size="10.6" fill="#000" stroke="#000" text-anchor="end" textLength="5.23" lengthAdjust="spacingAndGlyphs">0</text><line x1="318.3" y1="366.17999999999995" x2="323.4" y2="366.17999999999995" stroke="#000" stroke-width="1.5"/><text x="317.5" y="370.0799999999999" font-size="10.6" fill="#000" stroke="#000" text-anchor="end" textLength="20.91" lengthAdjust="spacingAndGlyphs">1000</text><line x1="318.3" y1="333.46" x2="323.4" y2="333.46" stroke="#000" stroke-width="1.5"/><text x="317.5" y="337.35999999999996" font-size="10.6" fill="#000" stroke="#000" text-anchor="end" textLength="20.91" lengthAdjust="spacingAndGlyphs">2000</text><line x1="318.3" y1="300.74" x2="323.4" y2="300.74" stroke="#000" stroke-width="1.5"/><text x="317.5" y="304.64" font-size="10.6" fill="#000" stroke="#000" text-anchor="end" textLength="20.91" lengthAdjust="spacingAndGlyphs">3000</text><line x1="318.3" y1="268.02" x2="323.4" y2="268.02" stroke="#000" stroke-width="1.5"/><text x="317.5" y="271.91999999999996" font-size="10.6" fill="#000" stroke="#000" text-anchor="end" textLength="20.91" lengthAdjust="spacingAndGlyphs">4000</text><text stroke="#000" transform="translate(279.6,330.2) rotate(-90)" font-size="15" text-anchor="middle" textLength="90" lengthAdjust="spacingAndGlyphs">Perforin MFI</text><text x="340.6" y="411.7" font-size="9" fill="#000" stroke="#000" text-anchor="middle" textLength="23.5" lengthAdjust="spacingAndGlyphs">Naive</text><text x="407.8" y="411.7" font-size="9" fill="#000" stroke="#000" text-anchor="middle" textLength="23.5" lengthAdjust="spacingAndGlyphs">Naive</text><text x="472.8" y="411.7" font-size="9" fill="#000" stroke="#000" text-anchor="middle" textLength="23.5" lengthAdjust="spacingAndGlyphs">Naive</text><text x="370.7" y="411.7" font-size="9" fill="#000" stroke="#000" text-anchor="middle" textLength="14.4" lengthAdjust="spacingAndGlyphs">SIV</text><text x="438.0" y="411.7" font-size="9" fill="#000" stroke="#000" text-anchor="middle" textLength="14.4" lengthAdjust="spacingAndGlyphs">SIV</text><text x="502.1" y="411.7" font-size="9" fill="#000" stroke="#000" text-anchor="middle" textLength="14.4" lengthAdjust="spacingAndGlyphs">SIV</text><line x1="326.5" y1="419.4" x2="386.9" y2="419.4" stroke="#000" stroke-width="1.6"/><line x1="391.1" y1="419.4" x2="451.5" y2="419.4" stroke="#000" stroke-width="1.6"/><line x1="455.5" y1="419.4" x2="515.9" y2="419.4" stroke="#000" stroke-width="1.6"/><text x="343.4" y="432.6" font-size="10.2" fill="#000" stroke="#000" textLength="27.2" lengthAdjust="spacingAndGlyphs">CD16</text><text x="371.0" y="430.40000000000003" font-size="8.6" fill="#000" stroke="#000" textLength="4.9" lengthAdjust="spacingAndGlyphs">+</text><text x="407.3" y="432.6" font-size="10.2" fill="#000" stroke="#000" textLength="27.2" lengthAdjust="spacingAndGlyphs">CD56</text><text x="434.90000000000003" y="430.40000000000003" font-size="8.6" fill="#000" stroke="#000" textLength="4.9" lengthAdjust="spacingAndGlyphs">+</text><text x="478.2" y="432.6" font-size="10.2" fill="#000" stroke="#000" textLength="15.2" lengthAdjust="spacingAndGlyphs">DN</text><line x1="403.75" y1="268.75" x2="440.5" y2="268.75" stroke="#444" stroke-width="1.1"/><line x1="475" y1="268.75" x2="511.25" y2="268.75" stroke="#444" stroke-width="1.1"/><text x="422.7" y="270.6" font-size="18" fill="#000" stroke="#000" text-anchor="middle" textLength="14.5" lengthAdjust="spacingAndGlyphs">**</text><text x="493.7" y="270.6" font-size="18" fill="#000" stroke="#000" text-anchor="middle" textLength="6.5" lengthAdjust="spacingAndGlyphs">*</text><circle cx="339.8" cy="283.4" r="2.5"/><circle cx="347.8" cy="291.1" r="2.5"/><circle cx="339.8" cy="296.2" r="2.5"/><circle cx="331.8" cy="302.7" r="2.5"/><circle cx="339.8" cy="306.4" r="2.5"/><circle cx="339.8" cy="318.1" r="2.5"/><circle cx="347.8" cy="316.5" r="2.5"/><circle cx="335" cy="325.5" r="2.5"/><circle cx="340" cy="325.5" r="2.5"/><circle cx="347.5" cy="327.8" r="2.5"/><circle cx="331.9" cy="331.5" r="2.5"/><circle cx="339.8" cy="331.9" r="2.5"/><circle cx="331.9" cy="341" r="2.5"/><circle cx="339.8" cy="342.8" r="2.5"/><circle cx="343.5" cy="340.3" r="2.5"/><circle cx="347.8" cy="342.5" r="2.5"/><line x1="329.4" y1="325.6" x2="350.6" y2="325.6" stroke="#000" stroke-width="3.0"/><circle cx="372.5" cy="287.1" r="2.6" fill="#fff" stroke="#000" stroke-width="1.25"/><circle cx="380.5" cy="285.5" r="2.6" fill="#fff" stroke="#000" stroke-width="1.25"/><circle cx="372.5" cy="300.4" r="2.6" fill="#fff" stroke="#000" stroke-width="1.25"/><circle cx="376.8" cy="306.9" r="2.6" fill="#fff" stroke="#000" stroke-width="1.25"/><circle cx="364.4" cy="310.4" r="2.6" fill="#fff" stroke="#000" stroke-width="1.25"/><circle cx="380.5" cy="311.7" r="2.6" fill="#fff" stroke="#000" stroke-width="1.25"/><circle cx="372.5" cy="314.4" r="2.6" fill="#fff" stroke="#000" stroke-width="1.25"/><circle cx="376.8" cy="320.5" r="2.6" fill="#fff" stroke="#000" stroke-width="1.25"/><circle cx="368.8" cy="324.8" r="2.6" fill="#fff" stroke="#000" stroke-width="1.25"/><circle cx="364.8" cy="327.3" r="2.6" fill="#fff" stroke="#000" stroke-width="1.25"/><circle cx="372.8" cy="327.5" r="2.6" fill="#fff" stroke="#000" stroke-width="1.25"/><circle cx="380.3" cy="326.9" r="2.6" fill="#fff" stroke="#000" stroke-width="1.25"/><circle cx="364.8" cy="335.3" r="2.6" fill="#fff" stroke="#000" stroke-width="1.25"/><circle cx="380.3" cy="336.5" r="2.6" fill="#fff" stroke="#000" stroke-width="1.25"/><circle cx="372.5" cy="341.3" r="2.6" fill="#fff" stroke="#000" stroke-width="1.25"/><line x1="361.7" y1="321.3" x2="382.9" y2="321.3" stroke="#000" stroke-width="3.0"/><circle cx="405.2" cy="357" r="2.5"/><circle cx="402.6" cy="361.4" r="2.5"/><circle cx="407.7" cy="361.4" r="2.5"/><circle cx="397.6" cy="366" r="2.5"/><circle cx="405" cy="365" r="2.5"/><circle cx="413" cy="366" r="2.5"/><circle cx="405.2" cy="368.4" r="2.5"/><circle cx="402" cy="372.2" r="2.5"/><circle cx="407.7" cy="372.8" r="2.5"/><circle cx="397.3" cy="375.1" r="2.5"/><circle cx="405.2" cy="377.2" r="2.5"/><circle cx="413" cy="376" r="2.5"/><line x1="394.4" y1="365.9" x2="415.9" y2="365.9" stroke="#000" stroke-width="3.0"/><circle cx="437.9" cy="324" r="2.6" fill="#fff" stroke="#000" stroke-width="1.25"/><circle cx="437.9" cy="338" r="2.6" fill="#fff" stroke="#000" stroke-width="1.25"/><circle cx="446" cy="337.2" r="2.6" fill="#fff" stroke="#000" stroke-width="1.25"/><circle cx="446" cy="345.2" r="2.6" fill="#fff" stroke="#000" stroke-width="1.25"/><circle cx="429.8" cy="348.8" r="2.6" fill="#fff" stroke="#000" stroke-width="1.25"/><circle cx="429.8" cy="351.6" r="2.6" fill="#fff" stroke="#000" stroke-width="1.25"/><circle cx="437.4" cy="349.4" r="2.6" fill="#fff" stroke="#000" stroke-width="1.25"/><circle cx="433.6" cy="363.3" r="2.6" fill="#fff" stroke="#000" stroke-width="1.25"/><circle cx="441.2" cy="363.3" r="2.6" fill="#fff" stroke="#000" stroke-width="1.25"/><circle cx="429.8" cy="367.1" r="2.6" fill="#fff" stroke="#000" stroke-width="1.25"/><circle cx="437.4" cy="367.8" r="2.6" fill="#fff" stroke="#000" stroke-width="1.25"/><circle cx="445.6" cy="367.1" r="2.6" fill="#fff" stroke="#000" stroke-width="1.25"/><circle cx="437.4" cy="376.4" r="2.6" fill="#fff" stroke="#000" stroke-width="1.25"/><line x1="427.3" y1="357.6" x2="448.2" y2="357.6" stroke="#000" stroke-width="3.0"/><circle cx="446.9" cy="357.4" r="2.5"/><circle cx="470.6" cy="342" r="2.5"/><circle cx="467.1" cy="347.6" r="2.5"/><circle cx="472.7" cy="348.4" r="2.5"/><circle cx="462" cy="352" r="2.5"/><circle cx="467" cy="351" r="2.5"/><circle cx="477" cy="351" r="2.5"/><circle cx="480" cy="353" r="2.5"/><circle cx="464.5" cy="350" r="2.5"/><circle cx="474.5" cy="350.5" r="2.5"/><circle cx="470" cy="351.5" r="2.5"/><circle cx="466.6" cy="359.4" r="2.5"/><circle cx="462.7" cy="361.3" r="2.5"/><circle cx="470.6" cy="362.1" r="2.5"/><circle cx="478.7" cy="361" r="2.5"/><circle cx="462.7" cy="367" r="2.5"/><circle cx="470.6" cy="370.6" r="2.5"/><circle cx="478.7" cy="368.6" r="2.5"/><line x1="460.6" y1="353" x2="481.1" y2="353" stroke="#000" stroke-width="3.0"/><circle cx="503" cy="325.1" r="2.6" fill="#fff" stroke="#000" stroke-width="1.25"/><circle cx="511.3" cy="322.4" r="2.6" fill="#fff" stroke="#000" stroke-width="1.25"/><circle cx="495.5" cy="336.9" r="2.6" fill="#fff" stroke="#000" stroke-width="1.25"/><circle cx="503" cy="338" r="2.6" fill="#fff" stroke="#000" stroke-width="1.25"/><circle cx="507.3" cy="341.2" r="2.6" fill="#fff" stroke="#000" stroke-width="1.25"/><circle cx="495.5" cy="345" r="2.6" fill="#fff" stroke="#000" stroke-width="1.25"/><circle cx="503" cy="346" r="2.6" fill="#fff" stroke="#000" stroke-width="1.25"/><circle cx="511" cy="345" r="2.6" fill="#fff" stroke="#000" stroke-width="1.25"/><circle cx="511.3" cy="350.9" r="2.6" fill="#fff" stroke="#000" stroke-width="1.25"/><circle cx="495.5" cy="353.6" r="2.6" fill="#fff" stroke="#000" stroke-width="1.25"/><circle cx="503" cy="356.8" r="2.6" fill="#fff" stroke="#000" stroke-width="1.25"/><circle cx="495.5" cy="361" r="2.6" fill="#fff" stroke="#000" stroke-width="1.25"/><circle cx="511.3" cy="361" r="2.6" fill="#fff" stroke="#000" stroke-width="1.25"/><circle cx="503" cy="369" r="2.6" fill="#fff" stroke="#000" stroke-width="1.25"/><line x1="492.8" y1="347.2" x2="513.7" y2="347.2" stroke="#000" stroke-width="3.0"/>
</svg>
</body></html>
